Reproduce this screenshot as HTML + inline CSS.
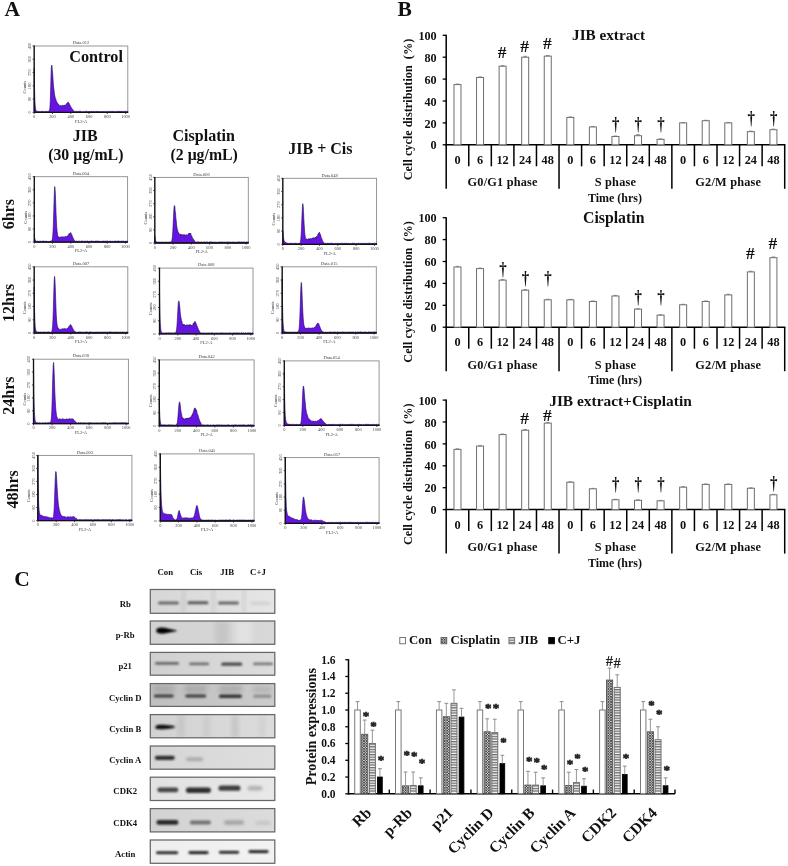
<!DOCTYPE html>
<html><head><meta charset="utf-8"><title>Figure</title>
<style>html,body{margin:0;padding:0;background:#fff;overflow:hidden;width:788px;height:866px;} svg{display:block;} text{font-family:'Liberation Serif', serif;fill:#111;}</style>
</head><body>
<svg width="788" height="866" viewBox="0 0 788 866">
<rect width="788" height="866" fill="#fff"/>
<text x="4.50" y="16.20" font-size="21.5" font-weight="bold" text-anchor="start" >A</text>
<text x="397.50" y="16.20" font-size="21.5" font-weight="bold" text-anchor="start" >B</text>
<text x="14.20" y="585.50" font-size="21.5" font-weight="bold" text-anchor="start" >C</text>
<line x1="446.2" y1="34.80" x2="446.2" y2="188.80" stroke="#000" stroke-width="1.5"/>
<line x1="445.5" y1="144.80" x2="785.40" y2="144.80" stroke="#000" stroke-width="1.5"/>
<line x1="442.7" y1="144.80" x2="446.2" y2="144.80" stroke="#000" stroke-width="1.3"/>
<text x="436.70" y="149.40" font-size="12.2" font-weight="bold" text-anchor="end">0</text>
<line x1="442.7" y1="122.90" x2="446.2" y2="122.90" stroke="#000" stroke-width="1.3"/>
<text x="436.70" y="127.50" font-size="12.2" font-weight="bold" text-anchor="end">20</text>
<line x1="442.7" y1="101.00" x2="446.2" y2="101.00" stroke="#000" stroke-width="1.3"/>
<text x="436.70" y="105.60" font-size="12.2" font-weight="bold" text-anchor="end">40</text>
<line x1="442.7" y1="79.10" x2="446.2" y2="79.10" stroke="#000" stroke-width="1.3"/>
<text x="436.70" y="83.70" font-size="12.2" font-weight="bold" text-anchor="end">60</text>
<line x1="442.7" y1="57.20" x2="446.2" y2="57.20" stroke="#000" stroke-width="1.3"/>
<text x="436.70" y="61.80" font-size="12.2" font-weight="bold" text-anchor="end">80</text>
<line x1="442.7" y1="35.30" x2="446.2" y2="35.30" stroke="#000" stroke-width="1.3"/>
<text x="436.70" y="39.90" font-size="12.2" font-weight="bold" text-anchor="end">100</text>
<line x1="468.77" y1="144.80" x2="468.77" y2="166.30" stroke="#000" stroke-width="1.5"/>
<line x1="491.33" y1="144.80" x2="491.33" y2="166.30" stroke="#000" stroke-width="1.5"/>
<line x1="513.90" y1="144.80" x2="513.90" y2="166.30" stroke="#000" stroke-width="1.5"/>
<line x1="536.47" y1="144.80" x2="536.47" y2="166.30" stroke="#000" stroke-width="1.5"/>
<line x1="559.03" y1="144.80" x2="559.03" y2="188.80" stroke="#000" stroke-width="1.5"/>
<line x1="581.60" y1="144.80" x2="581.60" y2="166.30" stroke="#000" stroke-width="1.5"/>
<line x1="604.17" y1="144.80" x2="604.17" y2="166.30" stroke="#000" stroke-width="1.5"/>
<line x1="626.73" y1="144.80" x2="626.73" y2="166.30" stroke="#000" stroke-width="1.5"/>
<line x1="649.30" y1="144.80" x2="649.30" y2="166.30" stroke="#000" stroke-width="1.5"/>
<line x1="671.87" y1="144.80" x2="671.87" y2="188.80" stroke="#000" stroke-width="1.5"/>
<line x1="694.43" y1="144.80" x2="694.43" y2="166.30" stroke="#000" stroke-width="1.5"/>
<line x1="717.00" y1="144.80" x2="717.00" y2="166.30" stroke="#000" stroke-width="1.5"/>
<line x1="739.57" y1="144.80" x2="739.57" y2="166.30" stroke="#000" stroke-width="1.5"/>
<line x1="762.13" y1="144.80" x2="762.13" y2="166.30" stroke="#000" stroke-width="1.5"/>
<line x1="784.70" y1="144.80" x2="784.70" y2="188.80" stroke="#000" stroke-width="1.5"/>
<text x="457.48" y="163.70" font-size="12.3" font-weight="bold" text-anchor="middle">0</text>
<text x="480.05" y="163.70" font-size="12.3" font-weight="bold" text-anchor="middle">6</text>
<text x="502.62" y="163.70" font-size="12.3" font-weight="bold" text-anchor="middle">12</text>
<text x="525.18" y="163.70" font-size="12.3" font-weight="bold" text-anchor="middle">24</text>
<text x="547.75" y="163.70" font-size="12.3" font-weight="bold" text-anchor="middle">48</text>
<text x="570.32" y="163.70" font-size="12.3" font-weight="bold" text-anchor="middle">0</text>
<text x="592.88" y="163.70" font-size="12.3" font-weight="bold" text-anchor="middle">6</text>
<text x="615.45" y="163.70" font-size="12.3" font-weight="bold" text-anchor="middle">12</text>
<text x="638.02" y="163.70" font-size="12.3" font-weight="bold" text-anchor="middle">24</text>
<text x="660.58" y="163.70" font-size="12.3" font-weight="bold" text-anchor="middle">48</text>
<text x="683.15" y="163.70" font-size="12.3" font-weight="bold" text-anchor="middle">0</text>
<text x="705.72" y="163.70" font-size="12.3" font-weight="bold" text-anchor="middle">6</text>
<text x="728.28" y="163.70" font-size="12.3" font-weight="bold" text-anchor="middle">12</text>
<text x="750.85" y="163.70" font-size="12.3" font-weight="bold" text-anchor="middle">24</text>
<text x="773.42" y="163.70" font-size="12.3" font-weight="bold" text-anchor="middle">48</text>
<text x="502.62" y="186.20" font-size="12.3" font-weight="bold" text-anchor="middle" letter-spacing="0.2">G0/G1 phase</text>
<text x="615.45" y="186.20" font-size="12.3" font-weight="bold" text-anchor="middle" letter-spacing="0.2">S phase</text>
<text x="728.28" y="186.20" font-size="12.3" font-weight="bold" text-anchor="middle" letter-spacing="0.2">G2/M phase</text>
<text x="614.95" y="201.90" font-size="12" font-weight="bold" text-anchor="middle">Time (hrs)</text>
<text transform="translate(411.9 109.50) rotate(-90)" font-size="12.25" font-weight="bold" text-anchor="middle" style="white-space:pre">Cell cycle distribution  (%)</text>
<text x="572.1" y="39.7" font-size="15.2" font-weight="bold">JIB extract</text>
<rect x="453.98" y="84.58" width="7.0" height="60.22" fill="#fff" stroke="#6e6e6e" stroke-width="1"/>
<line x1="457.48" y1="84.58" x2="457.48" y2="84.03" stroke="#777" stroke-width="0.8"/>
<line x1="455.68" y1="84.03" x2="459.28" y2="84.03" stroke="#777" stroke-width="0.8"/>
<rect x="476.55" y="77.46" width="7.0" height="67.34" fill="#fff" stroke="#6e6e6e" stroke-width="1"/>
<line x1="480.05" y1="77.46" x2="480.05" y2="76.91" stroke="#777" stroke-width="0.8"/>
<line x1="478.25" y1="76.91" x2="481.85" y2="76.91" stroke="#777" stroke-width="0.8"/>
<rect x="499.12" y="66.18" width="7.0" height="78.62" fill="#fff" stroke="#6e6e6e" stroke-width="1"/>
<line x1="502.62" y1="66.18" x2="502.62" y2="65.63" stroke="#777" stroke-width="0.8"/>
<line x1="500.82" y1="65.63" x2="504.42" y2="65.63" stroke="#777" stroke-width="0.8"/>
<text x="502.12" y="58.30" font-size="17.5" font-weight="bold" text-anchor="middle">#</text>
<rect x="521.68" y="57.20" width="7.0" height="87.60" fill="#fff" stroke="#6e6e6e" stroke-width="1"/>
<line x1="525.18" y1="57.20" x2="525.18" y2="56.32" stroke="#777" stroke-width="0.8"/>
<line x1="523.38" y1="56.32" x2="526.98" y2="56.32" stroke="#777" stroke-width="0.8"/>
<text x="524.68" y="52.10" font-size="17.5" font-weight="bold" text-anchor="middle">#</text>
<rect x="544.25" y="56.11" width="7.0" height="88.69" fill="#fff" stroke="#6e6e6e" stroke-width="1"/>
<line x1="547.75" y1="56.11" x2="547.75" y2="55.56" stroke="#777" stroke-width="0.8"/>
<line x1="545.95" y1="55.56" x2="549.55" y2="55.56" stroke="#777" stroke-width="0.8"/>
<text x="547.25" y="48.60" font-size="17.5" font-weight="bold" text-anchor="middle">#</text>
<rect x="566.82" y="117.43" width="7.0" height="27.38" fill="#fff" stroke="#6e6e6e" stroke-width="1"/>
<line x1="570.32" y1="117.43" x2="570.32" y2="116.99" stroke="#777" stroke-width="0.8"/>
<line x1="568.52" y1="116.99" x2="572.12" y2="116.99" stroke="#777" stroke-width="0.8"/>
<rect x="589.38" y="126.95" width="7.0" height="17.85" fill="#fff" stroke="#6e6e6e" stroke-width="1"/>
<line x1="592.88" y1="126.95" x2="592.88" y2="126.51" stroke="#777" stroke-width="0.8"/>
<line x1="591.08" y1="126.51" x2="594.68" y2="126.51" stroke="#777" stroke-width="0.8"/>
<rect x="611.95" y="136.48" width="7.0" height="8.32" fill="#fff" stroke="#6e6e6e" stroke-width="1"/>
<line x1="615.45" y1="136.48" x2="615.45" y2="136.04" stroke="#777" stroke-width="0.8"/>
<line x1="613.65" y1="136.04" x2="617.25" y2="136.04" stroke="#777" stroke-width="0.8"/>
<text transform="translate(615.75 129.86) scale(0.9 1.2)" font-size="16.5" font-weight="bold" text-anchor="middle">†</text>
<rect x="634.52" y="135.71" width="7.0" height="9.09" fill="#fff" stroke="#6e6e6e" stroke-width="1"/>
<line x1="638.02" y1="135.71" x2="638.02" y2="134.62" stroke="#777" stroke-width="0.8"/>
<line x1="636.22" y1="134.62" x2="639.82" y2="134.62" stroke="#777" stroke-width="0.8"/>
<text transform="translate(638.32 129.86) scale(0.9 1.2)" font-size="16.5" font-weight="bold" text-anchor="middle">†</text>
<rect x="657.08" y="139.33" width="7.0" height="5.47" fill="#fff" stroke="#6e6e6e" stroke-width="1"/>
<line x1="660.58" y1="139.33" x2="660.58" y2="138.89" stroke="#777" stroke-width="0.8"/>
<line x1="658.78" y1="138.89" x2="662.38" y2="138.89" stroke="#777" stroke-width="0.8"/>
<text transform="translate(660.88 129.86) scale(0.9 1.2)" font-size="16.5" font-weight="bold" text-anchor="middle">†</text>
<rect x="679.65" y="122.90" width="7.0" height="21.90" fill="#fff" stroke="#6e6e6e" stroke-width="1"/>
<line x1="683.15" y1="122.90" x2="683.15" y2="122.46" stroke="#777" stroke-width="0.8"/>
<line x1="681.35" y1="122.46" x2="684.95" y2="122.46" stroke="#777" stroke-width="0.8"/>
<rect x="702.22" y="120.71" width="7.0" height="24.09" fill="#fff" stroke="#6e6e6e" stroke-width="1"/>
<line x1="705.72" y1="120.71" x2="705.72" y2="120.27" stroke="#777" stroke-width="0.8"/>
<line x1="703.92" y1="120.27" x2="707.52" y2="120.27" stroke="#777" stroke-width="0.8"/>
<rect x="724.78" y="122.90" width="7.0" height="21.90" fill="#fff" stroke="#6e6e6e" stroke-width="1"/>
<line x1="728.28" y1="122.90" x2="728.28" y2="122.46" stroke="#777" stroke-width="0.8"/>
<line x1="726.48" y1="122.46" x2="730.08" y2="122.46" stroke="#777" stroke-width="0.8"/>
<rect x="747.35" y="131.66" width="7.0" height="13.14" fill="#fff" stroke="#6e6e6e" stroke-width="1"/>
<line x1="750.85" y1="131.66" x2="750.85" y2="131.11" stroke="#777" stroke-width="0.8"/>
<line x1="749.05" y1="131.11" x2="752.65" y2="131.11" stroke="#777" stroke-width="0.8"/>
<text transform="translate(751.15 123.76) scale(0.9 1.2)" font-size="16.5" font-weight="bold" text-anchor="middle">†</text>
<rect x="769.92" y="129.69" width="7.0" height="15.11" fill="#fff" stroke="#6e6e6e" stroke-width="1"/>
<line x1="773.42" y1="129.69" x2="773.42" y2="129.14" stroke="#777" stroke-width="0.8"/>
<line x1="771.62" y1="129.14" x2="775.22" y2="129.14" stroke="#777" stroke-width="0.8"/>
<text transform="translate(773.72 123.76) scale(0.9 1.2)" font-size="16.5" font-weight="bold" text-anchor="middle">†</text>
<line x1="446.2" y1="217.20" x2="446.2" y2="371.20" stroke="#000" stroke-width="1.5"/>
<line x1="445.5" y1="327.20" x2="785.40" y2="327.20" stroke="#000" stroke-width="1.5"/>
<line x1="442.7" y1="327.20" x2="446.2" y2="327.20" stroke="#000" stroke-width="1.3"/>
<text x="436.70" y="331.80" font-size="12.2" font-weight="bold" text-anchor="end">0</text>
<line x1="442.7" y1="305.30" x2="446.2" y2="305.30" stroke="#000" stroke-width="1.3"/>
<text x="436.70" y="309.90" font-size="12.2" font-weight="bold" text-anchor="end">20</text>
<line x1="442.7" y1="283.40" x2="446.2" y2="283.40" stroke="#000" stroke-width="1.3"/>
<text x="436.70" y="288.00" font-size="12.2" font-weight="bold" text-anchor="end">40</text>
<line x1="442.7" y1="261.50" x2="446.2" y2="261.50" stroke="#000" stroke-width="1.3"/>
<text x="436.70" y="266.10" font-size="12.2" font-weight="bold" text-anchor="end">60</text>
<line x1="442.7" y1="239.60" x2="446.2" y2="239.60" stroke="#000" stroke-width="1.3"/>
<text x="436.70" y="244.20" font-size="12.2" font-weight="bold" text-anchor="end">80</text>
<line x1="442.7" y1="217.70" x2="446.2" y2="217.70" stroke="#000" stroke-width="1.3"/>
<text x="436.70" y="222.30" font-size="12.2" font-weight="bold" text-anchor="end">100</text>
<line x1="468.77" y1="327.20" x2="468.77" y2="348.70" stroke="#000" stroke-width="1.5"/>
<line x1="491.33" y1="327.20" x2="491.33" y2="348.70" stroke="#000" stroke-width="1.5"/>
<line x1="513.90" y1="327.20" x2="513.90" y2="348.70" stroke="#000" stroke-width="1.5"/>
<line x1="536.47" y1="327.20" x2="536.47" y2="348.70" stroke="#000" stroke-width="1.5"/>
<line x1="559.03" y1="327.20" x2="559.03" y2="371.20" stroke="#000" stroke-width="1.5"/>
<line x1="581.60" y1="327.20" x2="581.60" y2="348.70" stroke="#000" stroke-width="1.5"/>
<line x1="604.17" y1="327.20" x2="604.17" y2="348.70" stroke="#000" stroke-width="1.5"/>
<line x1="626.73" y1="327.20" x2="626.73" y2="348.70" stroke="#000" stroke-width="1.5"/>
<line x1="649.30" y1="327.20" x2="649.30" y2="348.70" stroke="#000" stroke-width="1.5"/>
<line x1="671.87" y1="327.20" x2="671.87" y2="371.20" stroke="#000" stroke-width="1.5"/>
<line x1="694.43" y1="327.20" x2="694.43" y2="348.70" stroke="#000" stroke-width="1.5"/>
<line x1="717.00" y1="327.20" x2="717.00" y2="348.70" stroke="#000" stroke-width="1.5"/>
<line x1="739.57" y1="327.20" x2="739.57" y2="348.70" stroke="#000" stroke-width="1.5"/>
<line x1="762.13" y1="327.20" x2="762.13" y2="348.70" stroke="#000" stroke-width="1.5"/>
<line x1="784.70" y1="327.20" x2="784.70" y2="371.20" stroke="#000" stroke-width="1.5"/>
<text x="457.48" y="346.10" font-size="12.3" font-weight="bold" text-anchor="middle">0</text>
<text x="480.05" y="346.10" font-size="12.3" font-weight="bold" text-anchor="middle">6</text>
<text x="502.62" y="346.10" font-size="12.3" font-weight="bold" text-anchor="middle">12</text>
<text x="525.18" y="346.10" font-size="12.3" font-weight="bold" text-anchor="middle">24</text>
<text x="547.75" y="346.10" font-size="12.3" font-weight="bold" text-anchor="middle">48</text>
<text x="570.32" y="346.10" font-size="12.3" font-weight="bold" text-anchor="middle">0</text>
<text x="592.88" y="346.10" font-size="12.3" font-weight="bold" text-anchor="middle">6</text>
<text x="615.45" y="346.10" font-size="12.3" font-weight="bold" text-anchor="middle">12</text>
<text x="638.02" y="346.10" font-size="12.3" font-weight="bold" text-anchor="middle">24</text>
<text x="660.58" y="346.10" font-size="12.3" font-weight="bold" text-anchor="middle">48</text>
<text x="683.15" y="346.10" font-size="12.3" font-weight="bold" text-anchor="middle">0</text>
<text x="705.72" y="346.10" font-size="12.3" font-weight="bold" text-anchor="middle">6</text>
<text x="728.28" y="346.10" font-size="12.3" font-weight="bold" text-anchor="middle">12</text>
<text x="750.85" y="346.10" font-size="12.3" font-weight="bold" text-anchor="middle">24</text>
<text x="773.42" y="346.10" font-size="12.3" font-weight="bold" text-anchor="middle">48</text>
<text x="502.62" y="368.60" font-size="12.3" font-weight="bold" text-anchor="middle" letter-spacing="0.2">G0/G1 phase</text>
<text x="615.45" y="368.60" font-size="12.3" font-weight="bold" text-anchor="middle" letter-spacing="0.2">S phase</text>
<text x="728.28" y="368.60" font-size="12.3" font-weight="bold" text-anchor="middle" letter-spacing="0.2">G2/M phase</text>
<text x="614.95" y="384.30" font-size="12" font-weight="bold" text-anchor="middle">Time (hrs)</text>
<text transform="translate(411.9 291.90) rotate(-90)" font-size="12.25" font-weight="bold" text-anchor="middle" style="white-space:pre">Cell cycle distribution  (%)</text>
<text x="583.0" y="222.8" font-size="15.8" font-weight="bold">Cisplatin</text>
<rect x="453.98" y="266.97" width="7.0" height="60.23" fill="#fff" stroke="#6e6e6e" stroke-width="1"/>
<line x1="457.48" y1="266.97" x2="457.48" y2="266.43" stroke="#777" stroke-width="0.8"/>
<line x1="455.68" y1="266.43" x2="459.28" y2="266.43" stroke="#777" stroke-width="0.8"/>
<rect x="476.55" y="268.62" width="7.0" height="58.58" fill="#fff" stroke="#6e6e6e" stroke-width="1"/>
<line x1="480.05" y1="268.62" x2="480.05" y2="268.07" stroke="#777" stroke-width="0.8"/>
<line x1="478.25" y1="268.07" x2="481.85" y2="268.07" stroke="#777" stroke-width="0.8"/>
<rect x="499.12" y="280.12" width="7.0" height="47.08" fill="#fff" stroke="#6e6e6e" stroke-width="1"/>
<line x1="502.62" y1="280.12" x2="502.62" y2="279.57" stroke="#777" stroke-width="0.8"/>
<line x1="500.82" y1="279.57" x2="504.42" y2="279.57" stroke="#777" stroke-width="0.8"/>
<text transform="translate(502.92 274.66) scale(0.9 1.2)" font-size="16.5" font-weight="bold" text-anchor="middle">†</text>
<rect x="521.68" y="290.19" width="7.0" height="37.01" fill="#fff" stroke="#6e6e6e" stroke-width="1"/>
<line x1="525.18" y1="290.19" x2="525.18" y2="289.64" stroke="#777" stroke-width="0.8"/>
<line x1="523.38" y1="289.64" x2="526.98" y2="289.64" stroke="#777" stroke-width="0.8"/>
<text transform="translate(525.48 284.36) scale(0.9 1.2)" font-size="16.5" font-weight="bold" text-anchor="middle">†</text>
<rect x="544.25" y="299.82" width="7.0" height="27.38" fill="#fff" stroke="#6e6e6e" stroke-width="1"/>
<line x1="547.75" y1="299.82" x2="547.75" y2="299.28" stroke="#777" stroke-width="0.8"/>
<line x1="545.95" y1="299.28" x2="549.55" y2="299.28" stroke="#777" stroke-width="0.8"/>
<text transform="translate(548.05 284.36) scale(0.9 1.2)" font-size="16.5" font-weight="bold" text-anchor="middle">†</text>
<rect x="566.82" y="299.82" width="7.0" height="27.38" fill="#fff" stroke="#6e6e6e" stroke-width="1"/>
<line x1="570.32" y1="299.82" x2="570.32" y2="299.39" stroke="#777" stroke-width="0.8"/>
<line x1="568.52" y1="299.39" x2="572.12" y2="299.39" stroke="#777" stroke-width="0.8"/>
<rect x="589.38" y="301.47" width="7.0" height="25.73" fill="#fff" stroke="#6e6e6e" stroke-width="1"/>
<line x1="592.88" y1="301.47" x2="592.88" y2="301.03" stroke="#777" stroke-width="0.8"/>
<line x1="591.08" y1="301.03" x2="594.68" y2="301.03" stroke="#777" stroke-width="0.8"/>
<rect x="611.95" y="295.99" width="7.0" height="31.21" fill="#fff" stroke="#6e6e6e" stroke-width="1"/>
<line x1="615.45" y1="295.99" x2="615.45" y2="295.34" stroke="#777" stroke-width="0.8"/>
<line x1="613.65" y1="295.34" x2="617.25" y2="295.34" stroke="#777" stroke-width="0.8"/>
<rect x="634.52" y="309.13" width="7.0" height="18.07" fill="#fff" stroke="#6e6e6e" stroke-width="1"/>
<line x1="638.02" y1="309.13" x2="638.02" y2="308.69" stroke="#777" stroke-width="0.8"/>
<line x1="636.22" y1="308.69" x2="639.82" y2="308.69" stroke="#777" stroke-width="0.8"/>
<text transform="translate(638.32 302.66) scale(0.9 1.2)" font-size="16.5" font-weight="bold" text-anchor="middle">†</text>
<rect x="657.08" y="315.15" width="7.0" height="12.05" fill="#fff" stroke="#6e6e6e" stroke-width="1"/>
<line x1="660.58" y1="315.15" x2="660.58" y2="314.72" stroke="#777" stroke-width="0.8"/>
<line x1="658.78" y1="314.72" x2="662.38" y2="314.72" stroke="#777" stroke-width="0.8"/>
<text transform="translate(660.88 302.66) scale(0.9 1.2)" font-size="16.5" font-weight="bold" text-anchor="middle">†</text>
<rect x="679.65" y="304.75" width="7.0" height="22.45" fill="#fff" stroke="#6e6e6e" stroke-width="1"/>
<line x1="683.15" y1="304.75" x2="683.15" y2="304.31" stroke="#777" stroke-width="0.8"/>
<line x1="681.35" y1="304.31" x2="684.95" y2="304.31" stroke="#777" stroke-width="0.8"/>
<rect x="702.22" y="301.47" width="7.0" height="25.73" fill="#fff" stroke="#6e6e6e" stroke-width="1"/>
<line x1="705.72" y1="301.47" x2="705.72" y2="301.03" stroke="#777" stroke-width="0.8"/>
<line x1="703.92" y1="301.03" x2="707.52" y2="301.03" stroke="#777" stroke-width="0.8"/>
<rect x="724.78" y="294.90" width="7.0" height="32.30" fill="#fff" stroke="#6e6e6e" stroke-width="1"/>
<line x1="728.28" y1="294.90" x2="728.28" y2="294.24" stroke="#777" stroke-width="0.8"/>
<line x1="726.48" y1="294.24" x2="730.08" y2="294.24" stroke="#777" stroke-width="0.8"/>
<rect x="747.35" y="271.90" width="7.0" height="55.30" fill="#fff" stroke="#6e6e6e" stroke-width="1"/>
<line x1="750.85" y1="271.90" x2="750.85" y2="271.25" stroke="#777" stroke-width="0.8"/>
<line x1="749.05" y1="271.25" x2="752.65" y2="271.25" stroke="#777" stroke-width="0.8"/>
<text x="750.35" y="259.00" font-size="17.5" font-weight="bold" text-anchor="middle">#</text>
<rect x="769.92" y="257.67" width="7.0" height="69.53" fill="#fff" stroke="#6e6e6e" stroke-width="1"/>
<line x1="773.42" y1="257.67" x2="773.42" y2="257.01" stroke="#777" stroke-width="0.8"/>
<line x1="771.62" y1="257.01" x2="775.22" y2="257.01" stroke="#777" stroke-width="0.8"/>
<text x="772.92" y="249.00" font-size="17.5" font-weight="bold" text-anchor="middle">#</text>
<line x1="446.2" y1="399.60" x2="446.2" y2="553.60" stroke="#000" stroke-width="1.5"/>
<line x1="445.5" y1="509.60" x2="785.40" y2="509.60" stroke="#000" stroke-width="1.5"/>
<line x1="442.7" y1="509.60" x2="446.2" y2="509.60" stroke="#000" stroke-width="1.3"/>
<text x="436.70" y="514.20" font-size="12.2" font-weight="bold" text-anchor="end">0</text>
<line x1="442.7" y1="487.70" x2="446.2" y2="487.70" stroke="#000" stroke-width="1.3"/>
<text x="436.70" y="492.30" font-size="12.2" font-weight="bold" text-anchor="end">20</text>
<line x1="442.7" y1="465.80" x2="446.2" y2="465.80" stroke="#000" stroke-width="1.3"/>
<text x="436.70" y="470.40" font-size="12.2" font-weight="bold" text-anchor="end">40</text>
<line x1="442.7" y1="443.90" x2="446.2" y2="443.90" stroke="#000" stroke-width="1.3"/>
<text x="436.70" y="448.50" font-size="12.2" font-weight="bold" text-anchor="end">60</text>
<line x1="442.7" y1="422.00" x2="446.2" y2="422.00" stroke="#000" stroke-width="1.3"/>
<text x="436.70" y="426.60" font-size="12.2" font-weight="bold" text-anchor="end">80</text>
<line x1="442.7" y1="400.10" x2="446.2" y2="400.10" stroke="#000" stroke-width="1.3"/>
<text x="436.70" y="404.70" font-size="12.2" font-weight="bold" text-anchor="end">100</text>
<line x1="468.77" y1="509.60" x2="468.77" y2="531.10" stroke="#000" stroke-width="1.5"/>
<line x1="491.33" y1="509.60" x2="491.33" y2="531.10" stroke="#000" stroke-width="1.5"/>
<line x1="513.90" y1="509.60" x2="513.90" y2="531.10" stroke="#000" stroke-width="1.5"/>
<line x1="536.47" y1="509.60" x2="536.47" y2="531.10" stroke="#000" stroke-width="1.5"/>
<line x1="559.03" y1="509.60" x2="559.03" y2="553.60" stroke="#000" stroke-width="1.5"/>
<line x1="581.60" y1="509.60" x2="581.60" y2="531.10" stroke="#000" stroke-width="1.5"/>
<line x1="604.17" y1="509.60" x2="604.17" y2="531.10" stroke="#000" stroke-width="1.5"/>
<line x1="626.73" y1="509.60" x2="626.73" y2="531.10" stroke="#000" stroke-width="1.5"/>
<line x1="649.30" y1="509.60" x2="649.30" y2="531.10" stroke="#000" stroke-width="1.5"/>
<line x1="671.87" y1="509.60" x2="671.87" y2="553.60" stroke="#000" stroke-width="1.5"/>
<line x1="694.43" y1="509.60" x2="694.43" y2="531.10" stroke="#000" stroke-width="1.5"/>
<line x1="717.00" y1="509.60" x2="717.00" y2="531.10" stroke="#000" stroke-width="1.5"/>
<line x1="739.57" y1="509.60" x2="739.57" y2="531.10" stroke="#000" stroke-width="1.5"/>
<line x1="762.13" y1="509.60" x2="762.13" y2="531.10" stroke="#000" stroke-width="1.5"/>
<line x1="784.70" y1="509.60" x2="784.70" y2="553.60" stroke="#000" stroke-width="1.5"/>
<text x="457.48" y="528.50" font-size="12.3" font-weight="bold" text-anchor="middle">0</text>
<text x="480.05" y="528.50" font-size="12.3" font-weight="bold" text-anchor="middle">6</text>
<text x="502.62" y="528.50" font-size="12.3" font-weight="bold" text-anchor="middle">12</text>
<text x="525.18" y="528.50" font-size="12.3" font-weight="bold" text-anchor="middle">24</text>
<text x="547.75" y="528.50" font-size="12.3" font-weight="bold" text-anchor="middle">48</text>
<text x="570.32" y="528.50" font-size="12.3" font-weight="bold" text-anchor="middle">0</text>
<text x="592.88" y="528.50" font-size="12.3" font-weight="bold" text-anchor="middle">6</text>
<text x="615.45" y="528.50" font-size="12.3" font-weight="bold" text-anchor="middle">12</text>
<text x="638.02" y="528.50" font-size="12.3" font-weight="bold" text-anchor="middle">24</text>
<text x="660.58" y="528.50" font-size="12.3" font-weight="bold" text-anchor="middle">48</text>
<text x="683.15" y="528.50" font-size="12.3" font-weight="bold" text-anchor="middle">0</text>
<text x="705.72" y="528.50" font-size="12.3" font-weight="bold" text-anchor="middle">6</text>
<text x="728.28" y="528.50" font-size="12.3" font-weight="bold" text-anchor="middle">12</text>
<text x="750.85" y="528.50" font-size="12.3" font-weight="bold" text-anchor="middle">24</text>
<text x="773.42" y="528.50" font-size="12.3" font-weight="bold" text-anchor="middle">48</text>
<text x="502.62" y="551.00" font-size="12.3" font-weight="bold" text-anchor="middle" letter-spacing="0.2">G0/G1 phase</text>
<text x="615.45" y="551.00" font-size="12.3" font-weight="bold" text-anchor="middle" letter-spacing="0.2">S phase</text>
<text x="728.28" y="551.00" font-size="12.3" font-weight="bold" text-anchor="middle" letter-spacing="0.2">G2/M phase</text>
<text x="614.95" y="566.70" font-size="12" font-weight="bold" text-anchor="middle">Time (hrs)</text>
<text transform="translate(411.9 474.30) rotate(-90)" font-size="12.25" font-weight="bold" text-anchor="middle" style="white-space:pre">Cell cycle distribution  (%)</text>
<text x="549.2" y="405.6" font-size="15.4" font-weight="bold">JIB extract+Cisplatin</text>
<rect x="453.98" y="449.38" width="7.0" height="60.23" fill="#fff" stroke="#6e6e6e" stroke-width="1"/>
<line x1="457.48" y1="449.38" x2="457.48" y2="448.83" stroke="#777" stroke-width="0.8"/>
<line x1="455.68" y1="448.83" x2="459.28" y2="448.83" stroke="#777" stroke-width="0.8"/>
<rect x="476.55" y="446.09" width="7.0" height="63.51" fill="#fff" stroke="#6e6e6e" stroke-width="1"/>
<line x1="480.05" y1="446.09" x2="480.05" y2="445.54" stroke="#777" stroke-width="0.8"/>
<line x1="478.25" y1="445.54" x2="481.85" y2="445.54" stroke="#777" stroke-width="0.8"/>
<rect x="499.12" y="434.59" width="7.0" height="75.01" fill="#fff" stroke="#6e6e6e" stroke-width="1"/>
<line x1="502.62" y1="434.59" x2="502.62" y2="434.05" stroke="#777" stroke-width="0.8"/>
<line x1="500.82" y1="434.05" x2="504.42" y2="434.05" stroke="#777" stroke-width="0.8"/>
<rect x="521.68" y="430.21" width="7.0" height="79.39" fill="#fff" stroke="#6e6e6e" stroke-width="1"/>
<line x1="525.18" y1="430.21" x2="525.18" y2="429.56" stroke="#777" stroke-width="0.8"/>
<line x1="523.38" y1="429.56" x2="526.98" y2="429.56" stroke="#777" stroke-width="0.8"/>
<text x="524.68" y="424.00" font-size="17.5" font-weight="bold" text-anchor="middle">#</text>
<rect x="544.25" y="423.10" width="7.0" height="86.50" fill="#fff" stroke="#6e6e6e" stroke-width="1"/>
<line x1="547.75" y1="423.10" x2="547.75" y2="422.44" stroke="#777" stroke-width="0.8"/>
<line x1="545.95" y1="422.44" x2="549.55" y2="422.44" stroke="#777" stroke-width="0.8"/>
<text x="547.25" y="421.30" font-size="17.5" font-weight="bold" text-anchor="middle">#</text>
<rect x="566.82" y="482.23" width="7.0" height="27.38" fill="#fff" stroke="#6e6e6e" stroke-width="1"/>
<line x1="570.32" y1="482.23" x2="570.32" y2="481.79" stroke="#777" stroke-width="0.8"/>
<line x1="568.52" y1="481.79" x2="572.12" y2="481.79" stroke="#777" stroke-width="0.8"/>
<rect x="589.38" y="488.80" width="7.0" height="20.81" fill="#fff" stroke="#6e6e6e" stroke-width="1"/>
<line x1="592.88" y1="488.80" x2="592.88" y2="488.36" stroke="#777" stroke-width="0.8"/>
<line x1="591.08" y1="488.36" x2="594.68" y2="488.36" stroke="#777" stroke-width="0.8"/>
<rect x="611.95" y="499.75" width="7.0" height="9.86" fill="#fff" stroke="#6e6e6e" stroke-width="1"/>
<line x1="615.45" y1="499.75" x2="615.45" y2="499.31" stroke="#777" stroke-width="0.8"/>
<line x1="613.65" y1="499.31" x2="617.25" y2="499.31" stroke="#777" stroke-width="0.8"/>
<text transform="translate(615.75 490.26) scale(0.9 1.2)" font-size="16.5" font-weight="bold" text-anchor="middle">†</text>
<rect x="634.52" y="500.29" width="7.0" height="9.31" fill="#fff" stroke="#6e6e6e" stroke-width="1"/>
<line x1="638.02" y1="500.29" x2="638.02" y2="499.85" stroke="#777" stroke-width="0.8"/>
<line x1="636.22" y1="499.85" x2="639.82" y2="499.85" stroke="#777" stroke-width="0.8"/>
<text transform="translate(638.32 490.26) scale(0.9 1.2)" font-size="16.5" font-weight="bold" text-anchor="middle">†</text>
<rect x="657.08" y="500.84" width="7.0" height="8.76" fill="#fff" stroke="#6e6e6e" stroke-width="1"/>
<line x1="660.58" y1="500.84" x2="660.58" y2="500.40" stroke="#777" stroke-width="0.8"/>
<line x1="658.78" y1="500.40" x2="662.38" y2="500.40" stroke="#777" stroke-width="0.8"/>
<text transform="translate(660.88 490.26) scale(0.9 1.2)" font-size="16.5" font-weight="bold" text-anchor="middle">†</text>
<rect x="679.65" y="487.15" width="7.0" height="22.45" fill="#fff" stroke="#6e6e6e" stroke-width="1"/>
<line x1="683.15" y1="487.15" x2="683.15" y2="486.71" stroke="#777" stroke-width="0.8"/>
<line x1="681.35" y1="486.71" x2="684.95" y2="486.71" stroke="#777" stroke-width="0.8"/>
<rect x="702.22" y="484.42" width="7.0" height="25.19" fill="#fff" stroke="#6e6e6e" stroke-width="1"/>
<line x1="705.72" y1="484.42" x2="705.72" y2="483.98" stroke="#777" stroke-width="0.8"/>
<line x1="703.92" y1="483.98" x2="707.52" y2="483.98" stroke="#777" stroke-width="0.8"/>
<rect x="724.78" y="484.42" width="7.0" height="25.19" fill="#fff" stroke="#6e6e6e" stroke-width="1"/>
<line x1="728.28" y1="484.42" x2="728.28" y2="483.98" stroke="#777" stroke-width="0.8"/>
<line x1="726.48" y1="483.98" x2="730.08" y2="483.98" stroke="#777" stroke-width="0.8"/>
<rect x="747.35" y="488.25" width="7.0" height="21.35" fill="#fff" stroke="#6e6e6e" stroke-width="1"/>
<line x1="750.85" y1="488.25" x2="750.85" y2="487.81" stroke="#777" stroke-width="0.8"/>
<line x1="749.05" y1="487.81" x2="752.65" y2="487.81" stroke="#777" stroke-width="0.8"/>
<rect x="769.92" y="494.82" width="7.0" height="14.78" fill="#fff" stroke="#6e6e6e" stroke-width="1"/>
<line x1="773.42" y1="494.82" x2="773.42" y2="494.38" stroke="#777" stroke-width="0.8"/>
<line x1="771.62" y1="494.38" x2="775.22" y2="494.38" stroke="#777" stroke-width="0.8"/>
<text transform="translate(773.72 488.96) scale(0.9 1.2)" font-size="16.5" font-weight="bold" text-anchor="middle">†</text>
<rect x="34.20" y="46.00" width="93.60" height="66.40" fill="#fff" stroke="#8a8a8a" stroke-width="0.9"/>
<path d="M34.20,112.40 L34.20,67.83 L34.53,89.04 L34.87,99.82 L35.20,105.46 L35.54,108.33 L35.87,109.96 L36.21,110.52 L36.54,111.05 L36.87,111.49 L37.21,111.39 L37.54,111.66 L37.88,111.21 L38.21,111.22 L38.55,111.55 L38.88,111.57 L39.21,111.33 L39.55,111.63 L39.88,111.64 L40.22,111.64 L40.55,111.55 L40.89,111.40 L41.22,111.22 L41.55,111.62 L41.89,111.23 L42.22,111.44 L42.56,111.26 L42.89,111.30 L43.23,111.65 L43.56,111.39 L43.89,111.67 L44.23,111.73 L44.56,111.53 L44.90,111.33 L45.23,111.44 L45.57,111.63 L45.90,111.29 L46.23,111.25 L46.57,111.61 L46.90,111.50 L47.24,111.40 L47.57,111.26 L47.91,111.67 L48.24,111.44 L48.57,111.20 L48.91,111.30 L49.24,110.94 L49.58,109.96 L49.91,107.54 L50.25,101.89 L50.58,91.62 L50.91,79.01 L51.25,68.11 L51.58,65.39 L51.92,65.12 L52.25,69.39 L52.59,72.69 L52.92,77.57 L53.25,82.50 L53.59,86.87 L53.92,89.14 L54.26,92.19 L54.59,94.85 L54.93,96.22 L55.26,97.89 L55.59,98.38 L55.93,99.45 L56.26,101.35 L56.60,102.03 L56.93,101.81 L57.27,103.07 L57.60,103.22 L57.93,103.51 L58.27,104.14 L58.60,104.22 L58.94,104.57 L59.27,105.47 L59.61,105.72 L59.94,106.07 L60.27,105.91 L60.61,105.13 L60.94,105.58 L61.28,105.87 L61.61,106.12 L61.95,105.99 L62.28,106.29 L62.61,105.11 L62.95,104.93 L63.28,106.06 L63.62,105.98 L63.95,105.50 L64.29,106.01 L64.62,104.95 L64.95,105.03 L65.29,106.08 L65.62,105.53 L65.96,104.49 L66.29,103.77 L66.63,103.88 L66.96,103.37 L67.29,102.75 L67.63,103.03 L67.96,102.32 L68.30,102.14 L68.63,102.57 L68.97,102.97 L69.30,103.97 L69.63,104.66 L69.97,104.76 L70.30,105.89 L70.64,106.17 L70.97,107.13 L71.31,107.87 L71.64,107.98 L71.97,108.75 L72.31,109.13 L72.64,109.16 L72.98,110.22 L73.31,110.36 L73.65,110.79 L73.98,111.05 L74.31,111.40 L74.65,111.22 L74.98,111.66 L75.32,111.33 L75.65,111.43 L75.99,111.65 L76.32,111.23 L76.65,111.34 L76.99,111.53 L77.32,111.26 L77.66,111.68 L77.99,111.29 L78.33,111.29 L78.66,111.67 L78.99,111.25 L79.33,111.32 L79.66,111.25 L80.00,111.59 L80.33,111.34 L80.67,111.32 L81.00,111.55 L81.33,111.72 L81.67,111.73 L82.00,111.47 L82.34,111.44 L82.67,111.67 L83.01,111.40 L83.34,111.71 L83.67,111.48 L84.01,111.46 L84.34,111.63 L84.68,111.71 L85.01,111.26 L85.35,111.28 L85.68,111.42 L86.01,111.72 L86.35,111.46 L86.68,111.22 L87.02,111.33 L87.35,111.37 L87.69,111.71 L88.02,111.43 L88.35,111.61 L88.69,111.21 L89.02,111.73 L89.36,111.62 L89.69,111.27 L90.03,111.67 L90.36,111.58 L90.69,111.57 L91.03,111.27 L91.36,111.37 L91.70,111.24 L92.03,111.63 L92.37,111.69 L92.70,111.55 L93.03,111.33 L93.37,111.41 L93.70,111.24 L94.04,111.36 L94.37,111.69 L94.71,111.57 L95.04,111.63 L95.37,111.59 L95.71,111.38 L96.04,111.50 L96.38,111.33 L96.71,111.73 L97.05,111.25 L97.38,111.65 L97.71,111.34 L98.05,111.29 L98.38,111.71 L98.72,111.45 L99.05,111.22 L99.39,111.73 L99.72,111.47 L100.05,111.51 L100.39,111.53 L100.72,111.63 L101.06,111.64 L101.39,111.59 L101.73,111.62 L102.06,111.58 L102.39,111.26 L102.73,111.23 L103.06,111.60 L103.40,111.72 L103.73,111.59 L104.07,111.28 L104.40,111.64 L104.73,111.38 L105.07,111.69 L105.40,111.55 L105.74,111.65 L106.07,111.41 L106.41,111.54 L106.74,111.32 L107.07,111.46 L107.41,111.52 L107.74,111.72 L108.08,111.29 L108.41,111.72 L108.75,111.47 L109.08,111.21 L109.41,111.32 L109.75,111.55 L110.08,111.24 L110.42,111.60 L110.75,111.43 L111.09,111.43 L111.42,111.35 L111.75,111.58 L112.09,111.52 L112.42,111.56 L112.76,111.25 L113.09,111.34 L113.43,111.56 L113.76,111.32 L114.09,111.41 L114.43,111.60 L114.76,111.47 L115.10,111.68 L115.43,111.62 L115.77,111.70 L116.10,111.69 L116.43,111.41 L116.77,111.30 L117.10,111.29 L117.44,111.62 L117.77,111.23 L118.11,111.56 L118.44,111.37 L118.77,111.42 L119.11,111.48 L119.44,111.37 L119.78,111.26 L120.11,111.37 L120.45,111.47 L120.78,111.28 L121.11,111.34 L121.45,111.54 L121.78,111.22 L122.12,111.52 L122.45,111.71 L122.79,111.22 L123.12,111.24 L123.45,111.45 L123.79,111.34 L124.12,111.37 L124.46,111.68 L124.79,111.31 L125.13,111.40 L125.46,111.22 L125.79,111.48 L126.13,111.59 L126.46,111.33 L126.80,111.44 L127.13,111.27 L127.47,111.71 L127.80,111.37 L127.80,112.40Z" fill="#6614e2" stroke="#1e0a55" stroke-width="0.6" stroke-linejoin="round"/>
<line x1="34.20" y1="45.60" x2="34.20" y2="112.40" stroke="#111" stroke-width="1.3"/>
<line x1="34.20" y1="112.40" x2="128.20" y2="112.40" stroke="#111" stroke-width="1.3"/>
<line x1="32.60" y1="112.40" x2="34.20" y2="112.40" stroke="#222" stroke-width="0.8"/>
<text transform="translate(30.90 112.40) rotate(-90)" font-size="4.4" font-weight="normal" text-anchor="middle" style="fill:#444">0</text>
<line x1="32.60" y1="99.12" x2="34.20" y2="99.12" stroke="#222" stroke-width="0.8"/>
<text transform="translate(30.90 99.12) rotate(-90)" font-size="4.4" font-weight="normal" text-anchor="middle" style="fill:#444">90</text>
<line x1="32.60" y1="85.84" x2="34.20" y2="85.84" stroke="#222" stroke-width="0.8"/>
<text transform="translate(30.90 85.84) rotate(-90)" font-size="4.4" font-weight="normal" text-anchor="middle" style="fill:#444">180</text>
<line x1="32.60" y1="72.56" x2="34.20" y2="72.56" stroke="#222" stroke-width="0.8"/>
<text transform="translate(30.90 72.56) rotate(-90)" font-size="4.4" font-weight="normal" text-anchor="middle" style="fill:#444">270</text>
<line x1="32.60" y1="59.28" x2="34.20" y2="59.28" stroke="#222" stroke-width="0.8"/>
<text transform="translate(30.90 59.28) rotate(-90)" font-size="4.4" font-weight="normal" text-anchor="middle" style="fill:#444">360</text>
<line x1="32.60" y1="46.00" x2="34.20" y2="46.00" stroke="#222" stroke-width="0.8"/>
<text transform="translate(30.90 46.00) rotate(-90)" font-size="4.4" font-weight="normal" text-anchor="middle" style="fill:#444">450</text>
<line x1="34.20" y1="112.40" x2="34.20" y2="114.00" stroke="#222" stroke-width="0.8"/>
<text x="34.20" y="118.00" font-size="4.4" font-weight="normal" text-anchor="middle" style="fill:#444">0</text>
<line x1="52.48" y1="112.40" x2="52.48" y2="114.00" stroke="#222" stroke-width="0.8"/>
<text x="52.48" y="118.00" font-size="4.4" font-weight="normal" text-anchor="middle" style="fill:#444">200</text>
<line x1="70.76" y1="112.40" x2="70.76" y2="114.00" stroke="#222" stroke-width="0.8"/>
<text x="70.76" y="118.00" font-size="4.4" font-weight="normal" text-anchor="middle" style="fill:#444">400</text>
<line x1="89.04" y1="112.40" x2="89.04" y2="114.00" stroke="#222" stroke-width="0.8"/>
<text x="89.04" y="118.00" font-size="4.4" font-weight="normal" text-anchor="middle" style="fill:#444">600</text>
<line x1="107.33" y1="112.40" x2="107.33" y2="114.00" stroke="#222" stroke-width="0.8"/>
<text x="107.33" y="118.00" font-size="4.4" font-weight="normal" text-anchor="middle" style="fill:#444">800</text>
<line x1="125.61" y1="112.40" x2="125.61" y2="114.00" stroke="#222" stroke-width="0.8"/>
<text x="125.61" y="118.00" font-size="4.4" font-weight="normal" text-anchor="middle" style="fill:#444">1000</text>
<text x="81.00" y="122.60" font-size="4.5" font-weight="normal" text-anchor="middle" style="fill:#444">FL2-A</text>
<text transform="translate(26.40 87.17) rotate(-90)" font-size="4.5" font-weight="normal" text-anchor="middle" style="fill:#444">Counts</text>
<text x="81.00" y="44.20" font-size="4.5" font-weight="normal" text-anchor="middle" style="fill:#444">Data.012</text>
<rect x="34.30" y="176.70" width="93.30" height="65.40" fill="#fff" stroke="#8a8a8a" stroke-width="0.9"/>
<path d="M34.30,242.10 L34.30,234.60 L34.63,237.99 L34.97,239.22 L35.30,240.08 L35.64,240.75 L35.97,240.87 L36.31,241.22 L36.64,241.27 L36.98,241.26 L37.31,241.07 L37.64,241.33 L37.98,240.93 L38.31,241.41 L38.65,241.34 L38.98,241.40 L39.32,241.04 L39.65,241.25 L39.98,241.20 L40.32,241.28 L40.65,241.11 L40.99,241.23 L41.32,241.34 L41.66,241.22 L41.99,241.29 L42.33,241.39 L42.66,241.02 L42.99,241.09 L43.33,241.10 L43.66,240.98 L44.00,241.24 L44.33,241.25 L44.67,241.22 L45.00,241.23 L45.34,241.10 L45.67,241.44 L46.00,241.20 L46.34,241.17 L46.67,241.27 L47.01,241.43 L47.34,241.08 L47.68,241.44 L48.01,241.15 L48.35,241.37 L48.68,241.43 L49.01,241.35 L49.35,241.41 L49.68,241.37 L50.02,241.09 L50.35,241.06 L50.69,241.24 L51.02,241.06 L51.35,241.07 L51.69,240.84 L52.02,240.10 L52.36,239.18 L52.69,236.37 L53.03,231.77 L53.36,224.10 L53.70,213.87 L54.03,202.04 L54.36,191.99 L54.70,186.52 L55.03,188.34 L55.37,194.03 L55.70,202.97 L56.04,213.12 L56.37,220.29 L56.71,226.56 L57.04,231.01 L57.37,233.00 L57.71,235.72 L58.04,236.02 L58.38,237.27 L58.71,236.88 L59.05,237.01 L59.38,237.68 L59.72,237.00 L60.05,237.21 L60.38,237.27 L60.72,237.46 L61.05,236.70 L61.39,237.04 L61.72,237.16 L62.06,236.96 L62.39,236.91 L62.72,236.55 L63.06,236.81 L63.39,236.75 L63.73,237.35 L64.06,237.38 L64.40,237.10 L64.73,236.81 L65.07,236.35 L65.40,236.65 L65.73,236.39 L66.07,236.62 L66.40,236.29 L66.74,236.49 L67.07,236.26 L67.41,236.66 L67.74,235.42 L68.08,235.46 L68.41,235.38 L68.74,234.13 L69.08,234.29 L69.41,233.19 L69.75,233.95 L70.08,233.61 L70.42,233.49 L70.75,232.48 L71.08,233.56 L71.42,234.14 L71.75,234.29 L72.09,235.61 L72.42,236.56 L72.76,237.11 L73.09,238.17 L73.43,238.59 L73.76,239.52 L74.09,240.03 L74.43,240.16 L74.76,240.66 L75.10,241.14 L75.43,241.39 L75.77,241.33 L76.10,241.17 L76.44,241.07 L76.77,240.96 L77.10,241.18 L77.44,241.33 L77.77,241.14 L78.11,240.96 L78.44,241.27 L78.78,240.96 L79.11,240.97 L79.45,241.14 L79.78,241.19 L80.11,241.38 L80.45,241.39 L80.78,241.42 L81.12,241.13 L81.45,241.07 L81.79,240.93 L82.12,241.13 L82.45,240.93 L82.79,241.24 L83.12,241.38 L83.46,241.41 L83.79,241.30 L84.13,241.17 L84.46,240.93 L84.80,241.29 L85.13,241.32 L85.46,241.07 L85.80,241.24 L86.13,241.15 L86.47,241.37 L86.80,241.00 L87.14,240.96 L87.47,241.05 L87.81,240.96 L88.14,241.27 L88.47,241.43 L88.81,241.29 L89.14,240.98 L89.48,241.20 L89.81,241.34 L90.15,241.37 L90.48,241.36 L90.82,241.22 L91.15,240.96 L91.48,240.98 L91.82,241.05 L92.15,241.05 L92.49,241.35 L92.82,241.04 L93.16,241.33 L93.49,241.17 L93.82,241.43 L94.16,240.98 L94.49,241.38 L94.83,241.14 L95.16,241.10 L95.50,241.11 L95.83,241.09 L96.17,241.25 L96.50,241.03 L96.83,240.95 L97.17,241.12 L97.50,240.93 L97.84,241.00 L98.17,241.42 L98.51,241.09 L98.84,241.40 L99.18,241.10 L99.51,241.25 L99.84,241.00 L100.18,241.42 L100.51,240.95 L100.85,241.42 L101.18,241.42 L101.52,241.44 L101.85,241.38 L102.18,240.93 L102.52,241.01 L102.85,240.97 L103.19,241.35 L103.52,241.09 L103.86,241.03 L104.19,241.07 L104.53,241.30 L104.86,240.94 L105.19,241.06 L105.53,241.09 L105.86,241.30 L106.20,241.24 L106.53,241.05 L106.87,241.18 L107.20,241.19 L107.54,240.96 L107.87,241.23 L108.20,241.00 L108.54,241.42 L108.87,241.17 L109.21,241.07 L109.54,241.44 L109.88,241.08 L110.21,241.30 L110.55,241.12 L110.88,241.12 L111.21,241.37 L111.55,240.95 L111.88,241.32 L112.22,241.37 L112.55,241.21 L112.89,241.41 L113.22,241.39 L113.55,241.05 L113.89,241.39 L114.22,241.16 L114.56,240.98 L114.89,241.21 L115.23,241.02 L115.56,241.01 L115.90,241.36 L116.23,241.41 L116.56,241.04 L116.90,240.99 L117.23,241.00 L117.57,241.07 L117.90,241.18 L118.24,240.94 L118.57,241.06 L118.91,241.05 L119.24,240.97 L119.57,241.42 L119.91,241.06 L120.24,241.14 L120.58,241.44 L120.91,241.31 L121.25,241.07 L121.58,241.17 L121.92,241.15 L122.25,241.30 L122.58,241.15 L122.92,240.99 L123.25,240.93 L123.59,241.16 L123.92,241.06 L124.26,241.40 L124.59,241.37 L124.92,241.15 L125.26,241.01 L125.59,241.38 L125.93,241.37 L126.26,241.18 L126.60,241.29 L126.93,241.37 L127.27,241.36 L127.60,241.22 L127.60,242.10Z" fill="#6614e2" stroke="#1e0a55" stroke-width="0.6" stroke-linejoin="round"/>
<line x1="34.30" y1="176.30" x2="34.30" y2="242.10" stroke="#111" stroke-width="1.3"/>
<line x1="34.30" y1="242.10" x2="128.00" y2="242.10" stroke="#111" stroke-width="1.3"/>
<line x1="32.70" y1="242.10" x2="34.30" y2="242.10" stroke="#222" stroke-width="0.8"/>
<text transform="translate(31.00 242.10) rotate(-90)" font-size="4.4" font-weight="normal" text-anchor="middle" style="fill:#444">0</text>
<line x1="32.70" y1="229.02" x2="34.30" y2="229.02" stroke="#222" stroke-width="0.8"/>
<text transform="translate(31.00 229.02) rotate(-90)" font-size="4.4" font-weight="normal" text-anchor="middle" style="fill:#444">90</text>
<line x1="32.70" y1="215.94" x2="34.30" y2="215.94" stroke="#222" stroke-width="0.8"/>
<text transform="translate(31.00 215.94) rotate(-90)" font-size="4.4" font-weight="normal" text-anchor="middle" style="fill:#444">180</text>
<line x1="32.70" y1="202.86" x2="34.30" y2="202.86" stroke="#222" stroke-width="0.8"/>
<text transform="translate(31.00 202.86) rotate(-90)" font-size="4.4" font-weight="normal" text-anchor="middle" style="fill:#444">270</text>
<line x1="32.70" y1="189.78" x2="34.30" y2="189.78" stroke="#222" stroke-width="0.8"/>
<text transform="translate(31.00 189.78) rotate(-90)" font-size="4.4" font-weight="normal" text-anchor="middle" style="fill:#444">360</text>
<line x1="32.70" y1="176.70" x2="34.30" y2="176.70" stroke="#222" stroke-width="0.8"/>
<text transform="translate(31.00 176.70) rotate(-90)" font-size="4.4" font-weight="normal" text-anchor="middle" style="fill:#444">450</text>
<line x1="34.30" y1="242.10" x2="34.30" y2="243.70" stroke="#222" stroke-width="0.8"/>
<text x="34.30" y="247.70" font-size="4.4" font-weight="normal" text-anchor="middle" style="fill:#444">0</text>
<line x1="52.52" y1="242.10" x2="52.52" y2="243.70" stroke="#222" stroke-width="0.8"/>
<text x="52.52" y="247.70" font-size="4.4" font-weight="normal" text-anchor="middle" style="fill:#444">200</text>
<line x1="70.75" y1="242.10" x2="70.75" y2="243.70" stroke="#222" stroke-width="0.8"/>
<text x="70.75" y="247.70" font-size="4.4" font-weight="normal" text-anchor="middle" style="fill:#444">400</text>
<line x1="88.97" y1="242.10" x2="88.97" y2="243.70" stroke="#222" stroke-width="0.8"/>
<text x="88.97" y="247.70" font-size="4.4" font-weight="normal" text-anchor="middle" style="fill:#444">600</text>
<line x1="107.19" y1="242.10" x2="107.19" y2="243.70" stroke="#222" stroke-width="0.8"/>
<text x="107.19" y="247.70" font-size="4.4" font-weight="normal" text-anchor="middle" style="fill:#444">800</text>
<line x1="125.41" y1="242.10" x2="125.41" y2="243.70" stroke="#222" stroke-width="0.8"/>
<text x="125.41" y="247.70" font-size="4.4" font-weight="normal" text-anchor="middle" style="fill:#444">1000</text>
<text x="80.95" y="252.30" font-size="4.5" font-weight="normal" text-anchor="middle" style="fill:#444">FL2-A</text>
<text transform="translate(26.50 217.25) rotate(-90)" font-size="4.5" font-weight="normal" text-anchor="middle" style="fill:#444">Counts</text>
<text x="80.95" y="174.90" font-size="4.5" font-weight="normal" text-anchor="middle" style="fill:#444">Data.004</text>
<rect x="154.80" y="177.40" width="93.50" height="65.60" fill="#fff" stroke="#8a8a8a" stroke-width="0.9"/>
<path d="M154.80,243.00 L154.80,235.71 L155.13,238.66 L155.47,240.53 L155.80,241.09 L156.14,241.57 L156.47,241.91 L156.80,241.90 L157.14,241.99 L157.47,242.29 L157.81,242.05 L158.14,242.01 L158.47,242.07 L158.81,241.88 L159.14,241.96 L159.48,242.15 L159.81,242.22 L160.14,242.28 L160.48,241.92 L160.81,241.98 L161.14,242.02 L161.48,242.11 L161.81,242.08 L162.15,242.23 L162.48,242.07 L162.81,242.27 L163.15,242.02 L163.48,242.01 L163.82,241.99 L164.15,242.21 L164.48,242.30 L164.82,242.17 L165.15,241.98 L165.49,242.08 L165.82,241.95 L166.15,242.12 L166.49,242.13 L166.82,241.87 L167.16,242.26 L167.49,242.24 L167.82,242.03 L168.16,242.01 L168.49,242.12 L168.83,242.05 L169.16,242.11 L169.49,241.99 L169.83,241.87 L170.16,241.90 L170.49,241.98 L170.83,242.00 L171.16,241.59 L171.50,241.47 L171.83,240.53 L172.16,238.68 L172.50,235.66 L172.83,230.89 L173.17,224.17 L173.50,217.36 L173.83,210.37 L174.17,206.35 L174.50,205.61 L174.84,206.00 L175.17,211.15 L175.50,212.96 L175.84,217.99 L176.17,219.97 L176.51,223.99 L176.84,226.52 L177.17,228.67 L177.51,229.97 L177.84,231.07 L178.18,232.45 L178.51,232.68 L178.84,232.67 L179.18,233.97 L179.51,234.40 L179.84,234.60 L180.18,233.95 L180.51,234.55 L180.85,234.38 L181.18,235.78 L181.51,234.68 L181.85,234.55 L182.18,234.16 L182.52,236.03 L182.85,235.79 L183.18,234.79 L183.52,234.66 L183.85,234.78 L184.19,234.71 L184.52,234.93 L184.85,234.55 L185.19,236.06 L185.52,235.67 L185.86,235.15 L186.19,234.65 L186.52,235.27 L186.86,234.69 L187.19,235.54 L187.53,235.98 L187.86,235.13 L188.19,233.87 L188.53,233.64 L188.86,233.95 L189.19,233.04 L189.53,233.97 L189.86,233.42 L190.20,233.94 L190.53,233.06 L190.86,233.61 L191.20,235.52 L191.53,236.01 L191.87,235.98 L192.20,237.46 L192.53,238.13 L192.87,238.19 L193.20,238.87 L193.54,239.45 L193.87,239.70 L194.20,240.49 L194.54,241.08 L194.87,241.19 L195.21,241.68 L195.54,242.29 L195.87,242.31 L196.21,241.98 L196.54,241.82 L196.88,242.33 L197.21,242.11 L197.54,241.82 L197.88,241.91 L198.21,241.82 L198.54,242.07 L198.88,241.83 L199.21,242.31 L199.55,242.10 L199.88,241.90 L200.21,242.14 L200.55,242.11 L200.88,242.11 L201.22,242.14 L201.55,241.92 L201.88,241.83 L202.22,242.22 L202.55,242.17 L202.89,241.92 L203.22,241.95 L203.55,241.92 L203.89,241.99 L204.22,241.86 L204.56,241.90 L204.89,242.01 L205.22,242.20 L205.56,242.30 L205.89,241.89 L206.23,241.89 L206.56,241.88 L206.89,242.20 L207.23,241.96 L207.56,241.86 L207.89,242.24 L208.23,242.33 L208.56,242.25 L208.90,242.23 L209.23,241.99 L209.56,241.91 L209.90,241.91 L210.23,241.98 L210.57,241.83 L210.90,241.83 L211.23,242.11 L211.57,241.86 L211.90,241.97 L212.24,242.22 L212.57,242.04 L212.90,242.25 L213.24,242.13 L213.57,241.92 L213.91,242.34 L214.24,242.06 L214.57,242.12 L214.91,242.20 L215.24,242.31 L215.58,242.07 L215.91,242.17 L216.24,242.29 L216.58,242.13 L216.91,241.99 L217.24,242.30 L217.58,241.93 L217.91,242.30 L218.25,242.10 L218.58,242.15 L218.91,241.89 L219.25,241.88 L219.58,241.96 L219.92,242.19 L220.25,242.17 L220.58,241.91 L220.92,242.08 L221.25,242.01 L221.59,241.96 L221.92,242.24 L222.25,242.14 L222.59,241.84 L222.92,242.17 L223.26,241.90 L223.59,242.26 L223.92,242.34 L224.26,242.08 L224.59,242.20 L224.93,242.03 L225.26,241.94 L225.59,242.32 L225.93,242.08 L226.26,242.15 L226.59,241.87 L226.93,241.90 L227.26,241.88 L227.60,241.95 L227.93,242.16 L228.26,242.02 L228.60,242.06 L228.93,242.15 L229.27,242.19 L229.60,242.00 L229.93,241.87 L230.27,242.22 L230.60,242.16 L230.94,242.26 L231.27,242.15 L231.60,242.14 L231.94,242.29 L232.27,242.01 L232.61,242.16 L232.94,241.92 L233.27,242.22 L233.61,241.96 L233.94,241.83 L234.28,242.26 L234.61,242.15 L234.94,241.83 L235.28,242.13 L235.61,242.17 L235.94,242.26 L236.28,241.91 L236.61,242.17 L236.95,241.88 L237.28,242.05 L237.61,242.25 L237.95,241.82 L238.28,241.87 L238.62,241.95 L238.95,242.03 L239.28,241.95 L239.62,241.85 L239.95,242.24 L240.29,242.22 L240.62,241.94 L240.95,242.12 L241.29,241.83 L241.62,241.91 L241.96,242.07 L242.29,242.26 L242.62,242.02 L242.96,242.03 L243.29,242.04 L243.62,241.94 L243.96,242.09 L244.29,241.88 L244.63,242.03 L244.96,242.26 L245.29,241.91 L245.63,242.26 L245.96,241.87 L246.30,241.86 L246.63,242.24 L246.96,242.24 L247.30,241.98 L247.63,242.10 L247.97,242.15 L248.30,241.95 L248.30,243.00Z" fill="#6614e2" stroke="#1e0a55" stroke-width="0.6" stroke-linejoin="round"/>
<line x1="154.80" y1="177.00" x2="154.80" y2="243.00" stroke="#111" stroke-width="1.3"/>
<line x1="154.80" y1="243.00" x2="248.70" y2="243.00" stroke="#111" stroke-width="1.3"/>
<line x1="153.20" y1="243.00" x2="154.80" y2="243.00" stroke="#222" stroke-width="0.8"/>
<text transform="translate(151.50 243.00) rotate(-90)" font-size="4.4" font-weight="normal" text-anchor="middle" style="fill:#444">0</text>
<line x1="153.20" y1="229.88" x2="154.80" y2="229.88" stroke="#222" stroke-width="0.8"/>
<text transform="translate(151.50 229.88) rotate(-90)" font-size="4.4" font-weight="normal" text-anchor="middle" style="fill:#444">90</text>
<line x1="153.20" y1="216.76" x2="154.80" y2="216.76" stroke="#222" stroke-width="0.8"/>
<text transform="translate(151.50 216.76) rotate(-90)" font-size="4.4" font-weight="normal" text-anchor="middle" style="fill:#444">180</text>
<line x1="153.20" y1="203.64" x2="154.80" y2="203.64" stroke="#222" stroke-width="0.8"/>
<text transform="translate(151.50 203.64) rotate(-90)" font-size="4.4" font-weight="normal" text-anchor="middle" style="fill:#444">270</text>
<line x1="153.20" y1="190.52" x2="154.80" y2="190.52" stroke="#222" stroke-width="0.8"/>
<text transform="translate(151.50 190.52) rotate(-90)" font-size="4.4" font-weight="normal" text-anchor="middle" style="fill:#444">360</text>
<line x1="153.20" y1="177.40" x2="154.80" y2="177.40" stroke="#222" stroke-width="0.8"/>
<text transform="translate(151.50 177.40) rotate(-90)" font-size="4.4" font-weight="normal" text-anchor="middle" style="fill:#444">450</text>
<line x1="154.80" y1="243.00" x2="154.80" y2="244.60" stroke="#222" stroke-width="0.8"/>
<text x="154.80" y="248.60" font-size="4.4" font-weight="normal" text-anchor="middle" style="fill:#444">0</text>
<line x1="173.06" y1="243.00" x2="173.06" y2="244.60" stroke="#222" stroke-width="0.8"/>
<text x="173.06" y="248.60" font-size="4.4" font-weight="normal" text-anchor="middle" style="fill:#444">200</text>
<line x1="191.32" y1="243.00" x2="191.32" y2="244.60" stroke="#222" stroke-width="0.8"/>
<text x="191.32" y="248.60" font-size="4.4" font-weight="normal" text-anchor="middle" style="fill:#444">400</text>
<line x1="209.59" y1="243.00" x2="209.59" y2="244.60" stroke="#222" stroke-width="0.8"/>
<text x="209.59" y="248.60" font-size="4.4" font-weight="normal" text-anchor="middle" style="fill:#444">600</text>
<line x1="227.85" y1="243.00" x2="227.85" y2="244.60" stroke="#222" stroke-width="0.8"/>
<text x="227.85" y="248.60" font-size="4.4" font-weight="normal" text-anchor="middle" style="fill:#444">800</text>
<line x1="246.11" y1="243.00" x2="246.11" y2="244.60" stroke="#222" stroke-width="0.8"/>
<text x="246.11" y="248.60" font-size="4.4" font-weight="normal" text-anchor="middle" style="fill:#444">1000</text>
<text x="201.55" y="253.20" font-size="4.5" font-weight="normal" text-anchor="middle" style="fill:#444">FL2-A</text>
<text transform="translate(147.00 218.07) rotate(-90)" font-size="4.5" font-weight="normal" text-anchor="middle" style="fill:#444">Counts</text>
<text x="201.55" y="175.60" font-size="4.5" font-weight="normal" text-anchor="middle" style="fill:#444">Data.006</text>
<rect x="282.80" y="178.30" width="93.80" height="66.00" fill="#fff" stroke="#8a8a8a" stroke-width="0.9"/>
<path d="M282.80,244.30 L282.80,230.58 L283.13,235.26 L283.47,237.72 L283.80,239.31 L284.14,240.63 L284.47,241.41 L284.80,241.64 L285.14,242.26 L285.47,242.41 L285.80,242.35 L286.14,242.53 L286.47,243.06 L286.81,243.18 L287.14,243.19 L287.47,242.94 L287.81,243.42 L288.14,243.35 L288.47,243.45 L288.81,243.46 L289.14,243.28 L289.48,243.47 L289.81,243.37 L290.14,243.21 L290.48,243.22 L290.81,243.39 L291.15,243.20 L291.48,243.32 L291.81,243.19 L292.15,243.50 L292.48,243.44 L292.81,243.33 L293.15,243.13 L293.48,243.31 L293.82,243.39 L294.15,243.50 L294.48,243.49 L294.82,243.52 L295.15,243.12 L295.48,243.17 L295.82,243.17 L296.15,243.36 L296.49,243.27 L296.82,243.48 L297.15,243.39 L297.49,243.56 L297.82,243.42 L298.16,243.51 L298.49,243.58 L298.82,243.14 L299.16,243.54 L299.49,243.07 L299.82,242.90 L300.16,242.68 L300.49,241.29 L300.83,238.66 L301.16,234.49 L301.49,228.30 L301.83,220.00 L302.16,211.85 L302.49,205.58 L302.83,203.62 L303.16,205.53 L303.50,211.58 L303.83,218.69 L304.16,224.44 L304.50,230.07 L304.83,234.12 L305.17,236.37 L305.50,237.88 L305.83,238.82 L306.17,238.87 L306.50,239.17 L306.83,239.10 L307.17,239.27 L307.50,239.40 L307.84,239.00 L308.17,239.34 L308.50,238.49 L308.84,239.17 L309.17,239.00 L309.50,239.75 L309.84,238.61 L310.17,239.15 L310.51,238.53 L310.84,238.64 L311.17,238.82 L311.51,238.79 L311.84,238.57 L312.18,238.32 L312.51,239.01 L312.84,237.84 L313.18,238.26 L313.51,237.62 L313.84,238.58 L314.18,238.71 L314.51,238.35 L314.85,237.51 L315.18,238.73 L315.51,237.17 L315.85,238.10 L316.18,236.98 L316.51,236.47 L316.85,236.05 L317.18,236.20 L317.52,235.65 L317.85,234.23 L318.18,233.92 L318.52,234.06 L318.85,232.85 L319.19,232.55 L319.52,232.08 L319.85,234.04 L320.19,234.00 L320.52,234.80 L320.85,235.89 L321.19,237.57 L321.52,238.10 L321.86,238.64 L322.19,239.86 L322.52,240.68 L322.86,241.51 L323.19,241.74 L323.52,242.24 L323.86,242.87 L324.19,243.29 L324.53,243.26 L324.86,243.57 L325.19,243.42 L325.53,243.58 L325.86,243.28 L326.20,243.48 L326.53,243.13 L326.86,243.39 L327.20,243.29 L327.53,243.36 L327.86,243.21 L328.20,243.27 L328.53,243.30 L328.87,243.62 L329.20,243.57 L329.53,243.24 L329.87,243.42 L330.20,243.12 L330.53,243.30 L330.87,243.21 L331.20,243.25 L331.54,243.13 L331.87,243.29 L332.20,243.14 L332.54,243.42 L332.87,243.50 L333.20,243.58 L333.54,243.51 L333.87,243.17 L334.21,243.29 L334.54,243.62 L334.87,243.63 L335.21,243.40 L335.54,243.35 L335.88,243.45 L336.21,243.63 L336.54,243.50 L336.88,243.18 L337.21,243.26 L337.54,243.21 L337.88,243.50 L338.21,243.29 L338.55,243.54 L338.88,243.48 L339.21,243.14 L339.55,243.53 L339.88,243.49 L340.21,243.53 L340.55,243.18 L340.88,243.28 L341.22,243.33 L341.55,243.19 L341.88,243.40 L342.22,243.16 L342.55,243.23 L342.89,243.48 L343.22,243.52 L343.55,243.36 L343.89,243.40 L344.22,243.22 L344.55,243.30 L344.89,243.25 L345.22,243.32 L345.56,243.50 L345.89,243.25 L346.22,243.12 L346.56,243.30 L346.89,243.26 L347.22,243.52 L347.56,243.58 L347.89,243.40 L348.23,243.33 L348.56,243.26 L348.89,243.39 L349.23,243.35 L349.56,243.59 L349.90,243.61 L350.23,243.58 L350.56,243.47 L350.90,243.51 L351.23,243.56 L351.56,243.46 L351.90,243.46 L352.23,243.20 L352.57,243.15 L352.90,243.12 L353.23,243.25 L353.57,243.63 L353.90,243.51 L354.23,243.11 L354.57,243.27 L354.90,243.19 L355.24,243.53 L355.57,243.51 L355.90,243.59 L356.24,243.36 L356.57,243.45 L356.91,243.39 L357.24,243.57 L357.57,243.63 L357.91,243.44 L358.24,243.15 L358.57,243.30 L358.91,243.34 L359.24,243.61 L359.58,243.41 L359.91,243.45 L360.24,243.31 L360.58,243.43 L360.91,243.22 L361.24,243.49 L361.58,243.26 L361.91,243.64 L362.25,243.56 L362.58,243.22 L362.91,243.19 L363.25,243.48 L363.58,243.54 L363.92,243.13 L364.25,243.33 L364.58,243.59 L364.92,243.12 L365.25,243.34 L365.58,243.48 L365.92,243.37 L366.25,243.44 L366.59,243.34 L366.92,243.42 L367.25,243.44 L367.59,243.25 L367.92,243.48 L368.25,243.20 L368.59,243.25 L368.92,243.14 L369.26,243.56 L369.59,243.19 L369.92,243.26 L370.26,243.54 L370.59,243.16 L370.93,243.37 L371.26,243.55 L371.59,243.53 L371.93,243.11 L372.26,243.22 L372.59,243.52 L372.93,243.17 L373.26,243.62 L373.60,243.27 L373.93,243.31 L374.26,243.18 L374.60,243.16 L374.93,243.25 L375.26,243.19 L375.60,243.40 L375.93,243.15 L376.27,243.41 L376.60,243.26 L376.60,244.30Z" fill="#6614e2" stroke="#1e0a55" stroke-width="0.6" stroke-linejoin="round"/>
<line x1="282.80" y1="177.90" x2="282.80" y2="244.30" stroke="#111" stroke-width="1.3"/>
<line x1="282.80" y1="244.30" x2="377.00" y2="244.30" stroke="#111" stroke-width="1.3"/>
<line x1="281.20" y1="244.30" x2="282.80" y2="244.30" stroke="#222" stroke-width="0.8"/>
<text transform="translate(279.50 244.30) rotate(-90)" font-size="4.4" font-weight="normal" text-anchor="middle" style="fill:#444">0</text>
<line x1="281.20" y1="231.10" x2="282.80" y2="231.10" stroke="#222" stroke-width="0.8"/>
<text transform="translate(279.50 231.10) rotate(-90)" font-size="4.4" font-weight="normal" text-anchor="middle" style="fill:#444">90</text>
<line x1="281.20" y1="217.90" x2="282.80" y2="217.90" stroke="#222" stroke-width="0.8"/>
<text transform="translate(279.50 217.90) rotate(-90)" font-size="4.4" font-weight="normal" text-anchor="middle" style="fill:#444">180</text>
<line x1="281.20" y1="204.70" x2="282.80" y2="204.70" stroke="#222" stroke-width="0.8"/>
<text transform="translate(279.50 204.70) rotate(-90)" font-size="4.4" font-weight="normal" text-anchor="middle" style="fill:#444">270</text>
<line x1="281.20" y1="191.50" x2="282.80" y2="191.50" stroke="#222" stroke-width="0.8"/>
<text transform="translate(279.50 191.50) rotate(-90)" font-size="4.4" font-weight="normal" text-anchor="middle" style="fill:#444">360</text>
<line x1="281.20" y1="178.30" x2="282.80" y2="178.30" stroke="#222" stroke-width="0.8"/>
<text transform="translate(279.50 178.30) rotate(-90)" font-size="4.4" font-weight="normal" text-anchor="middle" style="fill:#444">450</text>
<line x1="282.80" y1="244.30" x2="282.80" y2="245.90" stroke="#222" stroke-width="0.8"/>
<text x="282.80" y="249.90" font-size="4.4" font-weight="normal" text-anchor="middle" style="fill:#444">0</text>
<line x1="301.12" y1="244.30" x2="301.12" y2="245.90" stroke="#222" stroke-width="0.8"/>
<text x="301.12" y="249.90" font-size="4.4" font-weight="normal" text-anchor="middle" style="fill:#444">200</text>
<line x1="319.44" y1="244.30" x2="319.44" y2="245.90" stroke="#222" stroke-width="0.8"/>
<text x="319.44" y="249.90" font-size="4.4" font-weight="normal" text-anchor="middle" style="fill:#444">400</text>
<line x1="337.76" y1="244.30" x2="337.76" y2="245.90" stroke="#222" stroke-width="0.8"/>
<text x="337.76" y="249.90" font-size="4.4" font-weight="normal" text-anchor="middle" style="fill:#444">600</text>
<line x1="356.08" y1="244.30" x2="356.08" y2="245.90" stroke="#222" stroke-width="0.8"/>
<text x="356.08" y="249.90" font-size="4.4" font-weight="normal" text-anchor="middle" style="fill:#444">800</text>
<line x1="374.40" y1="244.30" x2="374.40" y2="245.90" stroke="#222" stroke-width="0.8"/>
<text x="374.40" y="249.90" font-size="4.4" font-weight="normal" text-anchor="middle" style="fill:#444">1000</text>
<text x="329.70" y="254.50" font-size="4.5" font-weight="normal" text-anchor="middle" style="fill:#444">FL2-A</text>
<text transform="translate(275.00 219.22) rotate(-90)" font-size="4.5" font-weight="normal" text-anchor="middle" style="fill:#444">Counts</text>
<text x="329.70" y="176.50" font-size="4.5" font-weight="normal" text-anchor="middle" style="fill:#444">Data.048</text>
<rect x="34.20" y="266.80" width="93.60" height="66.20" fill="#fff" stroke="#8a8a8a" stroke-width="0.9"/>
<path d="M34.20,333.00 L34.20,286.81 L34.53,308.81 L34.87,320.13 L35.20,326.16 L35.54,329.06 L35.87,330.37 L36.21,331.10 L36.54,331.91 L36.87,332.04 L37.21,331.75 L37.54,332.22 L37.88,331.96 L38.21,332.15 L38.55,331.99 L38.88,331.88 L39.21,332.03 L39.55,332.13 L39.88,332.17 L40.22,332.01 L40.55,332.01 L40.89,332.12 L41.22,332.09 L41.55,332.05 L41.89,332.20 L42.22,332.24 L42.56,332.04 L42.89,332.28 L43.23,332.02 L43.56,331.91 L43.89,331.90 L44.23,332.20 L44.56,332.12 L44.90,331.85 L45.23,332.15 L45.57,331.81 L45.90,332.23 L46.23,331.89 L46.57,332.32 L46.90,331.98 L47.24,331.91 L47.57,332.05 L47.91,332.00 L48.24,331.85 L48.57,331.81 L48.91,332.24 L49.24,332.06 L49.58,332.32 L49.91,332.14 L50.25,332.26 L50.58,332.24 L50.91,331.95 L51.25,332.12 L51.58,331.79 L51.92,331.16 L52.25,329.19 L52.59,326.38 L52.92,320.85 L53.25,311.78 L53.59,300.24 L53.92,288.41 L54.26,279.20 L54.59,276.37 L54.93,279.29 L55.26,287.18 L55.59,297.42 L55.93,306.80 L56.26,314.81 L56.60,319.86 L56.93,323.45 L57.27,325.83 L57.60,326.79 L57.93,328.02 L58.27,328.05 L58.60,328.38 L58.94,328.97 L59.27,329.34 L59.61,329.30 L59.94,329.41 L60.27,329.31 L60.61,329.13 L60.94,329.47 L61.28,329.16 L61.61,329.14 L61.95,329.11 L62.28,328.86 L62.61,328.98 L62.95,328.54 L63.28,329.00 L63.62,329.15 L63.95,328.67 L64.29,328.70 L64.62,329.19 L64.95,328.40 L65.29,329.27 L65.62,328.87 L65.96,329.18 L66.29,328.93 L66.63,329.13 L66.96,328.58 L67.29,328.18 L67.63,328.51 L67.96,327.86 L68.30,327.64 L68.63,326.65 L68.97,327.15 L69.30,326.33 L69.63,325.69 L69.97,324.81 L70.30,324.58 L70.64,324.88 L70.97,325.15 L71.31,325.36 L71.64,325.91 L71.97,327.08 L72.31,327.43 L72.64,327.91 L72.98,329.01 L73.31,329.83 L73.65,329.96 L73.98,330.56 L74.31,331.04 L74.65,331.53 L74.98,331.42 L75.32,332.14 L75.65,331.78 L75.99,332.03 L76.32,332.31 L76.65,332.11 L76.99,332.01 L77.32,332.21 L77.66,332.12 L77.99,331.95 L78.33,331.99 L78.66,331.90 L78.99,331.83 L79.33,332.06 L79.66,331.82 L80.00,332.28 L80.33,332.06 L80.67,331.98 L81.00,331.85 L81.33,332.09 L81.67,332.11 L82.00,331.87 L82.34,332.09 L82.67,332.31 L83.01,332.10 L83.34,332.20 L83.67,331.99 L84.01,331.91 L84.34,332.31 L84.68,332.17 L85.01,331.86 L85.35,331.91 L85.68,331.92 L86.01,332.13 L86.35,331.83 L86.68,331.89 L87.02,331.90 L87.35,332.05 L87.69,332.00 L88.02,332.27 L88.35,332.32 L88.69,332.33 L89.02,332.31 L89.36,332.07 L89.69,331.84 L90.03,332.03 L90.36,331.92 L90.69,331.94 L91.03,331.84 L91.36,332.19 L91.70,332.07 L92.03,331.85 L92.37,332.16 L92.70,331.97 L93.03,332.12 L93.37,332.26 L93.70,332.23 L94.04,332.15 L94.37,332.32 L94.71,331.87 L95.04,332.15 L95.37,332.21 L95.71,331.91 L96.04,332.34 L96.38,331.93 L96.71,332.10 L97.05,332.29 L97.38,332.13 L97.71,331.82 L98.05,332.32 L98.38,332.19 L98.72,332.24 L99.05,332.02 L99.39,332.23 L99.72,331.89 L100.05,332.15 L100.39,331.83 L100.72,332.27 L101.06,332.22 L101.39,332.32 L101.73,332.31 L102.06,332.24 L102.39,332.03 L102.73,332.05 L103.06,331.95 L103.40,332.21 L103.73,332.02 L104.07,331.82 L104.40,332.17 L104.73,332.21 L105.07,332.24 L105.40,331.83 L105.74,332.00 L106.07,332.08 L106.41,332.08 L106.74,332.30 L107.07,332.22 L107.41,331.97 L107.74,332.20 L108.08,332.07 L108.41,331.86 L108.75,332.24 L109.08,332.09 L109.41,331.93 L109.75,331.94 L110.08,331.90 L110.42,331.86 L110.75,332.03 L111.09,332.22 L111.42,332.07 L111.75,331.85 L112.09,332.23 L112.42,332.18 L112.76,332.23 L113.09,331.87 L113.43,332.29 L113.76,332.26 L114.09,332.02 L114.43,331.95 L114.76,332.11 L115.10,331.94 L115.43,331.96 L115.77,332.13 L116.10,332.30 L116.43,331.97 L116.77,332.01 L117.10,331.83 L117.44,331.97 L117.77,332.30 L118.11,332.23 L118.44,332.18 L118.77,331.95 L119.11,332.17 L119.44,332.21 L119.78,332.24 L120.11,332.19 L120.45,332.07 L120.78,331.96 L121.11,331.89 L121.45,332.28 L121.78,332.05 L122.12,331.82 L122.45,332.13 L122.79,332.27 L123.12,331.99 L123.45,331.90 L123.79,332.32 L124.12,332.29 L124.46,332.18 L124.79,332.14 L125.13,332.28 L125.46,332.29 L125.79,332.11 L126.13,331.83 L126.46,332.04 L126.80,332.19 L127.13,331.83 L127.47,332.19 L127.80,332.26 L127.80,333.00Z" fill="#6614e2" stroke="#1e0a55" stroke-width="0.6" stroke-linejoin="round"/>
<line x1="34.20" y1="266.40" x2="34.20" y2="333.00" stroke="#111" stroke-width="1.3"/>
<line x1="34.20" y1="333.00" x2="128.20" y2="333.00" stroke="#111" stroke-width="1.3"/>
<line x1="32.60" y1="333.00" x2="34.20" y2="333.00" stroke="#222" stroke-width="0.8"/>
<text transform="translate(30.90 333.00) rotate(-90)" font-size="4.4" font-weight="normal" text-anchor="middle" style="fill:#444">0</text>
<line x1="32.60" y1="319.76" x2="34.20" y2="319.76" stroke="#222" stroke-width="0.8"/>
<text transform="translate(30.90 319.76) rotate(-90)" font-size="4.4" font-weight="normal" text-anchor="middle" style="fill:#444">90</text>
<line x1="32.60" y1="306.52" x2="34.20" y2="306.52" stroke="#222" stroke-width="0.8"/>
<text transform="translate(30.90 306.52) rotate(-90)" font-size="4.4" font-weight="normal" text-anchor="middle" style="fill:#444">180</text>
<line x1="32.60" y1="293.28" x2="34.20" y2="293.28" stroke="#222" stroke-width="0.8"/>
<text transform="translate(30.90 293.28) rotate(-90)" font-size="4.4" font-weight="normal" text-anchor="middle" style="fill:#444">270</text>
<line x1="32.60" y1="280.04" x2="34.20" y2="280.04" stroke="#222" stroke-width="0.8"/>
<text transform="translate(30.90 280.04) rotate(-90)" font-size="4.4" font-weight="normal" text-anchor="middle" style="fill:#444">360</text>
<line x1="32.60" y1="266.80" x2="34.20" y2="266.80" stroke="#222" stroke-width="0.8"/>
<text transform="translate(30.90 266.80) rotate(-90)" font-size="4.4" font-weight="normal" text-anchor="middle" style="fill:#444">450</text>
<line x1="34.20" y1="333.00" x2="34.20" y2="334.60" stroke="#222" stroke-width="0.8"/>
<text x="34.20" y="338.60" font-size="4.4" font-weight="normal" text-anchor="middle" style="fill:#444">0</text>
<line x1="52.48" y1="333.00" x2="52.48" y2="334.60" stroke="#222" stroke-width="0.8"/>
<text x="52.48" y="338.60" font-size="4.4" font-weight="normal" text-anchor="middle" style="fill:#444">200</text>
<line x1="70.76" y1="333.00" x2="70.76" y2="334.60" stroke="#222" stroke-width="0.8"/>
<text x="70.76" y="338.60" font-size="4.4" font-weight="normal" text-anchor="middle" style="fill:#444">400</text>
<line x1="89.04" y1="333.00" x2="89.04" y2="334.60" stroke="#222" stroke-width="0.8"/>
<text x="89.04" y="338.60" font-size="4.4" font-weight="normal" text-anchor="middle" style="fill:#444">600</text>
<line x1="107.33" y1="333.00" x2="107.33" y2="334.60" stroke="#222" stroke-width="0.8"/>
<text x="107.33" y="338.60" font-size="4.4" font-weight="normal" text-anchor="middle" style="fill:#444">800</text>
<line x1="125.61" y1="333.00" x2="125.61" y2="334.60" stroke="#222" stroke-width="0.8"/>
<text x="125.61" y="338.60" font-size="4.4" font-weight="normal" text-anchor="middle" style="fill:#444">1000</text>
<text x="81.00" y="343.20" font-size="4.5" font-weight="normal" text-anchor="middle" style="fill:#444">FL2-A</text>
<text transform="translate(26.40 307.84) rotate(-90)" font-size="4.5" font-weight="normal" text-anchor="middle" style="fill:#444">Counts</text>
<text x="81.00" y="265.00" font-size="4.5" font-weight="normal" text-anchor="middle" style="fill:#444">Data.007</text>
<rect x="159.50" y="268.10" width="93.50" height="65.80" fill="#fff" stroke="#8a8a8a" stroke-width="0.9"/>
<path d="M159.50,333.90 L159.50,288.04 L159.83,310.11 L160.17,321.06 L160.50,326.71 L160.84,329.98 L161.17,331.25 L161.50,332.25 L161.84,332.74 L162.17,332.84 L162.51,332.74 L162.84,333.11 L163.17,332.87 L163.51,333.04 L163.84,333.15 L164.18,333.01 L164.51,333.04 L164.84,333.00 L165.18,332.78 L165.51,332.76 L165.84,333.12 L166.18,332.72 L166.51,332.92 L166.85,332.74 L167.18,332.81 L167.51,332.97 L167.85,333.11 L168.18,332.75 L168.52,332.72 L168.85,332.91 L169.18,333.18 L169.52,332.81 L169.85,332.84 L170.19,332.78 L170.52,332.73 L170.85,332.73 L171.19,332.85 L171.52,333.04 L171.86,332.96 L172.19,332.98 L172.52,332.84 L172.86,332.91 L173.19,332.81 L173.53,332.97 L173.86,332.93 L174.19,332.73 L174.53,332.81 L174.86,332.72 L175.19,332.77 L175.53,332.91 L175.86,332.36 L176.20,331.56 L176.53,329.87 L176.86,326.91 L177.20,322.28 L177.53,316.18 L177.87,310.14 L178.20,303.76 L178.53,301.70 L178.87,300.86 L179.20,302.08 L179.54,304.92 L179.87,307.61 L180.20,312.30 L180.54,314.80 L180.87,317.32 L181.21,318.55 L181.54,321.60 L181.87,321.07 L182.21,323.54 L182.54,323.72 L182.88,325.12 L183.21,324.82 L183.54,325.28 L183.88,324.00 L184.21,325.11 L184.54,324.73 L184.88,325.01 L185.21,325.14 L185.55,326.34 L185.88,325.23 L186.21,325.13 L186.55,325.18 L186.88,324.55 L187.22,324.95 L187.55,325.72 L187.88,325.26 L188.22,324.85 L188.55,325.94 L188.89,325.97 L189.22,324.55 L189.55,325.97 L189.89,325.07 L190.22,324.49 L190.56,325.50 L190.89,325.13 L191.22,325.19 L191.56,325.97 L191.89,325.13 L192.22,325.39 L192.56,325.31 L192.89,325.03 L193.23,323.33 L193.56,324.19 L193.89,322.69 L194.23,322.73 L194.56,322.91 L194.90,321.23 L195.23,322.36 L195.56,322.37 L195.90,322.63 L196.23,324.62 L196.57,324.42 L196.90,325.89 L197.23,326.16 L197.57,327.37 L197.90,327.80 L198.24,329.14 L198.57,329.88 L198.90,330.12 L199.24,330.78 L199.57,331.69 L199.91,332.02 L200.24,332.71 L200.57,332.70 L200.91,333.02 L201.24,333.00 L201.57,333.02 L201.91,333.07 L202.24,333.07 L202.58,332.80 L202.91,333.23 L203.24,333.21 L203.58,332.82 L203.91,332.86 L204.25,333.02 L204.58,332.99 L204.91,332.99 L205.25,333.11 L205.58,333.01 L205.92,333.05 L206.25,332.93 L206.58,333.06 L206.92,332.93 L207.25,333.22 L207.59,332.72 L207.92,333.24 L208.25,332.99 L208.59,333.04 L208.92,333.17 L209.26,332.73 L209.59,333.01 L209.92,333.14 L210.26,333.07 L210.59,333.14 L210.93,332.95 L211.26,332.72 L211.59,332.73 L211.93,333.12 L212.26,332.87 L212.59,332.95 L212.93,332.84 L213.26,333.16 L213.60,333.22 L213.93,333.18 L214.26,332.76 L214.60,333.21 L214.93,333.22 L215.27,333.00 L215.60,333.21 L215.93,333.15 L216.27,332.74 L216.60,333.15 L216.94,332.84 L217.27,332.80 L217.60,333.00 L217.94,333.01 L218.27,333.13 L218.61,333.07 L218.94,332.96 L219.27,332.94 L219.61,332.96 L219.94,333.05 L220.28,332.78 L220.61,333.00 L220.94,333.04 L221.28,332.99 L221.61,332.80 L221.94,332.92 L222.28,332.85 L222.61,332.81 L222.95,333.05 L223.28,332.86 L223.61,333.19 L223.95,332.99 L224.28,333.00 L224.62,333.04 L224.95,333.15 L225.28,332.82 L225.62,333.06 L225.95,333.03 L226.29,333.18 L226.62,332.79 L226.95,332.79 L227.29,333.15 L227.62,333.04 L227.96,333.09 L228.29,333.14 L228.62,332.80 L228.96,332.92 L229.29,332.76 L229.62,332.88 L229.96,333.07 L230.29,332.83 L230.63,333.19 L230.96,332.93 L231.29,332.97 L231.63,333.20 L231.96,333.09 L232.30,332.97 L232.63,333.18 L232.96,333.20 L233.30,332.92 L233.63,332.73 L233.97,332.93 L234.30,332.72 L234.63,332.99 L234.97,333.19 L235.30,333.16 L235.64,333.00 L235.97,332.78 L236.30,332.81 L236.64,332.73 L236.97,332.93 L237.31,332.84 L237.64,332.95 L237.97,333.16 L238.31,332.96 L238.64,333.10 L238.97,332.81 L239.31,332.81 L239.64,333.13 L239.98,333.17 L240.31,333.09 L240.64,333.23 L240.98,333.14 L241.31,332.74 L241.65,332.76 L241.98,333.01 L242.31,332.78 L242.65,333.14 L242.98,332.72 L243.32,332.94 L243.65,332.92 L243.98,333.10 L244.32,333.24 L244.65,332.96 L244.99,332.91 L245.32,332.87 L245.65,332.83 L245.99,332.76 L246.32,333.23 L246.66,332.88 L246.99,333.20 L247.32,332.80 L247.66,332.96 L247.99,333.24 L248.32,333.03 L248.66,332.80 L248.99,332.78 L249.33,332.76 L249.66,332.97 L249.99,332.88 L250.33,332.88 L250.66,332.98 L251.00,332.84 L251.33,333.16 L251.66,333.12 L252.00,332.92 L252.33,332.85 L252.67,332.73 L253.00,333.21 L253.00,333.90Z" fill="#6614e2" stroke="#1e0a55" stroke-width="0.6" stroke-linejoin="round"/>
<line x1="159.50" y1="267.70" x2="159.50" y2="333.90" stroke="#111" stroke-width="1.3"/>
<line x1="159.50" y1="333.90" x2="253.40" y2="333.90" stroke="#111" stroke-width="1.3"/>
<line x1="157.90" y1="333.90" x2="159.50" y2="333.90" stroke="#222" stroke-width="0.8"/>
<text transform="translate(156.20 333.90) rotate(-90)" font-size="4.4" font-weight="normal" text-anchor="middle" style="fill:#444">0</text>
<line x1="157.90" y1="320.74" x2="159.50" y2="320.74" stroke="#222" stroke-width="0.8"/>
<text transform="translate(156.20 320.74) rotate(-90)" font-size="4.4" font-weight="normal" text-anchor="middle" style="fill:#444">90</text>
<line x1="157.90" y1="307.58" x2="159.50" y2="307.58" stroke="#222" stroke-width="0.8"/>
<text transform="translate(156.20 307.58) rotate(-90)" font-size="4.4" font-weight="normal" text-anchor="middle" style="fill:#444">180</text>
<line x1="157.90" y1="294.42" x2="159.50" y2="294.42" stroke="#222" stroke-width="0.8"/>
<text transform="translate(156.20 294.42) rotate(-90)" font-size="4.4" font-weight="normal" text-anchor="middle" style="fill:#444">270</text>
<line x1="157.90" y1="281.26" x2="159.50" y2="281.26" stroke="#222" stroke-width="0.8"/>
<text transform="translate(156.20 281.26) rotate(-90)" font-size="4.4" font-weight="normal" text-anchor="middle" style="fill:#444">360</text>
<line x1="157.90" y1="268.10" x2="159.50" y2="268.10" stroke="#222" stroke-width="0.8"/>
<text transform="translate(156.20 268.10) rotate(-90)" font-size="4.4" font-weight="normal" text-anchor="middle" style="fill:#444">450</text>
<line x1="159.50" y1="333.90" x2="159.50" y2="335.50" stroke="#222" stroke-width="0.8"/>
<text x="159.50" y="339.50" font-size="4.4" font-weight="normal" text-anchor="middle" style="fill:#444">0</text>
<line x1="177.76" y1="333.90" x2="177.76" y2="335.50" stroke="#222" stroke-width="0.8"/>
<text x="177.76" y="339.50" font-size="4.4" font-weight="normal" text-anchor="middle" style="fill:#444">200</text>
<line x1="196.02" y1="333.90" x2="196.02" y2="335.50" stroke="#222" stroke-width="0.8"/>
<text x="196.02" y="339.50" font-size="4.4" font-weight="normal" text-anchor="middle" style="fill:#444">400</text>
<line x1="214.29" y1="333.90" x2="214.29" y2="335.50" stroke="#222" stroke-width="0.8"/>
<text x="214.29" y="339.50" font-size="4.4" font-weight="normal" text-anchor="middle" style="fill:#444">600</text>
<line x1="232.55" y1="333.90" x2="232.55" y2="335.50" stroke="#222" stroke-width="0.8"/>
<text x="232.55" y="339.50" font-size="4.4" font-weight="normal" text-anchor="middle" style="fill:#444">800</text>
<line x1="250.81" y1="333.90" x2="250.81" y2="335.50" stroke="#222" stroke-width="0.8"/>
<text x="250.81" y="339.50" font-size="4.4" font-weight="normal" text-anchor="middle" style="fill:#444">1000</text>
<text x="206.25" y="344.10" font-size="4.5" font-weight="normal" text-anchor="middle" style="fill:#444">FL2-A</text>
<text transform="translate(151.70 308.90) rotate(-90)" font-size="4.5" font-weight="normal" text-anchor="middle" style="fill:#444">Counts</text>
<text x="206.25" y="266.30" font-size="4.5" font-weight="normal" text-anchor="middle" style="fill:#444">Data.008</text>
<rect x="282.20" y="266.80" width="94.10" height="66.20" fill="#fff" stroke="#8a8a8a" stroke-width="0.9"/>
<path d="M282.20,333.00 L282.20,279.00 L282.53,304.69 L282.87,318.39 L283.20,324.69 L283.53,328.23 L283.87,330.43 L284.20,330.95 L284.54,331.42 L284.87,331.98 L285.20,331.69 L285.54,332.08 L285.87,332.06 L286.20,331.97 L286.54,331.96 L286.87,331.94 L287.21,332.19 L287.54,332.08 L287.87,332.26 L288.21,332.19 L288.54,332.08 L288.87,332.30 L289.21,332.15 L289.54,331.91 L289.87,332.24 L290.21,332.11 L290.54,332.32 L290.88,331.95 L291.21,332.28 L291.54,332.24 L291.88,331.94 L292.21,332.10 L292.54,332.05 L292.88,332.02 L293.21,332.07 L293.55,332.11 L293.88,332.26 L294.21,332.26 L294.55,332.23 L294.88,332.21 L295.21,332.17 L295.55,331.87 L295.88,332.22 L296.21,332.27 L296.55,332.19 L296.88,332.26 L297.22,331.89 L297.55,331.79 L297.88,331.81 L298.22,331.49 L298.55,331.18 L298.88,330.07 L299.22,327.70 L299.55,323.14 L299.89,316.22 L300.22,306.35 L300.55,295.80 L300.89,286.47 L301.22,282.45 L301.55,283.29 L301.89,289.60 L302.22,297.62 L302.55,305.71 L302.89,312.83 L303.22,318.53 L303.56,321.73 L303.89,325.05 L304.22,325.89 L304.56,327.33 L304.89,327.56 L305.22,327.82 L305.56,328.33 L305.89,328.12 L306.23,328.44 L306.56,328.66 L306.89,327.85 L307.23,328.54 L307.56,328.54 L307.89,328.12 L308.23,327.88 L308.56,328.09 L308.90,327.66 L309.23,327.89 L309.56,328.42 L309.90,328.19 L310.23,327.96 L310.56,328.59 L310.90,328.49 L311.23,328.27 L311.56,327.93 L311.90,328.04 L312.23,328.05 L312.57,327.96 L312.90,327.79 L313.23,328.14 L313.57,328.19 L313.90,327.93 L314.23,327.17 L314.57,327.55 L314.90,327.01 L315.24,327.15 L315.57,326.52 L315.90,325.83 L316.24,325.06 L316.57,324.70 L316.90,324.04 L317.24,323.40 L317.57,323.32 L317.90,323.18 L318.24,323.56 L318.57,323.42 L318.91,323.96 L319.24,325.38 L319.57,326.02 L319.91,327.07 L320.24,327.38 L320.57,328.96 L320.91,329.24 L321.24,330.14 L321.58,330.36 L321.91,331.08 L322.24,331.41 L322.58,331.39 L322.91,332.15 L323.24,331.88 L323.58,332.08 L323.91,331.88 L324.24,331.99 L324.58,332.32 L324.91,332.28 L325.25,331.95 L325.58,332.19 L325.91,332.13 L326.25,332.01 L326.58,332.31 L326.91,332.29 L327.25,332.08 L327.58,332.33 L327.92,332.16 L328.25,332.13 L328.58,332.29 L328.92,332.29 L329.25,331.93 L329.58,331.98 L329.92,332.08 L330.25,332.10 L330.58,331.85 L330.92,332.09 L331.25,332.24 L331.59,332.07 L331.92,332.08 L332.25,332.04 L332.59,332.15 L332.92,332.07 L333.25,332.32 L333.59,331.98 L333.92,331.87 L334.26,331.95 L334.59,331.89 L334.92,331.82 L335.26,332.08 L335.59,332.11 L335.92,331.94 L336.26,332.22 L336.59,332.18 L336.92,332.02 L337.26,332.32 L337.59,331.82 L337.93,331.84 L338.26,332.07 L338.59,332.01 L338.93,332.16 L339.26,332.09 L339.59,332.29 L339.93,332.15 L340.26,332.24 L340.60,332.12 L340.93,331.99 L341.26,331.88 L341.60,332.30 L341.93,332.27 L342.26,332.01 L342.60,331.84 L342.93,332.04 L343.26,332.06 L343.60,331.88 L343.93,332.23 L344.27,332.34 L344.60,332.07 L344.93,332.03 L345.27,332.27 L345.60,331.97 L345.93,332.01 L346.27,331.90 L346.60,332.16 L346.94,332.30 L347.27,332.22 L347.60,332.21 L347.94,332.16 L348.27,331.99 L348.60,332.19 L348.94,331.82 L349.27,332.25 L349.60,331.88 L349.94,332.21 L350.27,331.85 L350.61,332.22 L350.94,332.05 L351.27,332.21 L351.61,331.96 L351.94,332.01 L352.27,331.95 L352.61,332.12 L352.94,332.25 L353.28,332.17 L353.61,331.89 L353.94,332.07 L354.28,332.25 L354.61,332.30 L354.94,332.06 L355.28,331.90 L355.61,331.98 L355.95,331.92 L356.28,332.30 L356.61,332.10 L356.95,332.18 L357.28,332.22 L357.61,331.84 L357.95,331.89 L358.28,332.15 L358.61,331.81 L358.95,332.23 L359.28,331.90 L359.62,332.09 L359.95,332.11 L360.28,331.81 L360.62,331.92 L360.95,331.97 L361.28,331.99 L361.62,332.00 L361.95,331.90 L362.29,331.97 L362.62,332.15 L362.95,332.02 L363.29,332.11 L363.62,332.23 L363.95,332.29 L364.29,331.85 L364.62,332.12 L364.95,332.06 L365.29,332.25 L365.62,332.05 L365.96,331.86 L366.29,331.97 L366.62,331.99 L366.96,332.04 L367.29,332.33 L367.62,332.33 L367.96,332.28 L368.29,332.02 L368.63,331.89 L368.96,331.83 L369.29,331.95 L369.63,331.95 L369.96,332.24 L370.29,332.30 L370.63,331.93 L370.96,332.20 L371.29,332.00 L371.63,331.86 L371.96,332.30 L372.30,331.92 L372.63,332.17 L372.96,332.04 L373.30,332.12 L373.63,331.91 L373.96,331.97 L374.30,331.86 L374.63,331.96 L374.97,331.91 L375.30,331.92 L375.63,332.07 L375.97,332.06 L376.30,332.05 L376.30,333.00Z" fill="#6614e2" stroke="#1e0a55" stroke-width="0.6" stroke-linejoin="round"/>
<line x1="282.20" y1="266.40" x2="282.20" y2="333.00" stroke="#111" stroke-width="1.3"/>
<line x1="282.20" y1="333.00" x2="376.70" y2="333.00" stroke="#111" stroke-width="1.3"/>
<line x1="280.60" y1="333.00" x2="282.20" y2="333.00" stroke="#222" stroke-width="0.8"/>
<text transform="translate(278.90 333.00) rotate(-90)" font-size="4.4" font-weight="normal" text-anchor="middle" style="fill:#444">0</text>
<line x1="280.60" y1="319.76" x2="282.20" y2="319.76" stroke="#222" stroke-width="0.8"/>
<text transform="translate(278.90 319.76) rotate(-90)" font-size="4.4" font-weight="normal" text-anchor="middle" style="fill:#444">90</text>
<line x1="280.60" y1="306.52" x2="282.20" y2="306.52" stroke="#222" stroke-width="0.8"/>
<text transform="translate(278.90 306.52) rotate(-90)" font-size="4.4" font-weight="normal" text-anchor="middle" style="fill:#444">180</text>
<line x1="280.60" y1="293.28" x2="282.20" y2="293.28" stroke="#222" stroke-width="0.8"/>
<text transform="translate(278.90 293.28) rotate(-90)" font-size="4.4" font-weight="normal" text-anchor="middle" style="fill:#444">270</text>
<line x1="280.60" y1="280.04" x2="282.20" y2="280.04" stroke="#222" stroke-width="0.8"/>
<text transform="translate(278.90 280.04) rotate(-90)" font-size="4.4" font-weight="normal" text-anchor="middle" style="fill:#444">360</text>
<line x1="280.60" y1="266.80" x2="282.20" y2="266.80" stroke="#222" stroke-width="0.8"/>
<text transform="translate(278.90 266.80) rotate(-90)" font-size="4.4" font-weight="normal" text-anchor="middle" style="fill:#444">450</text>
<line x1="282.20" y1="333.00" x2="282.20" y2="334.60" stroke="#222" stroke-width="0.8"/>
<text x="282.20" y="338.60" font-size="4.4" font-weight="normal" text-anchor="middle" style="fill:#444">0</text>
<line x1="300.58" y1="333.00" x2="300.58" y2="334.60" stroke="#222" stroke-width="0.8"/>
<text x="300.58" y="338.60" font-size="4.4" font-weight="normal" text-anchor="middle" style="fill:#444">200</text>
<line x1="318.96" y1="333.00" x2="318.96" y2="334.60" stroke="#222" stroke-width="0.8"/>
<text x="318.96" y="338.60" font-size="4.4" font-weight="normal" text-anchor="middle" style="fill:#444">400</text>
<line x1="337.34" y1="333.00" x2="337.34" y2="334.60" stroke="#222" stroke-width="0.8"/>
<text x="337.34" y="338.60" font-size="4.4" font-weight="normal" text-anchor="middle" style="fill:#444">600</text>
<line x1="355.72" y1="333.00" x2="355.72" y2="334.60" stroke="#222" stroke-width="0.8"/>
<text x="355.72" y="338.60" font-size="4.4" font-weight="normal" text-anchor="middle" style="fill:#444">800</text>
<line x1="374.09" y1="333.00" x2="374.09" y2="334.60" stroke="#222" stroke-width="0.8"/>
<text x="374.09" y="338.60" font-size="4.4" font-weight="normal" text-anchor="middle" style="fill:#444">1000</text>
<text x="329.25" y="343.20" font-size="4.5" font-weight="normal" text-anchor="middle" style="fill:#444">FL2-A</text>
<text transform="translate(274.40 307.84) rotate(-90)" font-size="4.5" font-weight="normal" text-anchor="middle" style="fill:#444">Counts</text>
<text x="329.25" y="265.00" font-size="4.5" font-weight="normal" text-anchor="middle" style="fill:#444">Data.015</text>
<rect x="33.50" y="359.20" width="94.90" height="64.50" fill="#fff" stroke="#8a8a8a" stroke-width="0.9"/>
<path d="M33.50,423.70 L33.50,359.20 L33.83,389.69 L34.17,405.61 L34.50,414.03 L34.84,418.35 L35.17,420.61 L35.50,421.81 L35.84,421.94 L36.17,422.36 L36.51,422.77 L36.84,422.67 L37.18,422.65 L37.51,422.57 L37.84,422.90 L38.18,422.89 L38.51,422.96 L38.85,422.75 L39.18,422.58 L39.51,422.68 L39.85,422.98 L40.18,422.86 L40.52,423.02 L40.85,422.97 L41.19,422.80 L41.52,422.98 L41.85,422.92 L42.19,422.93 L42.52,422.84 L42.86,422.61 L43.19,422.93 L43.52,422.74 L43.86,422.85 L44.19,422.90 L44.53,422.90 L44.86,422.65 L45.20,422.62 L45.53,422.68 L45.86,422.60 L46.20,422.68 L46.53,422.90 L46.87,422.93 L47.20,422.76 L47.53,422.74 L47.87,422.65 L48.20,422.59 L48.54,422.64 L48.87,422.55 L49.21,422.70 L49.54,422.68 L49.87,422.57 L50.21,422.58 L50.54,422.05 L50.88,421.14 L51.21,419.43 L51.54,415.77 L51.88,409.15 L52.21,398.99 L52.55,386.35 L52.88,373.94 L53.22,364.74 L53.55,362.42 L53.88,366.17 L54.22,373.65 L54.55,383.16 L54.89,392.77 L55.22,400.05 L55.55,405.85 L55.89,410.18 L56.22,413.12 L56.56,415.54 L56.89,417.11 L57.23,417.33 L57.56,418.42 L57.89,419.34 L58.23,419.54 L58.56,419.47 L58.90,418.89 L59.23,419.76 L59.56,418.66 L59.90,419.20 L60.23,419.42 L60.57,419.71 L60.90,418.68 L61.23,419.37 L61.57,419.57 L61.90,419.52 L62.24,419.50 L62.57,418.64 L62.91,418.92 L63.24,419.39 L63.57,418.73 L63.91,419.23 L64.24,419.77 L64.58,419.59 L64.91,418.91 L65.24,419.47 L65.58,419.60 L65.91,418.90 L66.25,418.90 L66.58,418.94 L66.92,418.93 L67.25,418.98 L67.58,419.49 L67.92,419.49 L68.25,418.78 L68.59,419.38 L68.92,419.05 L69.25,418.62 L69.59,418.74 L69.92,418.99 L70.26,419.22 L70.59,418.76 L70.93,419.18 L71.26,419.22 L71.59,418.69 L71.93,418.82 L72.26,418.90 L72.60,418.71 L72.93,419.35 L73.26,419.04 L73.60,419.79 L73.93,420.37 L74.27,420.72 L74.60,421.18 L74.94,420.68 L75.27,421.71 L75.60,421.98 L75.94,422.04 L76.27,422.40 L76.61,422.63 L76.94,422.88 L77.27,422.84 L77.61,422.91 L77.94,422.80 L78.28,422.65 L78.61,422.83 L78.95,422.62 L79.28,422.97 L79.61,422.69 L79.95,422.63 L80.28,422.56 L80.62,422.70 L80.95,422.89 L81.28,422.70 L81.62,422.73 L81.95,422.85 L82.29,422.75 L82.62,423.03 L82.95,423.05 L83.29,422.96 L83.62,422.58 L83.96,423.04 L84.29,422.92 L84.63,422.66 L84.96,422.60 L85.29,422.84 L85.63,422.79 L85.96,422.59 L86.30,422.91 L86.63,423.00 L86.96,422.91 L87.30,422.68 L87.63,422.89 L87.97,422.76 L88.30,423.02 L88.64,422.63 L88.97,422.56 L89.30,422.59 L89.64,422.97 L89.97,422.56 L90.31,422.60 L90.64,422.94 L90.97,422.84 L91.31,422.97 L91.64,422.86 L91.98,422.66 L92.31,423.01 L92.65,422.71 L92.98,422.65 L93.31,423.03 L93.65,422.97 L93.98,422.65 L94.32,422.63 L94.65,422.91 L94.98,422.60 L95.32,422.72 L95.65,423.05 L95.99,422.68 L96.32,422.96 L96.66,422.88 L96.99,422.63 L97.32,423.05 L97.66,422.63 L97.99,422.87 L98.33,422.74 L98.66,422.90 L98.99,422.76 L99.33,422.94 L99.66,422.75 L100.00,422.83 L100.33,422.74 L100.67,423.05 L101.00,422.68 L101.33,422.94 L101.67,422.63 L102.00,422.81 L102.34,422.71 L102.67,422.83 L103.00,422.99 L103.34,422.55 L103.67,422.68 L104.01,422.55 L104.34,422.71 L104.67,422.84 L105.01,422.85 L105.34,422.65 L105.68,422.62 L106.01,422.65 L106.35,422.95 L106.68,422.92 L107.01,422.86 L107.35,423.03 L107.68,422.95 L108.02,422.87 L108.35,422.98 L108.68,422.94 L109.02,422.77 L109.35,422.70 L109.69,422.89 L110.02,422.62 L110.36,423.04 L110.69,423.03 L111.02,422.96 L111.36,422.65 L111.69,422.94 L112.03,422.67 L112.36,422.90 L112.69,422.64 L113.03,422.80 L113.36,422.95 L113.70,422.58 L114.03,422.54 L114.37,422.58 L114.70,422.83 L115.03,422.75 L115.37,422.92 L115.70,422.62 L116.04,422.86 L116.37,422.77 L116.70,422.75 L117.04,422.57 L117.37,422.83 L117.71,422.84 L118.04,422.58 L118.38,422.99 L118.71,423.03 L119.04,422.89 L119.38,423.04 L119.71,422.58 L120.05,422.80 L120.38,422.62 L120.71,423.03 L121.05,422.82 L121.38,422.64 L121.72,423.05 L122.05,422.66 L122.39,422.56 L122.72,422.62 L123.05,422.98 L123.39,422.80 L123.72,422.79 L124.06,422.81 L124.39,422.62 L124.72,422.89 L125.06,422.96 L125.39,422.57 L125.73,422.77 L126.06,422.71 L126.40,422.77 L126.73,422.74 L127.06,422.99 L127.40,423.00 L127.73,422.98 L128.07,422.82 L128.40,423.02 L128.40,423.70Z" fill="#6614e2" stroke="#1e0a55" stroke-width="0.6" stroke-linejoin="round"/>
<line x1="33.50" y1="358.80" x2="33.50" y2="423.70" stroke="#111" stroke-width="1.3"/>
<line x1="33.50" y1="423.70" x2="128.80" y2="423.70" stroke="#111" stroke-width="1.3"/>
<line x1="31.90" y1="423.70" x2="33.50" y2="423.70" stroke="#222" stroke-width="0.8"/>
<text transform="translate(30.20 423.70) rotate(-90)" font-size="4.4" font-weight="normal" text-anchor="middle" style="fill:#444">0</text>
<line x1="31.90" y1="410.80" x2="33.50" y2="410.80" stroke="#222" stroke-width="0.8"/>
<text transform="translate(30.20 410.80) rotate(-90)" font-size="4.4" font-weight="normal" text-anchor="middle" style="fill:#444">90</text>
<line x1="31.90" y1="397.90" x2="33.50" y2="397.90" stroke="#222" stroke-width="0.8"/>
<text transform="translate(30.20 397.90) rotate(-90)" font-size="4.4" font-weight="normal" text-anchor="middle" style="fill:#444">180</text>
<line x1="31.90" y1="385.00" x2="33.50" y2="385.00" stroke="#222" stroke-width="0.8"/>
<text transform="translate(30.20 385.00) rotate(-90)" font-size="4.4" font-weight="normal" text-anchor="middle" style="fill:#444">270</text>
<line x1="31.90" y1="372.10" x2="33.50" y2="372.10" stroke="#222" stroke-width="0.8"/>
<text transform="translate(30.20 372.10) rotate(-90)" font-size="4.4" font-weight="normal" text-anchor="middle" style="fill:#444">360</text>
<line x1="31.90" y1="359.20" x2="33.50" y2="359.20" stroke="#222" stroke-width="0.8"/>
<text transform="translate(30.20 359.20) rotate(-90)" font-size="4.4" font-weight="normal" text-anchor="middle" style="fill:#444">450</text>
<line x1="33.50" y1="423.70" x2="33.50" y2="425.30" stroke="#222" stroke-width="0.8"/>
<text x="33.50" y="429.30" font-size="4.4" font-weight="normal" text-anchor="middle" style="fill:#444">0</text>
<line x1="52.04" y1="423.70" x2="52.04" y2="425.30" stroke="#222" stroke-width="0.8"/>
<text x="52.04" y="429.30" font-size="4.4" font-weight="normal" text-anchor="middle" style="fill:#444">200</text>
<line x1="70.57" y1="423.70" x2="70.57" y2="425.30" stroke="#222" stroke-width="0.8"/>
<text x="70.57" y="429.30" font-size="4.4" font-weight="normal" text-anchor="middle" style="fill:#444">400</text>
<line x1="89.11" y1="423.70" x2="89.11" y2="425.30" stroke="#222" stroke-width="0.8"/>
<text x="89.11" y="429.30" font-size="4.4" font-weight="normal" text-anchor="middle" style="fill:#444">600</text>
<line x1="107.64" y1="423.70" x2="107.64" y2="425.30" stroke="#222" stroke-width="0.8"/>
<text x="107.64" y="429.30" font-size="4.4" font-weight="normal" text-anchor="middle" style="fill:#444">800</text>
<line x1="126.18" y1="423.70" x2="126.18" y2="425.30" stroke="#222" stroke-width="0.8"/>
<text x="126.18" y="429.30" font-size="4.4" font-weight="normal" text-anchor="middle" style="fill:#444">1000</text>
<text x="80.95" y="433.90" font-size="4.5" font-weight="normal" text-anchor="middle" style="fill:#444">FL2-A</text>
<text transform="translate(25.70 399.19) rotate(-90)" font-size="4.5" font-weight="normal" text-anchor="middle" style="fill:#444">Counts</text>
<text x="80.95" y="357.40" font-size="4.5" font-weight="normal" text-anchor="middle" style="fill:#444">Data.038</text>
<rect x="159.30" y="359.90" width="94.80" height="66.00" fill="#fff" stroke="#8a8a8a" stroke-width="0.9"/>
<path d="M159.30,425.90 L159.30,399.43 L159.63,411.61 L159.97,418.00 L160.30,421.56 L160.64,423.31 L160.97,424.22 L161.30,424.73 L161.64,424.89 L161.97,425.01 L162.30,424.73 L162.64,425.11 L162.97,425.12 L163.31,424.74 L163.64,424.75 L163.97,425.18 L164.31,425.07 L164.64,424.72 L164.97,425.03 L165.31,424.91 L165.64,424.87 L165.98,424.90 L166.31,425.21 L166.64,424.86 L166.98,424.81 L167.31,425.00 L167.65,425.06 L167.98,424.86 L168.31,424.72 L168.65,424.74 L168.98,425.13 L169.31,424.84 L169.65,424.98 L169.98,424.72 L170.32,424.73 L170.65,424.98 L170.98,424.76 L171.32,424.77 L171.65,425.18 L171.98,425.03 L172.32,424.74 L172.65,425.12 L172.99,425.01 L173.32,424.91 L173.65,425.05 L173.99,424.83 L174.32,425.14 L174.65,424.92 L174.99,424.95 L175.32,425.22 L175.66,424.79 L175.99,424.73 L176.32,424.54 L176.66,424.54 L176.99,423.62 L177.33,422.39 L177.66,419.65 L177.99,416.16 L178.33,411.76 L178.66,407.99 L178.99,403.90 L179.33,402.47 L179.66,401.80 L180.00,403.40 L180.33,405.99 L180.66,408.88 L181.00,411.53 L181.33,413.24 L181.66,414.50 L182.00,416.90 L182.33,417.16 L182.67,417.56 L183.00,418.57 L183.33,419.12 L183.67,418.34 L184.00,418.68 L184.34,419.33 L184.67,419.15 L185.00,418.56 L185.34,418.60 L185.67,419.34 L186.00,419.05 L186.34,418.08 L186.67,418.52 L187.01,418.16 L187.34,418.94 L187.67,418.08 L188.01,417.82 L188.34,418.58 L188.67,418.49 L189.01,417.73 L189.34,417.96 L189.68,418.35 L190.01,417.43 L190.34,418.03 L190.68,417.07 L191.01,416.53 L191.35,416.50 L191.68,415.86 L192.01,414.82 L192.35,415.36 L192.68,413.40 L193.01,413.72 L193.35,411.92 L193.68,410.49 L194.02,410.66 L194.35,408.43 L194.68,409.35 L195.02,407.85 L195.35,408.61 L195.68,410.04 L196.02,409.41 L196.35,411.35 L196.69,410.58 L197.02,413.26 L197.35,413.48 L197.69,414.56 L198.02,415.40 L198.35,416.60 L198.69,418.22 L199.02,418.40 L199.36,420.11 L199.69,420.96 L200.02,421.22 L200.36,421.95 L200.69,422.93 L201.03,423.39 L201.36,423.96 L201.69,424.39 L202.03,424.78 L202.36,424.89 L202.69,425.09 L203.03,424.93 L203.36,424.82 L203.70,424.89 L204.03,424.73 L204.36,424.81 L204.70,425.17 L205.03,424.97 L205.36,425.00 L205.70,425.23 L206.03,424.74 L206.37,424.90 L206.70,425.07 L207.03,424.91 L207.37,424.89 L207.70,424.83 L208.04,424.77 L208.37,424.94 L208.70,424.97 L209.04,424.94 L209.37,425.12 L209.70,425.22 L210.04,424.85 L210.37,424.86 L210.71,425.19 L211.04,425.05 L211.37,425.12 L211.71,425.18 L212.04,424.87 L212.37,425.03 L212.71,425.07 L213.04,424.85 L213.38,424.82 L213.71,425.09 L214.04,424.94 L214.38,425.10 L214.71,425.10 L215.05,425.10 L215.38,425.08 L215.71,425.14 L216.05,425.22 L216.38,424.76 L216.71,424.98 L217.05,425.09 L217.38,424.98 L217.72,424.75 L218.05,425.19 L218.38,424.78 L218.72,425.08 L219.05,425.23 L219.38,424.73 L219.72,425.09 L220.05,424.75 L220.39,425.19 L220.72,425.17 L221.05,424.88 L221.39,425.15 L221.72,424.83 L222.05,425.02 L222.39,424.73 L222.72,425.02 L223.06,424.89 L223.39,425.07 L223.72,425.06 L224.06,424.95 L224.39,425.09 L224.73,424.93 L225.06,425.07 L225.39,424.96 L225.73,425.16 L226.06,425.07 L226.39,425.06 L226.73,424.99 L227.06,424.72 L227.40,424.72 L227.73,424.99 L228.06,424.88 L228.40,424.81 L228.73,424.79 L229.06,424.92 L229.40,425.15 L229.73,424.90 L230.07,425.03 L230.40,425.17 L230.73,425.16 L231.07,424.86 L231.40,425.11 L231.74,425.09 L232.07,425.03 L232.40,425.07 L232.74,424.96 L233.07,425.12 L233.40,425.15 L233.74,424.88 L234.07,425.20 L234.41,424.78 L234.74,424.74 L235.07,425.18 L235.41,424.92 L235.74,424.79 L236.07,425.13 L236.41,424.73 L236.74,425.05 L237.08,425.21 L237.41,425.21 L237.74,425.08 L238.08,425.09 L238.41,424.89 L238.75,424.94 L239.08,424.81 L239.41,424.92 L239.75,425.06 L240.08,425.21 L240.41,424.79 L240.75,425.07 L241.08,424.77 L241.42,425.21 L241.75,425.11 L242.08,424.76 L242.42,424.83 L242.75,425.19 L243.08,424.87 L243.42,424.80 L243.75,424.87 L244.09,424.85 L244.42,425.11 L244.75,425.00 L245.09,424.82 L245.42,424.89 L245.75,425.23 L246.09,425.14 L246.42,425.08 L246.76,425.16 L247.09,425.07 L247.42,425.16 L247.76,424.77 L248.09,425.10 L248.43,424.72 L248.76,424.81 L249.09,425.08 L249.43,425.13 L249.76,424.77 L250.09,425.05 L250.43,424.87 L250.76,424.85 L251.10,424.97 L251.43,424.87 L251.76,424.90 L252.10,424.94 L252.43,425.15 L252.76,424.80 L253.10,424.86 L253.43,425.20 L253.77,425.01 L254.10,425.13 L254.10,425.90Z" fill="#6614e2" stroke="#1e0a55" stroke-width="0.6" stroke-linejoin="round"/>
<line x1="159.30" y1="359.50" x2="159.30" y2="425.90" stroke="#111" stroke-width="1.3"/>
<line x1="159.30" y1="425.90" x2="254.50" y2="425.90" stroke="#111" stroke-width="1.3"/>
<line x1="157.70" y1="425.90" x2="159.30" y2="425.90" stroke="#222" stroke-width="0.8"/>
<text transform="translate(156.00 425.90) rotate(-90)" font-size="4.4" font-weight="normal" text-anchor="middle" style="fill:#444">0</text>
<line x1="157.70" y1="412.70" x2="159.30" y2="412.70" stroke="#222" stroke-width="0.8"/>
<text transform="translate(156.00 412.70) rotate(-90)" font-size="4.4" font-weight="normal" text-anchor="middle" style="fill:#444">90</text>
<line x1="157.70" y1="399.50" x2="159.30" y2="399.50" stroke="#222" stroke-width="0.8"/>
<text transform="translate(156.00 399.50) rotate(-90)" font-size="4.4" font-weight="normal" text-anchor="middle" style="fill:#444">180</text>
<line x1="157.70" y1="386.30" x2="159.30" y2="386.30" stroke="#222" stroke-width="0.8"/>
<text transform="translate(156.00 386.30) rotate(-90)" font-size="4.4" font-weight="normal" text-anchor="middle" style="fill:#444">270</text>
<line x1="157.70" y1="373.10" x2="159.30" y2="373.10" stroke="#222" stroke-width="0.8"/>
<text transform="translate(156.00 373.10) rotate(-90)" font-size="4.4" font-weight="normal" text-anchor="middle" style="fill:#444">360</text>
<line x1="157.70" y1="359.90" x2="159.30" y2="359.90" stroke="#222" stroke-width="0.8"/>
<text transform="translate(156.00 359.90) rotate(-90)" font-size="4.4" font-weight="normal" text-anchor="middle" style="fill:#444">450</text>
<line x1="159.30" y1="425.90" x2="159.30" y2="427.50" stroke="#222" stroke-width="0.8"/>
<text x="159.30" y="431.50" font-size="4.4" font-weight="normal" text-anchor="middle" style="fill:#444">0</text>
<line x1="177.82" y1="425.90" x2="177.82" y2="427.50" stroke="#222" stroke-width="0.8"/>
<text x="177.82" y="431.50" font-size="4.4" font-weight="normal" text-anchor="middle" style="fill:#444">200</text>
<line x1="196.33" y1="425.90" x2="196.33" y2="427.50" stroke="#222" stroke-width="0.8"/>
<text x="196.33" y="431.50" font-size="4.4" font-weight="normal" text-anchor="middle" style="fill:#444">400</text>
<line x1="214.85" y1="425.90" x2="214.85" y2="427.50" stroke="#222" stroke-width="0.8"/>
<text x="214.85" y="431.50" font-size="4.4" font-weight="normal" text-anchor="middle" style="fill:#444">600</text>
<line x1="233.36" y1="425.90" x2="233.36" y2="427.50" stroke="#222" stroke-width="0.8"/>
<text x="233.36" y="431.50" font-size="4.4" font-weight="normal" text-anchor="middle" style="fill:#444">800</text>
<line x1="251.88" y1="425.90" x2="251.88" y2="427.50" stroke="#222" stroke-width="0.8"/>
<text x="251.88" y="431.50" font-size="4.4" font-weight="normal" text-anchor="middle" style="fill:#444">1000</text>
<text x="206.70" y="436.10" font-size="4.5" font-weight="normal" text-anchor="middle" style="fill:#444">FL2-A</text>
<text transform="translate(151.50 400.82) rotate(-90)" font-size="4.5" font-weight="normal" text-anchor="middle" style="fill:#444">Counts</text>
<text x="206.70" y="358.10" font-size="4.5" font-weight="normal" text-anchor="middle" style="fill:#444">Data.042</text>
<rect x="284.30" y="360.90" width="94.80" height="64.50" fill="#fff" stroke="#8a8a8a" stroke-width="0.9"/>
<path d="M284.30,425.40 L284.30,372.37 L284.63,396.24 L284.97,408.78 L285.30,415.70 L285.64,419.12 L285.97,420.89 L286.30,422.25 L286.64,422.96 L286.97,423.25 L287.30,423.71 L287.64,424.00 L287.97,423.85 L288.31,424.30 L288.64,424.00 L288.97,424.07 L289.31,424.29 L289.64,424.34 L289.97,424.60 L290.31,424.57 L290.64,424.28 L290.98,424.32 L291.31,424.39 L291.64,424.65 L291.98,424.35 L292.31,424.22 L292.65,424.29 L292.98,424.40 L293.31,424.51 L293.65,424.53 L293.98,424.67 L294.31,424.73 L294.65,424.25 L294.98,424.55 L295.32,424.55 L295.65,424.50 L295.98,424.25 L296.32,424.28 L296.65,424.40 L296.98,424.35 L297.32,424.48 L297.65,424.42 L297.99,424.34 L298.32,424.41 L298.65,424.73 L298.99,424.51 L299.32,424.44 L299.65,424.36 L299.99,424.14 L300.32,424.00 L300.66,423.67 L300.99,422.50 L301.32,420.09 L301.66,416.10 L301.99,410.16 L302.33,402.29 L302.66,394.31 L302.99,388.08 L303.33,386.01 L303.66,386.65 L303.99,388.73 L304.33,392.76 L304.66,397.12 L305.00,400.57 L305.33,403.90 L305.66,407.20 L306.00,409.67 L306.33,411.38 L306.66,413.41 L307.00,414.00 L307.33,415.17 L307.67,415.86 L308.00,417.76 L308.33,417.93 L308.67,418.33 L309.00,419.49 L309.34,419.18 L309.67,420.33 L310.00,419.73 L310.34,420.22 L310.67,420.90 L311.00,420.46 L311.34,421.10 L311.67,421.42 L312.01,421.16 L312.34,421.38 L312.67,420.86 L313.01,421.03 L313.34,421.36 L313.67,421.01 L314.01,421.05 L314.34,421.64 L314.68,421.39 L315.01,420.90 L315.34,420.93 L315.68,421.37 L316.01,421.53 L316.35,421.61 L316.68,421.39 L317.01,420.83 L317.35,420.70 L317.68,420.91 L318.01,420.80 L318.35,421.18 L318.68,420.29 L319.02,420.38 L319.35,419.52 L319.68,419.40 L320.02,419.29 L320.35,418.82 L320.68,418.52 L321.02,419.20 L321.35,418.75 L321.69,419.44 L322.02,419.55 L322.35,420.02 L322.69,420.78 L323.02,420.89 L323.35,421.37 L323.69,422.48 L324.02,422.34 L324.36,422.36 L324.69,422.85 L325.02,423.52 L325.36,423.59 L325.69,423.67 L326.03,424.12 L326.36,424.38 L326.69,424.33 L327.03,424.36 L327.36,424.46 L327.69,424.74 L328.03,424.47 L328.36,424.40 L328.70,424.39 L329.03,424.34 L329.36,424.61 L329.70,424.44 L330.03,424.37 L330.36,424.53 L330.70,424.26 L331.03,424.59 L331.37,424.49 L331.70,424.54 L332.03,424.29 L332.37,424.32 L332.70,424.38 L333.04,424.40 L333.37,424.45 L333.70,424.39 L334.04,424.59 L334.37,424.71 L334.70,424.53 L335.04,424.25 L335.37,424.72 L335.71,424.45 L336.04,424.68 L336.37,424.74 L336.71,424.39 L337.04,424.41 L337.37,424.62 L337.71,424.45 L338.04,424.46 L338.38,424.50 L338.71,424.39 L339.04,424.35 L339.38,424.35 L339.71,424.45 L340.05,424.27 L340.38,424.25 L340.71,424.37 L341.05,424.61 L341.38,424.67 L341.71,424.40 L342.05,424.35 L342.38,424.25 L342.72,424.27 L343.05,424.55 L343.38,424.71 L343.72,424.43 L344.05,424.48 L344.38,424.41 L344.72,424.66 L345.05,424.44 L345.39,424.43 L345.72,424.75 L346.05,424.71 L346.39,424.53 L346.72,424.42 L347.05,424.34 L347.39,424.66 L347.72,424.26 L348.06,424.64 L348.39,424.25 L348.72,424.64 L349.06,424.42 L349.39,424.30 L349.73,424.65 L350.06,424.56 L350.39,424.28 L350.73,424.36 L351.06,424.35 L351.39,424.71 L351.73,424.29 L352.06,424.53 L352.40,424.65 L352.73,424.33 L353.06,424.51 L353.40,424.34 L353.73,424.32 L354.06,424.74 L354.40,424.63 L354.73,424.42 L355.07,424.69 L355.40,424.67 L355.73,424.43 L356.07,424.32 L356.40,424.66 L356.74,424.68 L357.07,424.35 L357.40,424.55 L357.74,424.56 L358.07,424.47 L358.40,424.24 L358.74,424.42 L359.07,424.55 L359.41,424.53 L359.74,424.29 L360.07,424.40 L360.41,424.46 L360.74,424.62 L361.07,424.34 L361.41,424.69 L361.74,424.54 L362.08,424.66 L362.41,424.64 L362.74,424.68 L363.08,424.65 L363.41,424.35 L363.75,424.74 L364.08,424.55 L364.41,424.73 L364.75,424.73 L365.08,424.58 L365.41,424.58 L365.75,424.29 L366.08,424.56 L366.42,424.29 L366.75,424.24 L367.08,424.50 L367.42,424.51 L367.75,424.31 L368.08,424.29 L368.42,424.24 L368.75,424.64 L369.09,424.59 L369.42,424.47 L369.75,424.48 L370.09,424.58 L370.42,424.68 L370.75,424.55 L371.09,424.30 L371.42,424.56 L371.76,424.58 L372.09,424.28 L372.42,424.72 L372.76,424.60 L373.09,424.67 L373.43,424.60 L373.76,424.28 L374.09,424.59 L374.43,424.58 L374.76,424.63 L375.09,424.52 L375.43,424.73 L375.76,424.53 L376.10,424.30 L376.43,424.28 L376.76,424.58 L377.10,424.71 L377.43,424.73 L377.76,424.54 L378.10,424.61 L378.43,424.36 L378.77,424.64 L379.10,424.54 L379.10,425.40Z" fill="#6614e2" stroke="#1e0a55" stroke-width="0.6" stroke-linejoin="round"/>
<line x1="284.30" y1="360.50" x2="284.30" y2="425.40" stroke="#111" stroke-width="1.3"/>
<line x1="284.30" y1="425.40" x2="379.50" y2="425.40" stroke="#111" stroke-width="1.3"/>
<line x1="282.70" y1="425.40" x2="284.30" y2="425.40" stroke="#222" stroke-width="0.8"/>
<text transform="translate(281.00 425.40) rotate(-90)" font-size="4.4" font-weight="normal" text-anchor="middle" style="fill:#444">0</text>
<line x1="282.70" y1="412.50" x2="284.30" y2="412.50" stroke="#222" stroke-width="0.8"/>
<text transform="translate(281.00 412.50) rotate(-90)" font-size="4.4" font-weight="normal" text-anchor="middle" style="fill:#444">90</text>
<line x1="282.70" y1="399.60" x2="284.30" y2="399.60" stroke="#222" stroke-width="0.8"/>
<text transform="translate(281.00 399.60) rotate(-90)" font-size="4.4" font-weight="normal" text-anchor="middle" style="fill:#444">180</text>
<line x1="282.70" y1="386.70" x2="284.30" y2="386.70" stroke="#222" stroke-width="0.8"/>
<text transform="translate(281.00 386.70) rotate(-90)" font-size="4.4" font-weight="normal" text-anchor="middle" style="fill:#444">270</text>
<line x1="282.70" y1="373.80" x2="284.30" y2="373.80" stroke="#222" stroke-width="0.8"/>
<text transform="translate(281.00 373.80) rotate(-90)" font-size="4.4" font-weight="normal" text-anchor="middle" style="fill:#444">360</text>
<line x1="282.70" y1="360.90" x2="284.30" y2="360.90" stroke="#222" stroke-width="0.8"/>
<text transform="translate(281.00 360.90) rotate(-90)" font-size="4.4" font-weight="normal" text-anchor="middle" style="fill:#444">450</text>
<line x1="284.30" y1="425.40" x2="284.30" y2="427.00" stroke="#222" stroke-width="0.8"/>
<text x="284.30" y="431.00" font-size="4.4" font-weight="normal" text-anchor="middle" style="fill:#444">0</text>
<line x1="302.82" y1="425.40" x2="302.82" y2="427.00" stroke="#222" stroke-width="0.8"/>
<text x="302.82" y="431.00" font-size="4.4" font-weight="normal" text-anchor="middle" style="fill:#444">200</text>
<line x1="321.33" y1="425.40" x2="321.33" y2="427.00" stroke="#222" stroke-width="0.8"/>
<text x="321.33" y="431.00" font-size="4.4" font-weight="normal" text-anchor="middle" style="fill:#444">400</text>
<line x1="339.85" y1="425.40" x2="339.85" y2="427.00" stroke="#222" stroke-width="0.8"/>
<text x="339.85" y="431.00" font-size="4.4" font-weight="normal" text-anchor="middle" style="fill:#444">600</text>
<line x1="358.36" y1="425.40" x2="358.36" y2="427.00" stroke="#222" stroke-width="0.8"/>
<text x="358.36" y="431.00" font-size="4.4" font-weight="normal" text-anchor="middle" style="fill:#444">800</text>
<line x1="376.88" y1="425.40" x2="376.88" y2="427.00" stroke="#222" stroke-width="0.8"/>
<text x="376.88" y="431.00" font-size="4.4" font-weight="normal" text-anchor="middle" style="fill:#444">1000</text>
<text x="331.70" y="435.60" font-size="4.5" font-weight="normal" text-anchor="middle" style="fill:#444">FL2-A</text>
<text transform="translate(276.50 400.89) rotate(-90)" font-size="4.5" font-weight="normal" text-anchor="middle" style="fill:#444">Counts</text>
<text x="331.70" y="359.10" font-size="4.5" font-weight="normal" text-anchor="middle" style="fill:#444">Data.054</text>
<rect x="37.80" y="455.40" width="94.10" height="65.20" fill="#fff" stroke="#8a8a8a" stroke-width="0.9"/>
<path d="M37.80,520.60 L37.80,455.40 L38.13,481.17 L38.47,497.73 L38.80,506.31 L39.13,510.60 L39.47,512.76 L39.80,514.00 L40.14,514.57 L40.47,515.04 L40.80,515.37 L41.14,515.56 L41.47,515.12 L41.80,515.63 L42.14,515.36 L42.47,515.92 L42.81,516.23 L43.14,515.96 L43.47,516.30 L43.81,516.65 L44.14,515.98 L44.47,516.49 L44.81,516.82 L45.14,516.76 L45.47,516.70 L45.81,516.67 L46.14,517.01 L46.48,516.68 L46.81,516.83 L47.14,517.03 L47.48,517.21 L47.81,516.73 L48.14,517.23 L48.48,517.58 L48.81,517.36 L49.15,517.29 L49.48,517.39 L49.81,517.84 L50.15,517.64 L50.48,517.95 L50.81,517.93 L51.15,518.02 L51.48,517.97 L51.81,517.52 L52.15,518.14 L52.48,518.05 L52.82,518.10 L53.15,517.60 L53.48,516.67 L53.82,513.57 L54.15,508.63 L54.48,500.96 L54.82,491.03 L55.15,481.22 L55.49,473.60 L55.82,471.51 L56.15,472.03 L56.49,476.18 L56.82,481.53 L57.15,487.91 L57.49,492.96 L57.82,497.75 L58.15,502.11 L58.49,505.12 L58.82,507.01 L59.16,509.00 L59.49,510.52 L59.82,511.46 L60.16,512.99 L60.49,513.91 L60.82,514.16 L61.16,515.22 L61.49,515.49 L61.83,516.01 L62.16,516.20 L62.49,515.95 L62.83,516.51 L63.16,517.07 L63.49,516.69 L63.83,516.34 L64.16,517.11 L64.50,516.94 L64.83,516.43 L65.16,517.19 L65.50,517.13 L65.83,517.00 L66.16,517.25 L66.50,517.26 L66.83,516.90 L67.16,516.76 L67.50,516.83 L67.83,517.19 L68.17,516.77 L68.50,516.94 L68.83,516.68 L69.17,517.57 L69.50,517.37 L69.83,517.15 L70.17,516.53 L70.50,516.82 L70.84,516.94 L71.17,517.35 L71.50,517.14 L71.84,517.21 L72.17,516.54 L72.50,517.16 L72.84,516.98 L73.17,516.78 L73.50,516.21 L73.84,516.63 L74.17,516.79 L74.51,517.15 L74.84,517.29 L75.17,518.10 L75.51,518.24 L75.84,518.50 L76.17,518.29 L76.51,518.38 L76.84,519.01 L77.18,519.44 L77.51,519.55 L77.84,519.66 L78.18,519.81 L78.51,519.89 L78.84,519.52 L79.18,519.50 L79.51,519.58 L79.84,519.61 L80.18,519.47 L80.51,519.62 L80.85,519.84 L81.18,519.88 L81.51,519.47 L81.85,519.82 L82.18,519.43 L82.51,519.56 L82.85,519.88 L83.18,519.73 L83.52,519.75 L83.85,519.90 L84.18,519.51 L84.52,519.56 L84.85,519.81 L85.18,519.62 L85.52,519.48 L85.85,519.47 L86.18,519.60 L86.52,519.84 L86.85,519.66 L87.19,519.76 L87.52,519.44 L87.85,519.49 L88.19,519.72 L88.52,519.52 L88.85,519.68 L89.19,519.62 L89.52,519.88 L89.86,519.58 L90.19,519.52 L90.52,519.68 L90.86,519.58 L91.19,519.67 L91.52,519.56 L91.86,519.59 L92.19,519.74 L92.52,519.90 L92.86,519.64 L93.19,519.81 L93.53,519.75 L93.86,519.94 L94.19,519.49 L94.53,519.58 L94.86,519.77 L95.19,519.44 L95.53,519.71 L95.86,519.62 L96.20,519.85 L96.53,519.53 L96.86,519.87 L97.20,519.52 L97.53,519.43 L97.86,519.72 L98.20,519.93 L98.53,519.44 L98.86,519.53 L99.20,519.93 L99.53,519.52 L99.87,519.91 L100.20,519.70 L100.53,519.90 L100.87,519.79 L101.20,519.45 L101.53,519.92 L101.87,519.67 L102.20,519.46 L102.54,519.92 L102.87,519.48 L103.20,519.69 L103.54,519.56 L103.87,519.63 L104.20,519.51 L104.54,519.92 L104.87,519.46 L105.20,519.87 L105.54,519.83 L105.87,519.49 L106.21,519.56 L106.54,519.76 L106.87,519.62 L107.21,519.62 L107.54,519.95 L107.87,519.51 L108.21,519.53 L108.54,519.73 L108.88,519.65 L109.21,519.82 L109.54,519.59 L109.88,519.47 L110.21,519.83 L110.54,519.72 L110.88,519.44 L111.21,519.84 L111.55,519.85 L111.88,519.87 L112.21,519.62 L112.55,519.57 L112.88,519.48 L113.21,519.56 L113.55,519.76 L113.88,519.84 L114.21,519.69 L114.55,519.90 L114.88,519.79 L115.22,519.69 L115.55,519.90 L115.88,519.57 L116.22,519.46 L116.55,519.93 L116.88,519.73 L117.22,519.56 L117.55,519.87 L117.89,519.57 L118.22,519.65 L118.55,519.48 L118.89,519.56 L119.22,519.57 L119.55,519.52 L119.89,519.50 L120.22,519.45 L120.55,519.90 L120.89,519.49 L121.22,519.78 L121.56,519.84 L121.89,519.74 L122.22,519.67 L122.56,519.75 L122.89,519.52 L123.22,519.83 L123.56,519.82 L123.89,519.84 L124.23,519.72 L124.56,519.89 L124.89,519.68 L125.23,519.73 L125.56,519.66 L125.89,519.51 L126.23,519.52 L126.56,519.67 L126.89,519.64 L127.23,519.95 L127.56,519.88 L127.90,519.94 L128.23,519.66 L128.56,519.93 L128.90,519.43 L129.23,519.52 L129.56,519.83 L129.90,519.61 L130.23,519.54 L130.57,519.83 L130.90,519.59 L131.23,519.84 L131.57,519.44 L131.90,519.69 L131.90,520.60Z" fill="#6614e2" stroke="#1e0a55" stroke-width="0.6" stroke-linejoin="round"/>
<line x1="37.80" y1="455.00" x2="37.80" y2="520.60" stroke="#111" stroke-width="1.3"/>
<line x1="37.80" y1="520.60" x2="132.30" y2="520.60" stroke="#111" stroke-width="1.3"/>
<line x1="36.20" y1="520.60" x2="37.80" y2="520.60" stroke="#222" stroke-width="0.8"/>
<text transform="translate(34.50 520.60) rotate(-90)" font-size="4.4" font-weight="normal" text-anchor="middle" style="fill:#444">0</text>
<line x1="36.20" y1="507.56" x2="37.80" y2="507.56" stroke="#222" stroke-width="0.8"/>
<text transform="translate(34.50 507.56) rotate(-90)" font-size="4.4" font-weight="normal" text-anchor="middle" style="fill:#444">90</text>
<line x1="36.20" y1="494.52" x2="37.80" y2="494.52" stroke="#222" stroke-width="0.8"/>
<text transform="translate(34.50 494.52) rotate(-90)" font-size="4.4" font-weight="normal" text-anchor="middle" style="fill:#444">180</text>
<line x1="36.20" y1="481.48" x2="37.80" y2="481.48" stroke="#222" stroke-width="0.8"/>
<text transform="translate(34.50 481.48) rotate(-90)" font-size="4.4" font-weight="normal" text-anchor="middle" style="fill:#444">270</text>
<line x1="36.20" y1="468.44" x2="37.80" y2="468.44" stroke="#222" stroke-width="0.8"/>
<text transform="translate(34.50 468.44) rotate(-90)" font-size="4.4" font-weight="normal" text-anchor="middle" style="fill:#444">360</text>
<line x1="36.20" y1="455.40" x2="37.80" y2="455.40" stroke="#222" stroke-width="0.8"/>
<text transform="translate(34.50 455.40) rotate(-90)" font-size="4.4" font-weight="normal" text-anchor="middle" style="fill:#444">450</text>
<line x1="37.80" y1="520.60" x2="37.80" y2="522.20" stroke="#222" stroke-width="0.8"/>
<text x="37.80" y="526.20" font-size="4.4" font-weight="normal" text-anchor="middle" style="fill:#444">0</text>
<line x1="56.18" y1="520.60" x2="56.18" y2="522.20" stroke="#222" stroke-width="0.8"/>
<text x="56.18" y="526.20" font-size="4.4" font-weight="normal" text-anchor="middle" style="fill:#444">200</text>
<line x1="74.56" y1="520.60" x2="74.56" y2="522.20" stroke="#222" stroke-width="0.8"/>
<text x="74.56" y="526.20" font-size="4.4" font-weight="normal" text-anchor="middle" style="fill:#444">400</text>
<line x1="92.94" y1="520.60" x2="92.94" y2="522.20" stroke="#222" stroke-width="0.8"/>
<text x="92.94" y="526.20" font-size="4.4" font-weight="normal" text-anchor="middle" style="fill:#444">600</text>
<line x1="111.32" y1="520.60" x2="111.32" y2="522.20" stroke="#222" stroke-width="0.8"/>
<text x="111.32" y="526.20" font-size="4.4" font-weight="normal" text-anchor="middle" style="fill:#444">800</text>
<line x1="129.69" y1="520.60" x2="129.69" y2="522.20" stroke="#222" stroke-width="0.8"/>
<text x="129.69" y="526.20" font-size="4.4" font-weight="normal" text-anchor="middle" style="fill:#444">1000</text>
<text x="84.85" y="530.80" font-size="4.5" font-weight="normal" text-anchor="middle" style="fill:#444">FL2-A</text>
<text transform="translate(30.00 495.82) rotate(-90)" font-size="4.5" font-weight="normal" text-anchor="middle" style="fill:#444">Counts</text>
<text x="84.85" y="453.60" font-size="4.5" font-weight="normal" text-anchor="middle" style="fill:#444">Data.003</text>
<rect x="160.30" y="453.90" width="93.80" height="67.10" fill="#fff" stroke="#8a8a8a" stroke-width="0.9"/>
<path d="M160.30,521.00 L160.30,453.90 L160.63,476.11 L160.97,490.39 L161.30,499.71 L161.64,505.01 L161.97,508.11 L162.30,510.54 L162.64,511.56 L162.97,512.39 L163.30,513.03 L163.64,513.48 L163.97,513.67 L164.31,513.36 L164.64,514.49 L164.97,514.29 L165.31,513.83 L165.64,514.35 L165.97,514.37 L166.31,513.70 L166.64,514.02 L166.98,514.40 L167.31,514.57 L167.64,514.19 L167.98,514.48 L168.31,514.36 L168.65,514.51 L168.98,514.23 L169.31,515.01 L169.65,514.33 L169.98,514.77 L170.31,514.75 L170.65,514.54 L170.98,514.52 L171.32,515.00 L171.65,514.58 L171.98,515.18 L172.32,516.32 L172.65,517.25 L172.98,517.67 L173.32,518.16 L173.65,518.77 L173.99,518.98 L174.32,519.27 L174.65,519.58 L174.99,519.85 L175.32,519.91 L175.66,519.96 L175.99,519.62 L176.32,519.88 L176.66,519.08 L176.99,518.51 L177.32,517.80 L177.66,516.08 L177.99,514.13 L178.33,512.41 L178.66,511.22 L178.99,510.57 L179.33,510.57 L179.66,511.69 L179.99,513.33 L180.33,514.00 L180.66,515.10 L181.00,516.14 L181.33,517.15 L181.66,517.31 L182.00,517.47 L182.33,517.87 L182.67,518.25 L183.00,518.17 L183.33,518.28 L183.67,517.92 L184.00,517.71 L184.33,518.46 L184.67,517.68 L185.00,517.89 L185.34,517.90 L185.67,517.80 L186.00,517.94 L186.34,518.11 L186.67,517.58 L187.00,518.12 L187.34,518.04 L187.67,518.07 L188.01,517.90 L188.34,517.96 L188.67,518.03 L189.01,518.13 L189.34,518.07 L189.68,518.43 L190.01,517.86 L190.34,518.23 L190.68,518.21 L191.01,518.06 L191.34,518.05 L191.68,517.70 L192.01,518.39 L192.35,518.12 L192.68,518.15 L193.01,517.46 L193.35,517.72 L193.68,517.15 L194.01,516.14 L194.35,515.34 L194.68,514.58 L195.02,512.41 L195.35,510.95 L195.68,509.70 L196.02,507.78 L196.35,506.40 L196.69,505.49 L197.02,505.46 L197.35,505.92 L197.69,507.28 L198.02,508.81 L198.35,510.60 L198.69,512.04 L199.02,513.80 L199.36,515.65 L199.69,517.01 L200.02,517.82 L200.36,518.52 L200.69,519.04 L201.02,519.42 L201.36,520.01 L201.69,519.85 L202.03,520.00 L202.36,519.96 L202.69,519.98 L203.03,519.94 L203.36,520.15 L203.70,520.10 L204.03,519.82 L204.36,520.32 L204.70,520.01 L205.03,519.98 L205.36,520.23 L205.70,520.16 L206.03,519.94 L206.37,519.96 L206.70,519.96 L207.03,520.05 L207.37,520.21 L207.70,519.87 L208.03,520.32 L208.37,519.85 L208.70,520.12 L209.04,520.00 L209.37,520.13 L209.70,520.08 L210.04,519.79 L210.37,520.14 L210.70,520.23 L211.04,520.07 L211.37,520.10 L211.71,519.93 L212.04,519.88 L212.37,520.26 L212.71,520.00 L213.04,520.30 L213.38,519.80 L213.71,520.27 L214.04,519.92 L214.38,520.28 L214.71,520.32 L215.04,520.31 L215.38,520.17 L215.71,519.97 L216.05,519.96 L216.38,520.29 L216.71,520.31 L217.05,520.04 L217.38,520.27 L217.71,520.32 L218.05,520.24 L218.38,520.15 L218.72,519.83 L219.05,520.32 L219.38,520.31 L219.72,520.14 L220.05,519.84 L220.39,519.99 L220.72,519.99 L221.05,520.13 L221.39,519.94 L221.72,520.13 L222.05,520.01 L222.39,520.16 L222.72,520.06 L223.06,519.99 L223.39,520.30 L223.72,519.84 L224.06,519.87 L224.39,520.30 L224.72,520.18 L225.06,520.09 L225.39,519.88 L225.73,519.98 L226.06,519.80 L226.39,520.14 L226.73,519.83 L227.06,520.02 L227.40,520.17 L227.73,520.24 L228.06,519.80 L228.40,520.14 L228.73,520.16 L229.06,520.04 L229.40,519.84 L229.73,519.84 L230.07,519.99 L230.40,520.15 L230.73,519.84 L231.07,520.00 L231.40,520.28 L231.73,519.90 L232.07,520.29 L232.40,520.30 L232.74,519.95 L233.07,520.07 L233.40,519.90 L233.74,519.92 L234.07,520.13 L234.41,520.18 L234.74,519.94 L235.07,520.18 L235.41,520.31 L235.74,520.32 L236.07,520.17 L236.41,520.23 L236.74,520.03 L237.08,519.90 L237.41,519.99 L237.74,520.00 L238.08,520.33 L238.41,519.89 L238.74,520.07 L239.08,519.87 L239.41,520.05 L239.75,520.14 L240.08,520.07 L240.41,520.02 L240.75,519.93 L241.08,520.28 L241.42,519.80 L241.75,519.95 L242.08,520.26 L242.42,519.94 L242.75,520.26 L243.08,519.98 L243.42,520.16 L243.75,520.01 L244.09,520.10 L244.42,519.93 L244.75,519.90 L245.09,520.07 L245.42,520.26 L245.75,520.27 L246.09,519.82 L246.42,520.20 L246.76,520.29 L247.09,520.11 L247.42,520.29 L247.76,520.14 L248.09,519.93 L248.43,520.03 L248.76,520.08 L249.09,520.17 L249.43,520.26 L249.76,520.26 L250.09,519.92 L250.43,519.88 L250.76,520.20 L251.10,520.33 L251.43,520.00 L251.76,520.29 L252.10,520.21 L252.43,519.94 L252.76,519.90 L253.10,519.97 L253.43,520.08 L253.77,519.91 L254.10,519.88 L254.10,521.00Z" fill="#6614e2" stroke="#1e0a55" stroke-width="0.6" stroke-linejoin="round"/>
<line x1="160.30" y1="453.50" x2="160.30" y2="521.00" stroke="#111" stroke-width="1.3"/>
<line x1="160.30" y1="521.00" x2="254.50" y2="521.00" stroke="#111" stroke-width="1.3"/>
<line x1="158.70" y1="521.00" x2="160.30" y2="521.00" stroke="#222" stroke-width="0.8"/>
<text transform="translate(157.00 521.00) rotate(-90)" font-size="4.4" font-weight="normal" text-anchor="middle" style="fill:#444">0</text>
<line x1="158.70" y1="507.58" x2="160.30" y2="507.58" stroke="#222" stroke-width="0.8"/>
<text transform="translate(157.00 507.58) rotate(-90)" font-size="4.4" font-weight="normal" text-anchor="middle" style="fill:#444">90</text>
<line x1="158.70" y1="494.16" x2="160.30" y2="494.16" stroke="#222" stroke-width="0.8"/>
<text transform="translate(157.00 494.16) rotate(-90)" font-size="4.4" font-weight="normal" text-anchor="middle" style="fill:#444">180</text>
<line x1="158.70" y1="480.74" x2="160.30" y2="480.74" stroke="#222" stroke-width="0.8"/>
<text transform="translate(157.00 480.74) rotate(-90)" font-size="4.4" font-weight="normal" text-anchor="middle" style="fill:#444">270</text>
<line x1="158.70" y1="467.32" x2="160.30" y2="467.32" stroke="#222" stroke-width="0.8"/>
<text transform="translate(157.00 467.32) rotate(-90)" font-size="4.4" font-weight="normal" text-anchor="middle" style="fill:#444">360</text>
<line x1="158.70" y1="453.90" x2="160.30" y2="453.90" stroke="#222" stroke-width="0.8"/>
<text transform="translate(157.00 453.90) rotate(-90)" font-size="4.4" font-weight="normal" text-anchor="middle" style="fill:#444">450</text>
<line x1="160.30" y1="521.00" x2="160.30" y2="522.60" stroke="#222" stroke-width="0.8"/>
<text x="160.30" y="526.60" font-size="4.4" font-weight="normal" text-anchor="middle" style="fill:#444">0</text>
<line x1="178.62" y1="521.00" x2="178.62" y2="522.60" stroke="#222" stroke-width="0.8"/>
<text x="178.62" y="526.60" font-size="4.4" font-weight="normal" text-anchor="middle" style="fill:#444">200</text>
<line x1="196.94" y1="521.00" x2="196.94" y2="522.60" stroke="#222" stroke-width="0.8"/>
<text x="196.94" y="526.60" font-size="4.4" font-weight="normal" text-anchor="middle" style="fill:#444">400</text>
<line x1="215.26" y1="521.00" x2="215.26" y2="522.60" stroke="#222" stroke-width="0.8"/>
<text x="215.26" y="526.60" font-size="4.4" font-weight="normal" text-anchor="middle" style="fill:#444">600</text>
<line x1="233.58" y1="521.00" x2="233.58" y2="522.60" stroke="#222" stroke-width="0.8"/>
<text x="233.58" y="526.60" font-size="4.4" font-weight="normal" text-anchor="middle" style="fill:#444">800</text>
<line x1="251.90" y1="521.00" x2="251.90" y2="522.60" stroke="#222" stroke-width="0.8"/>
<text x="251.90" y="526.60" font-size="4.4" font-weight="normal" text-anchor="middle" style="fill:#444">1000</text>
<text x="207.20" y="531.20" font-size="4.5" font-weight="normal" text-anchor="middle" style="fill:#444">FL2-A</text>
<text transform="translate(152.50 495.50) rotate(-90)" font-size="4.5" font-weight="normal" text-anchor="middle" style="fill:#444">Counts</text>
<text x="207.20" y="452.10" font-size="4.5" font-weight="normal" text-anchor="middle" style="fill:#444">Data.045</text>
<rect x="285.30" y="457.60" width="93.80" height="65.70" fill="#fff" stroke="#8a8a8a" stroke-width="0.9"/>
<path d="M285.30,523.30 L285.30,457.60 L285.63,480.11 L285.97,496.59 L286.30,506.29 L286.64,510.51 L286.97,512.33 L287.30,514.37 L287.64,515.04 L287.97,515.63 L288.30,516.07 L288.64,516.35 L288.97,516.49 L289.31,516.61 L289.64,516.55 L289.97,516.56 L290.31,517.63 L290.64,517.30 L290.97,517.56 L291.31,517.66 L291.64,518.06 L291.98,518.21 L292.31,517.78 L292.64,518.58 L292.98,518.15 L293.31,518.78 L293.65,518.80 L293.98,518.89 L294.31,518.81 L294.65,519.20 L294.98,519.15 L295.31,519.39 L295.65,519.57 L295.98,519.27 L296.32,519.37 L296.65,519.76 L296.98,519.65 L297.32,519.78 L297.65,519.76 L297.98,519.87 L298.32,520.34 L298.65,519.99 L298.99,520.41 L299.32,520.48 L299.65,520.12 L299.99,520.24 L300.32,520.22 L300.66,519.78 L300.99,519.81 L301.32,518.78 L301.66,517.03 L301.99,513.52 L302.32,508.77 L302.66,503.71 L302.99,499.32 L303.33,497.13 L303.66,497.07 L303.99,498.67 L304.33,500.96 L304.66,503.71 L304.99,506.36 L305.33,509.38 L305.66,511.10 L306.00,513.07 L306.33,514.54 L306.66,515.36 L307.00,516.78 L307.33,517.51 L307.67,517.93 L308.00,518.47 L308.33,519.14 L308.67,519.34 L309.00,519.47 L309.33,519.56 L309.67,520.12 L310.00,519.86 L310.34,520.03 L310.67,519.63 L311.00,520.19 L311.34,519.72 L311.67,520.56 L312.00,519.88 L312.34,520.27 L312.67,520.70 L313.01,520.38 L313.34,520.16 L313.67,520.52 L314.01,520.35 L314.34,520.27 L314.68,520.19 L315.01,520.26 L315.34,520.50 L315.68,519.87 L316.01,520.27 L316.34,520.41 L316.68,520.32 L317.01,520.46 L317.35,520.05 L317.68,520.61 L318.01,520.53 L318.35,520.13 L318.68,520.32 L319.01,520.11 L319.35,520.49 L319.68,520.56 L320.02,520.39 L320.35,520.40 L320.68,520.14 L321.02,520.37 L321.35,520.11 L321.69,520.67 L322.02,520.64 L322.35,520.52 L322.69,521.14 L323.02,521.41 L323.35,521.27 L323.69,521.22 L324.02,521.63 L324.36,521.48 L324.69,521.97 L325.02,521.94 L325.36,522.11 L325.69,522.03 L326.02,522.16 L326.36,522.46 L326.69,522.64 L327.03,522.62 L327.36,522.61 L327.69,522.59 L328.03,522.41 L328.36,522.43 L328.70,522.16 L329.03,522.47 L329.36,522.52 L329.70,522.17 L330.03,522.53 L330.36,522.48 L330.70,522.28 L331.03,522.30 L331.37,522.55 L331.70,522.55 L332.03,522.38 L332.37,522.31 L332.70,522.34 L333.03,522.20 L333.37,522.39 L333.70,522.63 L334.04,522.49 L334.37,522.12 L334.70,522.46 L335.04,522.59 L335.37,522.44 L335.70,522.14 L336.04,522.52 L336.37,522.40 L336.71,522.28 L337.04,522.23 L337.37,522.47 L337.71,522.38 L338.04,522.28 L338.38,522.13 L338.71,522.53 L339.04,522.15 L339.38,522.50 L339.71,522.19 L340.04,522.33 L340.38,522.18 L340.71,522.19 L341.05,522.40 L341.38,522.54 L341.71,522.41 L342.05,522.59 L342.38,522.13 L342.71,522.17 L343.05,522.33 L343.38,522.63 L343.72,522.37 L344.05,522.31 L344.38,522.34 L344.72,522.26 L345.05,522.32 L345.39,522.37 L345.72,522.48 L346.05,522.58 L346.39,522.26 L346.72,522.34 L347.05,522.26 L347.39,522.40 L347.72,522.59 L348.06,522.51 L348.39,522.33 L348.72,522.47 L349.06,522.37 L349.39,522.16 L349.72,522.24 L350.06,522.36 L350.39,522.30 L350.73,522.58 L351.06,522.17 L351.39,522.30 L351.73,522.35 L352.06,522.35 L352.40,522.47 L352.73,522.33 L353.06,522.33 L353.40,522.36 L353.73,522.54 L354.06,522.44 L354.40,522.54 L354.73,522.46 L355.07,522.64 L355.40,522.14 L355.73,522.18 L356.07,522.62 L356.40,522.16 L356.73,522.47 L357.07,522.30 L357.40,522.50 L357.74,522.29 L358.07,522.52 L358.40,522.25 L358.74,522.37 L359.07,522.18 L359.41,522.55 L359.74,522.60 L360.07,522.37 L360.41,522.47 L360.74,522.23 L361.07,522.30 L361.41,522.43 L361.74,522.47 L362.08,522.42 L362.41,522.58 L362.74,522.41 L363.08,522.52 L363.41,522.37 L363.74,522.32 L364.08,522.21 L364.41,522.62 L364.75,522.64 L365.08,522.40 L365.41,522.42 L365.75,522.23 L366.08,522.32 L366.42,522.13 L366.75,522.45 L367.08,522.17 L367.42,522.26 L367.75,522.26 L368.08,522.49 L368.42,522.31 L368.75,522.59 L369.09,522.32 L369.42,522.15 L369.75,522.50 L370.09,522.33 L370.42,522.42 L370.75,522.49 L371.09,522.22 L371.42,522.36 L371.76,522.46 L372.09,522.17 L372.42,522.13 L372.76,522.57 L373.09,522.17 L373.43,522.35 L373.76,522.18 L374.09,522.51 L374.43,522.53 L374.76,522.42 L375.09,522.13 L375.43,522.63 L375.76,522.24 L376.10,522.46 L376.43,522.48 L376.76,522.34 L377.10,522.56 L377.43,522.52 L377.76,522.50 L378.10,522.31 L378.43,522.16 L378.77,522.55 L379.10,522.25 L379.10,523.30Z" fill="#6614e2" stroke="#1e0a55" stroke-width="0.6" stroke-linejoin="round"/>
<line x1="285.30" y1="457.20" x2="285.30" y2="523.30" stroke="#111" stroke-width="1.3"/>
<line x1="285.30" y1="523.30" x2="379.50" y2="523.30" stroke="#111" stroke-width="1.3"/>
<line x1="283.70" y1="523.30" x2="285.30" y2="523.30" stroke="#222" stroke-width="0.8"/>
<text transform="translate(282.00 523.30) rotate(-90)" font-size="4.4" font-weight="normal" text-anchor="middle" style="fill:#444">0</text>
<line x1="283.70" y1="510.16" x2="285.30" y2="510.16" stroke="#222" stroke-width="0.8"/>
<text transform="translate(282.00 510.16) rotate(-90)" font-size="4.4" font-weight="normal" text-anchor="middle" style="fill:#444">90</text>
<line x1="283.70" y1="497.02" x2="285.30" y2="497.02" stroke="#222" stroke-width="0.8"/>
<text transform="translate(282.00 497.02) rotate(-90)" font-size="4.4" font-weight="normal" text-anchor="middle" style="fill:#444">180</text>
<line x1="283.70" y1="483.88" x2="285.30" y2="483.88" stroke="#222" stroke-width="0.8"/>
<text transform="translate(282.00 483.88) rotate(-90)" font-size="4.4" font-weight="normal" text-anchor="middle" style="fill:#444">270</text>
<line x1="283.70" y1="470.74" x2="285.30" y2="470.74" stroke="#222" stroke-width="0.8"/>
<text transform="translate(282.00 470.74) rotate(-90)" font-size="4.4" font-weight="normal" text-anchor="middle" style="fill:#444">360</text>
<line x1="283.70" y1="457.60" x2="285.30" y2="457.60" stroke="#222" stroke-width="0.8"/>
<text transform="translate(282.00 457.60) rotate(-90)" font-size="4.4" font-weight="normal" text-anchor="middle" style="fill:#444">450</text>
<line x1="285.30" y1="523.30" x2="285.30" y2="524.90" stroke="#222" stroke-width="0.8"/>
<text x="285.30" y="528.90" font-size="4.4" font-weight="normal" text-anchor="middle" style="fill:#444">0</text>
<line x1="303.62" y1="523.30" x2="303.62" y2="524.90" stroke="#222" stroke-width="0.8"/>
<text x="303.62" y="528.90" font-size="4.4" font-weight="normal" text-anchor="middle" style="fill:#444">200</text>
<line x1="321.94" y1="523.30" x2="321.94" y2="524.90" stroke="#222" stroke-width="0.8"/>
<text x="321.94" y="528.90" font-size="4.4" font-weight="normal" text-anchor="middle" style="fill:#444">400</text>
<line x1="340.26" y1="523.30" x2="340.26" y2="524.90" stroke="#222" stroke-width="0.8"/>
<text x="340.26" y="528.90" font-size="4.4" font-weight="normal" text-anchor="middle" style="fill:#444">600</text>
<line x1="358.58" y1="523.30" x2="358.58" y2="524.90" stroke="#222" stroke-width="0.8"/>
<text x="358.58" y="528.90" font-size="4.4" font-weight="normal" text-anchor="middle" style="fill:#444">800</text>
<line x1="376.90" y1="523.30" x2="376.90" y2="524.90" stroke="#222" stroke-width="0.8"/>
<text x="376.90" y="528.90" font-size="4.4" font-weight="normal" text-anchor="middle" style="fill:#444">1000</text>
<text x="332.20" y="533.50" font-size="4.5" font-weight="normal" text-anchor="middle" style="fill:#444">FL2-A</text>
<text transform="translate(277.50 498.33) rotate(-90)" font-size="4.5" font-weight="normal" text-anchor="middle" style="fill:#444">Counts</text>
<text x="332.20" y="455.80" font-size="4.5" font-weight="normal" text-anchor="middle" style="fill:#444">Data.057</text>
<text x="69.30" y="61.90" font-size="16.2" font-weight="bold" text-anchor="start" >Control</text>
<text x="85.30" y="141.20" font-size="16" font-weight="bold" text-anchor="middle" >JIB</text>
<text x="85.80" y="160.00" font-size="15.8" font-weight="bold" text-anchor="middle" >(30 μg/mL)</text>
<text x="203.70" y="141.20" font-size="16" font-weight="bold" text-anchor="middle" >Cisplatin</text>
<text x="204.20" y="160.00" font-size="15.8" font-weight="bold" text-anchor="middle" >(2 μg/mL)</text>
<text x="320.40" y="153.60" font-size="16" font-weight="bold" text-anchor="middle" >JIB + Cis</text>
<text transform="translate(14.0 214.2) rotate(-90)" font-size="16" font-weight="bold" text-anchor="middle">6hrs</text>
<text transform="translate(14.3 302.9) rotate(-90)" font-size="16" font-weight="bold" text-anchor="middle">12hrs</text>
<text transform="translate(14.1 395.6) rotate(-90)" font-size="16" font-weight="bold" text-anchor="middle">24hrs</text>
<text transform="translate(17.8 489.4) rotate(-90)" font-size="16" font-weight="bold" text-anchor="middle">48hrs</text>
<defs><filter id="b1" x="-50%" y="-200%" width="200%" height="500%"><feGaussianBlur stdDeviation="1.05"/></filter><filter id="b2" x="-50%" y="-200%" width="200%" height="500%"><feGaussianBlur stdDeviation="1.6"/></filter><filter id="b3" x="-50%" y="-50%" width="200%" height="200%"><feGaussianBlur stdDeviation="2.5"/></filter><pattern id="xh" width="2.6" height="2.6" patternUnits="userSpaceOnUse"><rect width="2.6" height="2.6" fill="#d4d4d4"/><path d="M-0.65,-0.65 L3.25,3.25 M3.25,-0.65 L-0.65,3.25" stroke="#262626" stroke-width="0.7"/></pattern><pattern id="hl" width="4" height="2.6" patternUnits="userSpaceOnUse"><rect width="4" height="2.6" fill="#f6f6f6"/><rect y="0" width="4" height="1.3" fill="#6c6c6c"/></pattern><linearGradient id="gA" x1="0" x2="1"><stop offset="0" stop-color="#cdcdcd"/><stop offset="1" stop-color="#e2e2e2"/></linearGradient></defs>
<defs><linearGradient id="bg0" x1="0" x2="1"><stop offset="0" stop-color="#d6d6d6"/><stop offset="1" stop-color="#e6e6e6"/></linearGradient><clipPath id="cp0"><rect x="150.3" y="589.5" width="124.50" height="23.80"/></clipPath></defs>
<rect x="150.3" y="589.5" width="124.50" height="23.80" fill="url(#bg0)"/>
<g clip-path="url(#cp0)">
<rect x="182.00" y="589.5" width="3" height="23.80" fill="#c4c4c4" filter="url(#b3)"/>
<rect x="212.00" y="589.5" width="3" height="23.80" fill="#c8c8c8" filter="url(#b3)"/>
<rect x="242.50" y="589.5" width="3" height="23.80" fill="#cccccc" filter="url(#b3)"/>
<rect x="158.00" y="601.40" width="21" height="3.0" rx="1.50" fill="#686868" filter="url(#b1)"/>
<rect x="187.50" y="601.20" width="21" height="3.0" rx="1.50" fill="#5a5a5a" filter="url(#b1)"/>
<rect x="218.00" y="601.40" width="21" height="3.0" rx="1.50" fill="#666" filter="url(#b1)"/>
<rect x="250.50" y="602.00" width="20" height="2.6" rx="1.30" fill="#cacaca" filter="url(#b2)"/>
</g>
<rect x="150.3" y="589.5" width="124.50" height="23.80" fill="none" stroke="#676767" stroke-width="1.25"/>
<text x="125.2" y="606.90" font-size="8.7" font-weight="bold" text-anchor="middle">Rb</text>
<defs><linearGradient id="bg1" x1="0" x2="1"><stop offset="0" stop-color="#d2d2d2"/><stop offset="1" stop-color="#d8d8d8"/></linearGradient><clipPath id="cp1"><rect x="150.3" y="621.0" width="124.50" height="23.30"/></clipPath></defs>
<rect x="150.3" y="621.0" width="124.50" height="23.30" fill="url(#bg1)"/>
<g clip-path="url(#cp1)">
<rect x="215.00" y="621.0" width="14" height="23.30" fill="#c6c6c6" filter="url(#b3)"/>
<path d="M156.2,630.6 C156.2,626.6 163,627.2 168,628.6 C172,629.6 176,630.4 177.5,630.8 C176,631.4 172,632.2 168,632.8 C163,634 156.2,634.6 156.2,630.6Z" fill="#000" filter="url(#b1)"/>
<rect x="236" y="621.0" width="16" height="23.30" fill="#e2e2e2" filter="url(#b3)"/>
</g>
<rect x="150.3" y="621.0" width="124.50" height="23.30" fill="none" stroke="#676767" stroke-width="1.25"/>
<text x="125.2" y="638.15" font-size="8.7" font-weight="bold" text-anchor="middle">p-Rb</text>
<defs><linearGradient id="bg2" x1="0" x2="1"><stop offset="0" stop-color="#d0d0d0"/><stop offset="1" stop-color="#dddddd"/></linearGradient><clipPath id="cp2"><rect x="150.3" y="652.4" width="124.50" height="22.80"/></clipPath></defs>
<rect x="150.3" y="652.4" width="124.50" height="22.80" fill="url(#bg2)"/>
<g clip-path="url(#cp2)">
<rect x="155.00" y="662.00" width="24" height="2.8" rx="1.40" fill="#666" filter="url(#b1)"/>
<rect x="189.10" y="662.60" width="20" height="2.6" rx="1.30" fill="#707070" filter="url(#b1)"/>
<rect x="221.20" y="662.60" width="21" height="3.2" rx="1.60" fill="#4a4a4a" filter="url(#b1)"/>
<rect x="253.00" y="662.60" width="20" height="2.6" rx="1.30" fill="#7a7a7a" filter="url(#b1)"/>
</g>
<rect x="150.3" y="652.4" width="124.50" height="22.80" fill="none" stroke="#676767" stroke-width="1.25"/>
<text x="125.2" y="669.30" font-size="8.7" font-weight="bold" text-anchor="middle">p21</text>
<defs><linearGradient id="bg3" x1="0" x2="1"><stop offset="0" stop-color="#bfbfbf"/><stop offset="1" stop-color="#cccccc"/></linearGradient><clipPath id="cp3"><rect x="150.3" y="683.6" width="124.50" height="22.80"/></clipPath></defs>
<rect x="150.3" y="683.6" width="124.50" height="22.80" fill="url(#bg3)"/>
<g clip-path="url(#cp3)">
<rect x="152.80" y="685.50" width="22" height="7.0" rx="3.50" fill="#a8a8a8" filter="url(#b3)"/>
<rect x="184.20" y="685.50" width="23" height="7.0" rx="3.50" fill="#a8a8a8" filter="url(#b3)"/>
<rect x="218.40" y="685.50" width="24" height="7.0" rx="3.50" fill="#aaaaaa" filter="url(#b3)"/>
<rect x="252.80" y="686.15" width="19" height="6.5" rx="3.25" fill="#b4b4b4" filter="url(#b3)"/>
<rect x="153.80" y="694.40" width="20" height="3.2" rx="1.60" fill="#3a3a3a" filter="url(#b1)"/>
<rect x="185.20" y="694.40" width="21" height="3.2" rx="1.60" fill="#3a3a3a" filter="url(#b1)"/>
<rect x="218.90" y="694.60" width="23" height="3.4" rx="1.70" fill="#333" filter="url(#b1)"/>
<rect x="253.30" y="694.80" width="18" height="3.0" rx="1.50" fill="#8a8a8a" filter="url(#b1)"/>
</g>
<rect x="150.3" y="683.6" width="124.50" height="22.80" fill="none" stroke="#676767" stroke-width="1.25"/>
<text x="125.2" y="700.50" font-size="8.7" font-weight="bold" text-anchor="middle">Cyclin D</text>
<defs><linearGradient id="bg4" x1="0" x2="1"><stop offset="0" stop-color="#d2d2d2"/><stop offset="1" stop-color="#dcdcdc"/></linearGradient><clipPath id="cp4"><rect x="150.3" y="714.6" width="124.50" height="23.20"/></clipPath></defs>
<rect x="150.3" y="714.6" width="124.50" height="23.20" fill="url(#bg4)"/>
<g clip-path="url(#cp4)">
<rect x="178.00" y="714.6" width="6" height="23.20" fill="#c4c4c4" filter="url(#b3)"/>
<rect x="203.60" y="714.6" width="6" height="23.20" fill="#cacaca" filter="url(#b3)"/>
<rect x="232.00" y="714.6" width="6" height="23.20" fill="#c2c2c2" filter="url(#b3)"/>
<rect x="259.00" y="714.6" width="6" height="23.20" fill="#d0d0d0" filter="url(#b3)"/>
<path d="M155.4,726.9 C155.4,724.6 160,724.7 166,724.9 C170,725.1 173.5,725.6 175,726.4 C175.5,727 175,727.6 172,728.2 C167,729.1 160,729.4 157,729.1 C155.8,728.8 155.4,728 155.4,726.9Z" fill="#0e0e0e" filter="url(#b1)"/>
</g>
<rect x="150.3" y="714.6" width="124.50" height="23.20" fill="none" stroke="#676767" stroke-width="1.25"/>
<text x="125.2" y="731.70" font-size="8.7" font-weight="bold" text-anchor="middle">Cyclin B</text>
<defs><linearGradient id="bg5" x1="0" x2="1"><stop offset="0" stop-color="#d6d6d6"/><stop offset="1" stop-color="#dedede"/></linearGradient><clipPath id="cp5"><rect x="150.3" y="746.0" width="124.50" height="23.20"/></clipPath></defs>
<rect x="150.3" y="746.0" width="124.50" height="23.20" fill="url(#bg5)"/>
<g clip-path="url(#cp5)">
<rect x="154.80" y="755.70" width="20" height="4.2" rx="2.10" fill="#2e2e2e" filter="url(#b1)"/>
<rect x="186.20" y="757.60" width="17" height="3.4" rx="1.70" fill="#a4a4a4" filter="url(#b2)"/>
</g>
<rect x="150.3" y="746.0" width="124.50" height="23.20" fill="none" stroke="#676767" stroke-width="1.25"/>
<text x="125.2" y="763.10" font-size="8.7" font-weight="bold" text-anchor="middle">Cyclin A</text>
<defs><linearGradient id="bg6" x1="0" x2="1"><stop offset="0" stop-color="#e2e2e2"/><stop offset="1" stop-color="#e8e8e8"/></linearGradient><clipPath id="cp6"><rect x="150.3" y="777.2" width="124.50" height="23.30"/></clipPath></defs>
<rect x="150.3" y="777.2" width="124.50" height="23.30" fill="url(#bg6)"/>
<g clip-path="url(#cp6)">
<rect x="157.30" y="787.50" width="21" height="4.8" rx="2.40" fill="#444" filter="url(#b1)"/>
<rect x="185.90" y="787.50" width="25" height="5.4" rx="2.70" fill="#2e2e2e" filter="url(#b1)"/>
<rect x="218.50" y="785.60" width="22" height="5.2" rx="2.60" fill="#3c3c3c" filter="url(#b1)"/>
<rect x="247.50" y="786.00" width="15" height="4.6" rx="2.30" fill="#b0b0b0" filter="url(#b2)"/>
</g>
<rect x="150.3" y="777.2" width="124.50" height="23.30" fill="none" stroke="#676767" stroke-width="1.25"/>
<text x="125.2" y="794.35" font-size="8.7" font-weight="bold" text-anchor="middle">CDK2</text>
<defs><linearGradient id="bg7" x1="0" x2="1"><stop offset="0" stop-color="#d2d2d2"/><stop offset="1" stop-color="#dcdcdc"/></linearGradient><clipPath id="cp7"><rect x="150.3" y="808.6" width="124.50" height="23.30"/></clipPath></defs>
<rect x="150.3" y="808.6" width="124.50" height="23.30" fill="url(#bg7)"/>
<g clip-path="url(#cp7)">
<rect x="156.40" y="820.10" width="22" height="4.6" rx="2.30" fill="#262626" filter="url(#b1)"/>
<rect x="189.90" y="820.40" width="21" height="4.0" rx="2.00" fill="#707070" filter="url(#b1)"/>
<rect x="224.00" y="820.60" width="20" height="4.0" rx="2.00" fill="#9e9e9e" filter="url(#b2)"/>
<rect x="255.00" y="821.00" width="16" height="4.0" rx="2.00" fill="#c6c6c6" filter="url(#b2)"/>
</g>
<rect x="150.3" y="808.6" width="124.50" height="23.30" fill="none" stroke="#676767" stroke-width="1.25"/>
<text x="125.2" y="825.75" font-size="8.7" font-weight="bold" text-anchor="middle">CDK4</text>
<defs><linearGradient id="bg8" x1="0" x2="1"><stop offset="0" stop-color="#eeeeee"/><stop offset="1" stop-color="#f2f2f2"/></linearGradient><clipPath id="cp8"><rect x="150.3" y="840.0" width="124.50" height="23.30"/></clipPath></defs>
<rect x="150.3" y="840.0" width="124.50" height="23.30" fill="url(#bg8)"/>
<g clip-path="url(#cp8)">
<rect x="156.10" y="851.50" width="22" height="2.6" rx="1.30" fill="#0a0a0a" filter="url(#b1)"/>
<rect x="188.50" y="851.30" width="20" height="2.6" rx="1.30" fill="#0a0a0a" filter="url(#b1)"/>
<rect x="219.00" y="850.90" width="20" height="2.6" rx="1.30" fill="#0a0a0a" filter="url(#b1)"/>
<rect x="248.50" y="850.30" width="20" height="2.6" rx="1.30" fill="#0a0a0a" filter="url(#b1)"/>
</g>
<rect x="150.3" y="840.0" width="124.50" height="23.30" fill="none" stroke="#676767" stroke-width="1.25"/>
<text x="125.2" y="857.15" font-size="8.7" font-weight="bold" text-anchor="middle">Actin</text>
<text x="165.30" y="574.50" font-size="8.8" font-weight="bold" text-anchor="middle" >Con</text>
<text x="196.00" y="574.50" font-size="8.8" font-weight="bold" text-anchor="middle" >Cis</text>
<text x="227.20" y="574.50" font-size="8.8" font-weight="bold" text-anchor="middle" >JIB</text>
<text x="258.00" y="574.50" font-size="8.8" font-weight="bold" text-anchor="middle" >C+J</text>
<line x1="348.5" y1="659.22" x2="348.5" y2="794.50" stroke="#000" stroke-width="1.5"/>
<line x1="347.8" y1="793.8" x2="675.0" y2="793.8" stroke="#000" stroke-width="1.6"/>
<line x1="345.3" y1="793.80" x2="348.5" y2="793.80" stroke="#000" stroke-width="1.3"/>
<text x="335.60" y="797.60" font-size="11.5" font-weight="bold" text-anchor="end">0.0</text>
<line x1="345.3" y1="777.04" x2="348.5" y2="777.04" stroke="#000" stroke-width="1.3"/>
<text x="335.60" y="780.84" font-size="11.5" font-weight="bold" text-anchor="end">0.2</text>
<line x1="345.3" y1="760.28" x2="348.5" y2="760.28" stroke="#000" stroke-width="1.3"/>
<text x="335.60" y="764.08" font-size="11.5" font-weight="bold" text-anchor="end">0.4</text>
<line x1="345.3" y1="743.52" x2="348.5" y2="743.52" stroke="#000" stroke-width="1.3"/>
<text x="335.60" y="747.32" font-size="11.5" font-weight="bold" text-anchor="end">0.6</text>
<line x1="345.3" y1="726.76" x2="348.5" y2="726.76" stroke="#000" stroke-width="1.3"/>
<text x="335.60" y="730.56" font-size="11.5" font-weight="bold" text-anchor="end">0.8</text>
<line x1="345.3" y1="710.00" x2="348.5" y2="710.00" stroke="#000" stroke-width="1.3"/>
<text x="335.60" y="713.80" font-size="11.5" font-weight="bold" text-anchor="end">1.0</text>
<line x1="345.3" y1="693.24" x2="348.5" y2="693.24" stroke="#000" stroke-width="1.3"/>
<text x="335.60" y="697.04" font-size="11.5" font-weight="bold" text-anchor="end">1.2</text>
<line x1="345.3" y1="676.48" x2="348.5" y2="676.48" stroke="#000" stroke-width="1.3"/>
<text x="335.60" y="680.28" font-size="11.5" font-weight="bold" text-anchor="end">1.4</text>
<line x1="345.3" y1="659.72" x2="348.5" y2="659.72" stroke="#000" stroke-width="1.3"/>
<text x="335.60" y="663.52" font-size="11.5" font-weight="bold" text-anchor="end">1.6</text>
<line x1="389.31" y1="789.60" x2="389.31" y2="793.8" stroke="#000" stroke-width="1.4"/>
<line x1="430.12" y1="789.60" x2="430.12" y2="793.8" stroke="#000" stroke-width="1.4"/>
<line x1="470.94" y1="789.60" x2="470.94" y2="793.8" stroke="#000" stroke-width="1.4"/>
<line x1="511.75" y1="789.60" x2="511.75" y2="793.8" stroke="#000" stroke-width="1.4"/>
<line x1="552.56" y1="789.60" x2="552.56" y2="793.8" stroke="#000" stroke-width="1.4"/>
<line x1="593.38" y1="789.60" x2="593.38" y2="793.8" stroke="#000" stroke-width="1.4"/>
<line x1="634.19" y1="789.60" x2="634.19" y2="793.8" stroke="#000" stroke-width="1.4"/>
<line x1="675.00" y1="789.60" x2="675.00" y2="793.8" stroke="#000" stroke-width="1.4"/>
<rect x="354.76" y="710.00" width="5.5" height="83.80" fill="#fff" stroke="#6a6a6a" stroke-width="0.9"/>
<line x1="357.51" y1="710.00" x2="357.51" y2="701.62" stroke="#8c8c8c" stroke-width="0.9"/>
<line x1="355.61" y1="701.62" x2="359.41" y2="701.62" stroke="#8c8c8c" stroke-width="1"/>
<rect x="361.66" y="734.30" width="6.1" height="59.50" fill="url(#xh)" stroke="#555" stroke-width="0.9"/>
<line x1="364.71" y1="734.30" x2="364.71" y2="720.06" stroke="#8c8c8c" stroke-width="0.9"/>
<line x1="362.81" y1="720.06" x2="366.61" y2="720.06" stroke="#8c8c8c" stroke-width="1"/>
<text x="365.91" y="719.60" font-size="13.0" font-weight="bold" text-anchor="middle" style="fill:#222;stroke:#222;stroke-width:0.55">*</text>
<rect x="369.36" y="743.52" width="6.0" height="50.28" fill="url(#hl)" stroke="#666" stroke-width="0.9"/>
<line x1="372.36" y1="743.52" x2="372.36" y2="730.11" stroke="#8c8c8c" stroke-width="0.9"/>
<line x1="370.46" y1="730.11" x2="374.26" y2="730.11" stroke="#8c8c8c" stroke-width="1"/>
<text x="373.56" y="729.50" font-size="13.0" font-weight="bold" text-anchor="middle" style="fill:#222;stroke:#222;stroke-width:0.55">*</text>
<rect x="377.56" y="777.04" width="4.7" height="16.76" fill="#000" stroke="#000" stroke-width="0.9"/>
<line x1="379.91" y1="777.04" x2="379.91" y2="768.66" stroke="#8c8c8c" stroke-width="0.9"/>
<line x1="378.01" y1="768.66" x2="381.81" y2="768.66" stroke="#8c8c8c" stroke-width="1"/>
<text x="381.11" y="763.70" font-size="13.0" font-weight="bold" text-anchor="middle" style="fill:#222;stroke:#222;stroke-width:0.55">*</text>
<text transform="translate(372.31 813.80) rotate(-45)" font-size="15.5" font-weight="bold" text-anchor="end">Rb</text>
<rect x="395.57" y="710.00" width="5.5" height="83.80" fill="#fff" stroke="#6a6a6a" stroke-width="0.9"/>
<line x1="398.32" y1="710.00" x2="398.32" y2="701.62" stroke="#8c8c8c" stroke-width="0.9"/>
<line x1="396.42" y1="701.62" x2="400.22" y2="701.62" stroke="#8c8c8c" stroke-width="1"/>
<rect x="402.47" y="785.84" width="6.1" height="7.96" fill="url(#xh)" stroke="#555" stroke-width="0.9"/>
<line x1="405.52" y1="785.84" x2="405.52" y2="772.01" stroke="#8c8c8c" stroke-width="0.9"/>
<line x1="403.62" y1="772.01" x2="407.42" y2="772.01" stroke="#8c8c8c" stroke-width="1"/>
<text x="406.72" y="759.20" font-size="13.0" font-weight="bold" text-anchor="middle" style="fill:#222;stroke:#222;stroke-width:0.55">*</text>
<rect x="410.17" y="785.42" width="6.0" height="8.38" fill="url(#hl)" stroke="#666" stroke-width="0.9"/>
<line x1="413.17" y1="785.42" x2="413.17" y2="772.01" stroke="#8c8c8c" stroke-width="0.9"/>
<line x1="411.27" y1="772.01" x2="415.07" y2="772.01" stroke="#8c8c8c" stroke-width="1"/>
<text x="414.37" y="760.10" font-size="13.0" font-weight="bold" text-anchor="middle" style="fill:#222;stroke:#222;stroke-width:0.55">*</text>
<rect x="418.37" y="785.84" width="4.7" height="7.96" fill="#000" stroke="#000" stroke-width="0.9"/>
<line x1="420.72" y1="785.84" x2="420.72" y2="777.88" stroke="#8c8c8c" stroke-width="0.9"/>
<line x1="418.82" y1="777.88" x2="422.62" y2="777.88" stroke="#8c8c8c" stroke-width="1"/>
<text x="421.92" y="767.00" font-size="13.0" font-weight="bold" text-anchor="middle" style="fill:#222;stroke:#222;stroke-width:0.55">*</text>
<text transform="translate(413.12 813.80) rotate(-45)" font-size="15.5" font-weight="bold" text-anchor="end">p-Rb</text>
<rect x="436.38" y="710.00" width="5.5" height="83.80" fill="#fff" stroke="#6a6a6a" stroke-width="0.9"/>
<line x1="439.13" y1="710.00" x2="439.13" y2="701.62" stroke="#8c8c8c" stroke-width="0.9"/>
<line x1="437.23" y1="701.62" x2="441.03" y2="701.62" stroke="#8c8c8c" stroke-width="1"/>
<rect x="443.28" y="716.70" width="6.1" height="77.10" fill="url(#xh)" stroke="#555" stroke-width="0.9"/>
<line x1="446.33" y1="716.70" x2="446.33" y2="703.30" stroke="#8c8c8c" stroke-width="0.9"/>
<line x1="444.43" y1="703.30" x2="448.23" y2="703.30" stroke="#8c8c8c" stroke-width="1"/>
<rect x="450.98" y="703.30" width="6.0" height="90.50" fill="url(#hl)" stroke="#666" stroke-width="0.9"/>
<line x1="453.98" y1="703.30" x2="453.98" y2="689.89" stroke="#8c8c8c" stroke-width="0.9"/>
<line x1="452.08" y1="689.89" x2="455.88" y2="689.89" stroke="#8c8c8c" stroke-width="1"/>
<rect x="459.18" y="717.12" width="4.7" height="76.68" fill="#000" stroke="#000" stroke-width="0.9"/>
<line x1="461.53" y1="717.12" x2="461.53" y2="708.32" stroke="#8c8c8c" stroke-width="0.9"/>
<line x1="459.63" y1="708.32" x2="463.43" y2="708.32" stroke="#8c8c8c" stroke-width="1"/>
<text transform="translate(453.93 813.80) rotate(-45)" font-size="15.5" font-weight="bold" text-anchor="end">p21</text>
<rect x="477.19" y="710.00" width="5.5" height="83.80" fill="#fff" stroke="#6a6a6a" stroke-width="0.9"/>
<line x1="479.94" y1="710.00" x2="479.94" y2="701.62" stroke="#8c8c8c" stroke-width="0.9"/>
<line x1="478.04" y1="701.62" x2="481.84" y2="701.62" stroke="#8c8c8c" stroke-width="1"/>
<rect x="484.09" y="731.79" width="6.1" height="62.01" fill="url(#xh)" stroke="#555" stroke-width="0.9"/>
<line x1="487.14" y1="731.79" x2="487.14" y2="718.80" stroke="#8c8c8c" stroke-width="0.9"/>
<line x1="485.24" y1="718.80" x2="489.04" y2="718.80" stroke="#8c8c8c" stroke-width="1"/>
<text x="488.34" y="712.00" font-size="13.0" font-weight="bold" text-anchor="middle" style="fill:#222;stroke:#222;stroke-width:0.55">*</text>
<rect x="491.79" y="732.63" width="6.0" height="61.17" fill="url(#hl)" stroke="#666" stroke-width="0.9"/>
<line x1="494.79" y1="732.63" x2="494.79" y2="719.22" stroke="#8c8c8c" stroke-width="0.9"/>
<line x1="492.89" y1="719.22" x2="496.69" y2="719.22" stroke="#8c8c8c" stroke-width="1"/>
<text x="495.99" y="712.00" font-size="13.0" font-weight="bold" text-anchor="middle" style="fill:#222;stroke:#222;stroke-width:0.55">*</text>
<rect x="499.99" y="763.63" width="4.7" height="30.17" fill="#000" stroke="#000" stroke-width="0.9"/>
<line x1="502.34" y1="763.63" x2="502.34" y2="755.25" stroke="#8c8c8c" stroke-width="0.9"/>
<line x1="500.44" y1="755.25" x2="504.24" y2="755.25" stroke="#8c8c8c" stroke-width="1"/>
<text x="503.54" y="745.60" font-size="13.0" font-weight="bold" text-anchor="middle" style="fill:#222;stroke:#222;stroke-width:0.55">*</text>
<text transform="translate(494.74 813.80) rotate(-45)" font-size="15.5" font-weight="bold" text-anchor="end">Cyclin D</text>
<rect x="518.01" y="710.00" width="5.5" height="83.80" fill="#fff" stroke="#6a6a6a" stroke-width="0.9"/>
<line x1="520.76" y1="710.00" x2="520.76" y2="701.62" stroke="#8c8c8c" stroke-width="0.9"/>
<line x1="518.86" y1="701.62" x2="522.66" y2="701.62" stroke="#8c8c8c" stroke-width="1"/>
<rect x="524.91" y="785.08" width="6.1" height="8.72" fill="url(#xh)" stroke="#555" stroke-width="0.9"/>
<line x1="527.96" y1="785.08" x2="527.96" y2="771.34" stroke="#8c8c8c" stroke-width="0.9"/>
<line x1="526.06" y1="771.34" x2="529.86" y2="771.34" stroke="#8c8c8c" stroke-width="1"/>
<text x="529.16" y="765.30" font-size="13.0" font-weight="bold" text-anchor="middle" style="fill:#222;stroke:#222;stroke-width:0.55">*</text>
<rect x="532.61" y="785.08" width="6.0" height="8.72" fill="url(#hl)" stroke="#666" stroke-width="0.9"/>
<line x1="535.61" y1="785.08" x2="535.61" y2="772.18" stroke="#8c8c8c" stroke-width="0.9"/>
<line x1="533.71" y1="772.18" x2="537.51" y2="772.18" stroke="#8c8c8c" stroke-width="1"/>
<text x="536.81" y="765.60" font-size="13.0" font-weight="bold" text-anchor="middle" style="fill:#222;stroke:#222;stroke-width:0.55">*</text>
<rect x="540.81" y="785.84" width="4.7" height="7.96" fill="#000" stroke="#000" stroke-width="0.9"/>
<line x1="543.16" y1="785.84" x2="543.16" y2="777.88" stroke="#8c8c8c" stroke-width="0.9"/>
<line x1="541.26" y1="777.88" x2="545.06" y2="777.88" stroke="#8c8c8c" stroke-width="1"/>
<text x="544.36" y="773.30" font-size="13.0" font-weight="bold" text-anchor="middle" style="fill:#222;stroke:#222;stroke-width:0.55">*</text>
<text transform="translate(535.56 813.80) rotate(-45)" font-size="15.5" font-weight="bold" text-anchor="end">Cyclin B</text>
<rect x="558.82" y="710.00" width="5.5" height="83.80" fill="#fff" stroke="#6a6a6a" stroke-width="0.9"/>
<line x1="561.57" y1="710.00" x2="561.57" y2="701.62" stroke="#8c8c8c" stroke-width="0.9"/>
<line x1="559.67" y1="701.62" x2="563.47" y2="701.62" stroke="#8c8c8c" stroke-width="1"/>
<rect x="565.72" y="785.42" width="6.1" height="8.38" fill="url(#xh)" stroke="#555" stroke-width="0.9"/>
<line x1="568.77" y1="785.42" x2="568.77" y2="772.18" stroke="#8c8c8c" stroke-width="0.9"/>
<line x1="566.87" y1="772.18" x2="570.67" y2="772.18" stroke="#8c8c8c" stroke-width="1"/>
<text x="569.97" y="767.50" font-size="13.0" font-weight="bold" text-anchor="middle" style="fill:#222;stroke:#222;stroke-width:0.55">*</text>
<rect x="573.42" y="782.57" width="6.0" height="11.23" fill="url(#hl)" stroke="#666" stroke-width="0.9"/>
<line x1="576.42" y1="782.57" x2="576.42" y2="769.50" stroke="#8c8c8c" stroke-width="0.9"/>
<line x1="574.52" y1="769.50" x2="578.32" y2="769.50" stroke="#8c8c8c" stroke-width="1"/>
<text x="577.62" y="761.50" font-size="13.0" font-weight="bold" text-anchor="middle" style="fill:#222;stroke:#222;stroke-width:0.55">*</text>
<rect x="581.62" y="786.26" width="4.7" height="7.54" fill="#000" stroke="#000" stroke-width="0.9"/>
<line x1="583.97" y1="786.26" x2="583.97" y2="778.72" stroke="#8c8c8c" stroke-width="0.9"/>
<line x1="582.07" y1="778.72" x2="585.87" y2="778.72" stroke="#8c8c8c" stroke-width="1"/>
<text x="585.17" y="775.40" font-size="13.0" font-weight="bold" text-anchor="middle" style="fill:#222;stroke:#222;stroke-width:0.55">*</text>
<text transform="translate(576.37 813.80) rotate(-45)" font-size="15.5" font-weight="bold" text-anchor="end">Cyclin A</text>
<rect x="599.63" y="710.00" width="5.5" height="83.80" fill="#fff" stroke="#6a6a6a" stroke-width="0.9"/>
<line x1="602.38" y1="710.00" x2="602.38" y2="701.62" stroke="#8c8c8c" stroke-width="0.9"/>
<line x1="600.48" y1="701.62" x2="604.28" y2="701.62" stroke="#8c8c8c" stroke-width="1"/>
<rect x="606.53" y="680.08" width="6.1" height="113.72" fill="url(#xh)" stroke="#555" stroke-width="0.9"/>
<line x1="609.58" y1="680.08" x2="609.58" y2="668.10" stroke="#8c8c8c" stroke-width="0.9"/>
<line x1="607.68" y1="668.10" x2="611.48" y2="668.10" stroke="#8c8c8c" stroke-width="1"/>
<rect x="614.23" y="687.37" width="6.0" height="106.43" fill="url(#hl)" stroke="#666" stroke-width="0.9"/>
<line x1="617.23" y1="687.37" x2="617.23" y2="674.80" stroke="#8c8c8c" stroke-width="0.9"/>
<line x1="615.33" y1="674.80" x2="619.13" y2="674.80" stroke="#8c8c8c" stroke-width="1"/>
<rect x="622.43" y="774.53" width="4.7" height="19.27" fill="#000" stroke="#000" stroke-width="0.9"/>
<line x1="624.78" y1="774.53" x2="624.78" y2="766.15" stroke="#8c8c8c" stroke-width="0.9"/>
<line x1="622.88" y1="766.15" x2="626.68" y2="766.15" stroke="#8c8c8c" stroke-width="1"/>
<text x="625.98" y="762.10" font-size="13.0" font-weight="bold" text-anchor="middle" style="fill:#222;stroke:#222;stroke-width:0.55">*</text>
<text transform="translate(617.18 813.80) rotate(-45)" font-size="15.5" font-weight="bold" text-anchor="end">CDK2</text>
<rect x="640.44" y="710.00" width="5.5" height="83.80" fill="#fff" stroke="#6a6a6a" stroke-width="0.9"/>
<line x1="643.19" y1="710.00" x2="643.19" y2="701.62" stroke="#8c8c8c" stroke-width="0.9"/>
<line x1="641.29" y1="701.62" x2="645.09" y2="701.62" stroke="#8c8c8c" stroke-width="1"/>
<rect x="647.34" y="731.79" width="6.1" height="62.01" fill="url(#xh)" stroke="#555" stroke-width="0.9"/>
<line x1="650.39" y1="731.79" x2="650.39" y2="719.22" stroke="#8c8c8c" stroke-width="0.9"/>
<line x1="648.49" y1="719.22" x2="652.29" y2="719.22" stroke="#8c8c8c" stroke-width="1"/>
<text x="651.59" y="708.80" font-size="13.0" font-weight="bold" text-anchor="middle" style="fill:#222;stroke:#222;stroke-width:0.55">*</text>
<rect x="655.04" y="739.75" width="6.0" height="54.05" fill="url(#hl)" stroke="#666" stroke-width="0.9"/>
<line x1="658.04" y1="739.75" x2="658.04" y2="726.76" stroke="#8c8c8c" stroke-width="0.9"/>
<line x1="656.14" y1="726.76" x2="659.94" y2="726.76" stroke="#8c8c8c" stroke-width="1"/>
<text x="659.24" y="718.30" font-size="13.0" font-weight="bold" text-anchor="middle" style="fill:#222;stroke:#222;stroke-width:0.55">*</text>
<rect x="663.24" y="785.76" width="4.7" height="8.04" fill="#000" stroke="#000" stroke-width="0.9"/>
<line x1="665.59" y1="785.76" x2="665.59" y2="777.88" stroke="#8c8c8c" stroke-width="0.9"/>
<line x1="663.69" y1="777.88" x2="667.49" y2="777.88" stroke="#8c8c8c" stroke-width="1"/>
<text x="666.79" y="774.20" font-size="13.0" font-weight="bold" text-anchor="middle" style="fill:#222;stroke:#222;stroke-width:0.55">*</text>
<text transform="translate(657.99 813.80) rotate(-45)" font-size="15.5" font-weight="bold" text-anchor="end">CDK4</text>
<text x="609.48" y="666.00" font-size="14.5" font-weight="bold" text-anchor="middle" style="fill:#222">#</text>
<text x="617.08" y="668.40" font-size="14.5" font-weight="bold" text-anchor="middle" style="fill:#222">#</text>
<text transform="translate(315.6 726.7) rotate(-90)" font-size="14.2" font-weight="bold" text-anchor="middle">Protein expressions</text>
<rect x="399.80" y="637.40" width="5.8" height="6.4" fill="#fff" stroke="#555" stroke-width="0.8"/>
<text x="409.00" y="644.00" font-size="12.8" font-weight="bold" text-anchor="start" >Con</text>
<rect x="441.00" y="637.40" width="5.8" height="6.4" fill="url(#xh)" stroke="#555" stroke-width="0.8"/>
<text x="450.40" y="644.00" font-size="12.8" font-weight="bold" text-anchor="start" >Cisplatin</text>
<rect x="508.90" y="637.40" width="5.8" height="6.4" fill="url(#hl)" stroke="#666" stroke-width="0.8"/>
<text x="518.20" y="644.00" font-size="12.8" font-weight="bold" text-anchor="start" >JIB</text>
<rect x="548.70" y="637.40" width="5.8" height="6.4" fill="#000" stroke="#000" stroke-width="0.8"/>
<text x="557.50" y="644.00" font-size="12.8" font-weight="bold" text-anchor="start" >C+J</text>
</svg>
</body></html>
